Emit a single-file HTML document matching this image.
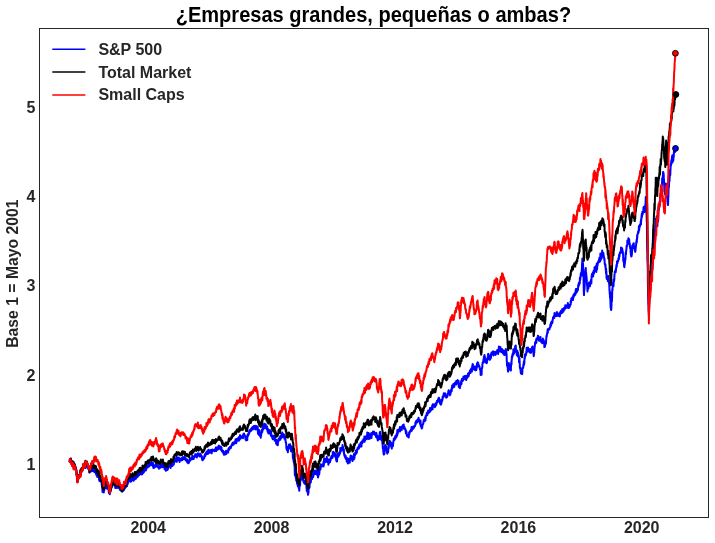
<!DOCTYPE html>
<html lang="es"><head><meta charset="utf-8"><title>¿Empresas grandes, pequeñas o ambas?</title>
<style>html,body{margin:0;padding:0;background:#fff}body{width:715px;height:543px;overflow:hidden}svg{display:block;will-change:transform;opacity:.999}text{font-family:"Liberation Sans",Arial,sans-serif;font-weight:bold}.t{fill:#262626}</style></head><body>
<svg width="715" height="543" viewBox="0 0 715 543">
<rect width="715" height="543" fill="#fff"/>
<g fill="none" stroke-linejoin="round" stroke-linecap="butt" stroke-width="2.0">
<path stroke="#0000ff" d="M69.13 462.0 L69.26 461.8 L69.38 461.6 L69.51 461.3 L69.63 461.7 L69.76 460.9 L69.88 459.4 L70.01 461.0 L70.13 460.5 L70.26 460.1 L70.38 460.0 L70.51 460.5 L70.63 460.1 L70.76 458.7 L70.88 462.2 L71.01 463.4 L71.13 462.2 L71.26 460.3 L71.38 462.9 L71.51 463.6 L71.63 462.5 L71.76 462.4 L71.88 461.5 L72.01 464.4 L72.13 463.1 L72.26 461.7 L72.38 462.0 L72.51 462.0 L72.63 462.5 L72.76 462.7 L72.88 461.5 L73.01 463.0 L73.13 462.7 L73.26 463.9 L73.38 464.2 L73.51 464.4 L73.63 463.4 L73.76 463.6 L73.88 462.2 L74.01 464.7 L74.13 465.9 L74.26 463.9 L74.38 464.3 L74.51 464.4 L74.63 464.6 L74.76 464.7 L74.88 467.0 L75.01 466.1 L75.13 466.2 L75.26 467.9 L75.38 466.9 L75.51 466.5 L75.63 468.3 L75.76 469.5 L75.88 468.9 L76.01 470.6 L76.13 469.6 L76.26 470.1 L76.38 470.8 L76.51 472.5 L76.63 474.6 L76.76 474.2 L76.88 473.2 L77.01 476.6 L77.13 477.4 L77.26 479.5 L77.38 481.6 L77.51 481.2 L77.63 481.8 L77.76 479.8 L77.88 478.3 L78.01 476.3 L78.13 477.3 L78.26 478.7 L78.38 476.6 L78.51 477.6 L78.63 476.5 L78.76 477.3 L78.88 475.2 L79.01 476.1 L79.13 476.0 L79.26 476.1 L79.38 477.3 L79.51 474.5 L79.63 474.9 L79.76 475.9 L79.88 476.0 L80.01 474.2 L80.13 473.7 L80.26 474.9 L80.38 470.9 L80.51 473.8 L80.63 475.5 L80.76 471.6 L80.88 472.3 L81.01 470.7 L81.13 469.7 L81.26 469.8 L81.38 471.7 L81.51 470.2 L81.63 471.6 L81.76 470.6 L81.88 469.7 L82.01 470.7 L82.13 470.1 L82.26 468.6 L82.38 469.9 L82.51 468.8 L82.63 468.9 L82.76 468.4 L82.88 469.0 L83.01 467.9 L83.13 465.1 L83.26 465.9 L83.38 467.6 L83.51 467.1 L83.63 467.9 L83.76 467.5 L83.88 465.9 L84.01 467.6 L84.13 465.9 L84.26 464.4 L84.38 466.1 L84.51 464.2 L84.63 466.0 L84.76 466.3 L84.88 466.2 L85.01 463.9 L85.13 465.2 L85.26 462.6 L85.38 462.3 L85.51 462.4 L85.63 468.0 L85.76 465.9 L85.88 464.3 L86.01 462.5 L86.13 463.4 L86.26 462.6 L86.38 462.5 L86.51 463.0 L86.63 463.4 L86.76 464.0 L86.88 464.1 L87.01 463.9 L87.13 465.6 L87.26 463.5 L87.38 466.4 L87.51 465.5 L87.63 467.4 L87.76 467.3 L87.88 464.8 L88.01 465.2 L88.13 466.6 L88.26 468.9 L88.38 466.6 L88.51 468.0 L88.63 468.9 L88.76 468.7 L88.88 468.7 L89.01 469.9 L89.13 468.7 L89.26 469.6 L89.38 469.7 L89.51 472.6 L89.63 471.6 L89.76 469.4 L89.88 471.9 L90.01 471.4 L90.13 470.2 L90.26 471.6 L90.38 471.6 L90.51 471.6 L90.63 468.5 L90.76 471.7 L90.88 469.1 L91.01 468.5 L91.13 465.8 L91.26 468.0 L91.38 468.3 L91.51 467.0 L91.63 467.2 L91.76 467.2 L91.88 468.0 L92.01 466.9 L92.13 467.8 L92.26 468.0 L92.38 469.2 L92.51 469.5 L92.63 471.1 L92.76 467.6 L92.88 467.2 L93.01 471.0 L93.13 469.5 L93.26 467.5 L93.38 469.2 L93.51 467.8 L93.63 470.6 L93.76 470.5 L93.88 470.5 L94.01 471.3 L94.13 470.5 L94.26 469.0 L94.38 472.1 L94.51 470.8 L94.63 470.9 L94.76 469.9 L94.88 471.4 L95.01 470.4 L95.13 470.1 L95.26 470.3 L95.38 471.4 L95.51 471.2 L95.63 471.5 L95.76 473.7 L95.88 472.0 L96.01 471.7 L96.13 473.5 L96.26 473.2 L96.38 473.7 L96.51 475.5 L96.63 472.3 L96.76 472.4 L96.88 475.2 L97.01 475.6 L97.13 473.5 L97.26 476.9 L97.38 475.1 L97.51 474.7 L97.63 475.4 L97.76 474.0 L97.88 475.0 L98.01 475.3 L98.13 475.3 L98.26 475.1 L98.38 476.0 L98.51 474.9 L98.63 475.3 L98.76 475.6 L98.88 475.3 L99.01 478.3 L99.13 479.8 L99.26 478.0 L99.38 475.8 L99.51 481.0 L99.63 478.4 L99.76 477.1 L99.88 478.0 L100.01 481.2 L100.13 480.8 L100.26 479.8 L100.38 479.0 L100.51 481.2 L100.63 481.0 L100.76 479.7 L100.88 481.5 L101.01 481.5 L101.13 481.3 L101.26 481.8 L101.38 482.4 L101.51 483.0 L101.63 482.2 L101.76 485.3 L101.88 482.9 L102.01 486.4 L102.13 486.5 L102.26 488.3 L102.38 488.1 L102.51 492.0 L102.63 489.7 L102.76 489.8 L102.88 490.9 L103.01 491.2 L103.13 491.4 L103.26 491.9 L103.38 492.3 L103.51 492.0 L103.63 490.8 L103.76 492.5 L103.88 491.8 L104.01 489.0 L104.13 486.7 L104.26 487.9 L104.38 489.9 L104.51 486.7 L104.63 488.7 L104.76 487.6 L104.88 485.8 L105.01 486.2 L105.13 487.4 L105.26 487.0 L105.38 487.1 L105.51 485.1 L105.63 485.2 L105.76 485.8 L105.88 485.7 L106.01 485.4 L106.13 483.4 L106.26 486.1 L106.38 484.7 L106.51 485.8 L106.63 488.4 L106.76 486.5 L106.88 485.4 L107.01 483.5 L107.13 487.6 L107.26 488.0 L107.38 487.1 L107.51 488.0 L107.63 487.9 L107.76 487.3 L107.88 487.2 L108.01 486.5 L108.13 487.2 L108.26 487.5 L108.38 488.8 L108.51 490.3 L108.63 488.8 L108.76 490.3 L108.88 492.9 L109.01 490.5 L109.13 490.8 L109.26 491.0 L109.38 492.4 L109.51 492.4 L109.63 493.6 L109.76 494.3 L109.88 493.4 L110.01 492.4 L110.13 492.8 L110.26 491.1 L110.38 491.6 L110.51 490.2 L110.63 488.6 L110.76 488.7 L110.88 488.0 L111.01 489.5 L111.13 488.5 L111.26 488.6 L111.38 487.3 L111.51 486.4 L111.63 485.3 L111.76 485.4 L111.88 486.9 L112.01 484.4 L112.13 486.2 L112.26 486.8 L112.38 483.1 L112.51 483.5 L112.63 483.4 L112.76 485.2 L112.88 484.0 L113.01 481.7 L113.13 483.5 L113.26 482.7 L113.38 484.1 L113.51 483.5 L113.63 483.4 L113.76 483.1 L113.88 483.3 L114.01 482.6 L114.13 483.8 L114.26 483.9 L114.38 483.6 L114.51 483.7 L114.63 484.2 L114.76 485.5 L114.88 484.4 L115.01 483.5 L115.13 486.0 L115.26 488.0 L115.38 484.4 L115.51 485.3 L115.63 485.4 L115.76 486.1 L115.88 486.1 L116.01 486.3 L116.13 484.5 L116.26 485.1 L116.38 485.2 L116.51 485.6 L116.63 484.1 L116.76 484.6 L116.88 486.4 L117.01 488.1 L117.13 483.2 L117.26 483.0 L117.38 486.2 L117.51 486.6 L117.63 486.4 L117.76 485.7 L117.88 485.2 L118.01 487.7 L118.13 486.7 L118.26 486.8 L118.38 485.5 L118.51 486.9 L118.63 486.0 L118.76 486.3 L118.88 486.1 L119.01 486.2 L119.13 486.3 L119.26 486.2 L119.38 488.2 L119.51 488.9 L119.63 486.6 L119.76 487.4 L119.88 488.2 L120.01 490.0 L120.13 488.8 L120.26 489.0 L120.38 489.0 L120.51 488.8 L120.63 489.0 L120.76 488.9 L120.88 488.9 L121.01 489.3 L121.13 490.1 L121.26 489.4 L121.38 490.9 L121.51 490.2 L121.63 489.5 L121.76 487.5 L121.88 490.6 L122.01 490.9 L122.13 490.0 L122.26 489.0 L122.38 490.5 L122.51 491.5 L122.63 490.4 L122.76 491.1 L122.88 490.1 L123.01 490.5 L123.13 490.4 L123.26 488.4 L123.38 489.9 L123.51 490.7 L123.63 489.6 L123.76 488.5 L123.88 485.9 L124.01 487.4 L124.13 485.5 L124.26 488.9 L124.38 489.1 L124.51 488.2 L124.63 487.0 L124.76 485.6 L124.88 486.7 L125.01 486.0 L125.13 487.9 L125.26 486.8 L125.38 486.8 L125.51 487.3 L125.63 487.5 L125.76 487.1 L125.88 486.2 L126.01 486.3 L126.13 486.5 L126.26 485.8 L126.38 485.3 L126.51 483.7 L126.63 482.3 L126.76 484.5 L126.88 482.6 L127.01 486.1 L127.13 485.2 L127.26 482.8 L127.38 483.1 L127.51 482.2 L127.63 482.8 L127.76 484.0 L127.88 482.2 L128.01 479.9 L128.13 482.8 L128.26 482.4 L128.38 482.3 L128.51 481.3 L128.63 480.6 L128.76 481.5 L128.88 480.5 L129.01 480.2 L129.13 480.6 L129.26 479.9 L129.38 480.4 L129.51 480.7 L129.63 478.5 L129.76 477.7 L129.88 479.3 L130.01 480.1 L130.13 479.1 L130.26 479.3 L130.38 476.6 L130.51 480.8 L130.63 480.9 L130.76 481.8 L130.88 480.4 L131.01 480.4 L131.13 480.1 L131.26 479.0 L131.38 481.2 L131.51 480.3 L131.63 479.6 L131.76 478.1 L131.88 478.5 L132.01 478.8 L132.13 479.0 L132.26 478.7 L132.38 477.7 L132.51 477.4 L132.63 476.9 L132.76 478.9 L132.88 479.4 L133.01 479.3 L133.13 480.1 L133.26 477.0 L133.38 478.9 L133.51 480.8 L133.63 480.8 L133.76 478.1 L133.88 479.4 L134.01 478.6 L134.13 477.7 L134.26 478.0 L134.38 477.5 L134.51 478.2 L134.63 478.8 L134.76 479.4 L134.88 478.1 L135.01 478.5 L135.13 477.7 L135.26 477.5 L135.38 476.5 L135.51 477.9 L135.63 476.8 L135.76 478.2 L135.88 478.8 L136.01 478.0 L136.13 478.2 L136.26 477.4 L136.38 477.8 L136.51 477.1 L136.63 477.6 L136.76 476.1 L136.88 477.1 L137.01 475.0 L137.13 475.6 L137.26 476.5 L137.38 476.2 L137.51 477.0 L137.63 476.7 L137.76 476.6 L137.88 475.0 L138.01 475.6 L138.13 475.9 L138.26 474.9 L138.38 474.9 L138.51 473.5 L138.63 474.7 L138.76 475.4 L138.88 473.9 L139.01 475.3 L139.13 475.0 L139.26 475.2 L139.38 473.7 L139.51 473.5 L139.63 473.3 L139.76 472.7 L139.88 474.2 L140.01 474.0 L140.13 473.4 L140.26 472.4 L140.38 472.5 L140.51 473.6 L140.63 473.4 L140.76 473.8 L140.88 473.0 L141.01 473.5 L141.13 473.0 L141.26 473.2 L141.38 474.4 L141.51 473.4 L141.63 473.8 L141.76 473.6 L141.88 473.3 L142.01 473.8 L142.13 472.1 L142.26 474.3 L142.38 470.0 L142.51 470.3 L142.63 469.9 L142.76 472.1 L142.88 472.8 L143.01 471.5 L143.13 471.0 L143.26 472.9 L143.38 472.7 L143.51 471.3 L143.63 470.8 L143.76 470.8 L143.88 471.5 L144.01 471.9 L144.13 471.9 L144.26 471.0 L144.38 469.3 L144.51 470.8 L144.63 468.6 L144.76 470.2 L144.88 469.1 L145.01 469.4 L145.13 468.8 L145.26 470.0 L145.38 469.1 L145.51 468.9 L145.63 466.5 L145.76 468.3 L145.88 470.5 L146.01 469.7 L146.13 467.8 L146.26 468.3 L146.38 469.1 L146.51 468.2 L146.63 467.0 L146.76 467.1 L146.88 466.9 L147.01 467.3 L147.13 466.0 L147.26 466.6 L147.38 465.9 L147.51 466.3 L147.63 466.6 L147.76 467.5 L147.88 464.9 L148.01 466.7 L148.13 465.5 L148.26 465.0 L148.38 466.5 L148.51 466.0 L148.63 466.0 L148.76 464.6 L148.88 464.9 L149.01 466.2 L149.13 466.4 L149.26 465.5 L149.38 465.2 L149.51 464.5 L149.63 463.7 L149.76 463.8 L149.88 464.6 L150.01 463.0 L150.13 463.7 L150.26 463.2 L150.38 464.3 L150.51 463.9 L150.63 462.7 L150.76 463.8 L150.88 465.2 L151.01 464.3 L151.13 462.8 L151.26 462.9 L151.38 461.7 L151.51 462.9 L151.63 463.1 L151.76 464.9 L151.88 464.4 L152.01 463.6 L152.13 464.0 L152.26 464.0 L152.38 463.8 L152.51 464.1 L152.63 463.4 L152.76 466.3 L152.88 465.2 L153.01 463.1 L153.13 465.2 L153.26 466.1 L153.38 468.0 L153.51 466.0 L153.63 464.6 L153.76 467.4 L153.88 466.4 L154.01 465.8 L154.13 466.1 L154.26 467.0 L154.38 467.7 L154.51 466.0 L154.63 466.1 L154.76 467.4 L154.88 467.4 L155.01 466.7 L155.13 466.7 L155.26 465.3 L155.38 465.9 L155.51 466.2 L155.63 466.5 L155.76 466.2 L155.88 465.5 L156.01 465.0 L156.13 463.0 L156.26 464.3 L156.38 464.3 L156.51 464.6 L156.63 464.4 L156.76 463.1 L156.88 465.0 L157.01 465.3 L157.13 465.3 L157.26 465.4 L157.38 466.8 L157.51 465.9 L157.63 466.8 L157.76 467.3 L157.88 467.3 L158.01 467.0 L158.13 465.9 L158.26 466.8 L158.38 467.1 L158.51 467.2 L158.63 467.5 L158.76 468.0 L158.88 468.7 L159.01 468.1 L159.13 468.5 L159.26 466.6 L159.38 467.6 L159.51 467.9 L159.63 467.1 L159.76 467.0 L159.88 467.3 L160.01 467.5 L160.13 466.4 L160.26 465.5 L160.38 467.1 L160.51 467.7 L160.63 466.3 L160.76 467.1 L160.88 464.6 L161.01 465.0 L161.13 465.7 L161.26 465.1 L161.38 465.1 L161.51 465.4 L161.63 465.2 L161.76 465.4 L161.88 465.6 L162.01 466.9 L162.13 466.6 L162.26 467.3 L162.38 466.7 L162.51 466.4 L162.63 464.9 L162.76 465.9 L162.88 463.5 L163.01 466.1 L163.13 466.3 L163.26 466.9 L163.38 466.5 L163.51 466.2 L163.63 466.1 L163.76 466.2 L163.88 466.3 L164.01 466.9 L164.13 466.7 L164.26 466.0 L164.38 467.4 L164.51 469.2 L164.63 467.4 L164.76 467.7 L164.88 469.2 L165.01 468.7 L165.13 467.6 L165.26 468.3 L165.38 467.3 L165.51 468.0 L165.63 469.8 L165.76 470.7 L165.88 468.6 L166.01 469.2 L166.13 470.6 L166.26 469.4 L166.38 469.6 L166.51 470.3 L166.63 468.9 L166.76 469.3 L166.88 468.1 L167.01 467.0 L167.13 468.8 L167.26 468.9 L167.38 468.5 L167.51 469.4 L167.63 470.0 L167.76 468.2 L167.88 469.0 L168.01 466.9 L168.13 468.7 L168.26 466.5 L168.38 465.4 L168.51 465.3 L168.63 466.9 L168.76 466.5 L168.88 465.7 L169.01 465.3 L169.13 466.0 L169.26 465.4 L169.38 465.3 L169.51 465.2 L169.63 466.3 L169.76 465.4 L169.88 464.9 L170.01 465.2 L170.13 465.7 L170.26 466.8 L170.38 465.7 L170.51 466.5 L170.63 467.9 L170.76 465.6 L170.88 465.9 L171.01 462.9 L171.13 463.9 L171.26 463.7 L171.38 464.1 L171.51 464.7 L171.63 465.0 L171.76 464.6 L171.88 464.5 L172.01 465.5 L172.13 465.5 L172.26 464.4 L172.38 466.1 L172.51 465.7 L172.63 464.8 L172.76 464.2 L172.88 464.1 L173.01 464.2 L173.13 464.1 L173.26 463.4 L173.38 463.4 L173.51 462.5 L173.63 462.5 L173.76 464.6 L173.88 463.7 L174.01 461.9 L174.13 462.8 L174.26 461.5 L174.38 462.5 L174.51 461.5 L174.63 461.7 L174.76 461.6 L174.88 460.3 L175.01 460.6 L175.13 461.0 L175.26 461.0 L175.38 460.0 L175.51 460.0 L175.63 458.7 L175.76 458.6 L175.88 459.2 L176.01 460.4 L176.13 460.5 L176.26 459.9 L176.38 459.9 L176.51 458.4 L176.63 457.0 L176.76 461.0 L176.88 461.8 L177.01 459.6 L177.13 458.0 L177.26 458.4 L177.38 457.6 L177.51 459.1 L177.63 459.1 L177.76 459.6 L177.88 459.1 L178.01 459.0 L178.13 458.5 L178.26 458.6 L178.38 458.2 L178.51 457.8 L178.63 458.5 L178.76 460.2 L178.88 457.5 L179.01 459.2 L179.13 459.8 L179.26 459.4 L179.38 460.6 L179.51 462.0 L179.63 460.8 L179.76 460.9 L179.88 458.6 L180.01 459.3 L180.13 460.3 L180.26 460.2 L180.38 460.5 L180.51 460.1 L180.63 459.9 L180.76 460.1 L180.88 459.5 L181.01 460.6 L181.13 460.3 L181.26 459.6 L181.38 459.5 L181.51 459.2 L181.63 458.6 L181.76 458.1 L181.88 458.8 L182.01 458.3 L182.13 458.1 L182.26 459.8 L182.38 459.6 L182.51 460.0 L182.63 459.2 L182.76 457.9 L182.88 457.1 L183.01 457.6 L183.13 459.1 L183.26 458.6 L183.38 457.9 L183.51 458.1 L183.63 457.4 L183.76 457.5 L183.88 457.5 L184.01 458.7 L184.13 458.9 L184.26 457.8 L184.38 458.3 L184.51 458.7 L184.63 457.2 L184.76 456.6 L184.88 457.1 L185.01 458.7 L185.13 457.5 L185.26 458.3 L185.38 458.8 L185.51 459.5 L185.63 460.5 L185.76 458.6 L185.88 459.2 L186.01 459.9 L186.13 459.8 L186.26 459.6 L186.38 460.2 L186.51 460.5 L186.63 459.6 L186.76 460.1 L186.88 460.6 L187.01 462.0 L187.13 459.5 L187.26 462.0 L187.38 462.6 L187.51 461.4 L187.63 459.9 L187.76 462.0 L187.88 460.9 L188.01 461.8 L188.13 463.1 L188.26 462.6 L188.38 462.3 L188.51 463.3 L188.63 462.4 L188.76 463.0 L188.88 462.6 L189.01 462.1 L189.13 460.7 L189.26 461.8 L189.38 460.7 L189.51 460.6 L189.63 460.0 L189.76 461.3 L189.88 460.3 L190.01 460.0 L190.13 458.6 L190.26 460.2 L190.38 459.5 L190.51 458.9 L190.63 458.6 L190.76 459.0 L190.88 458.7 L191.01 458.3 L191.13 458.7 L191.26 458.1 L191.38 459.3 L191.51 458.8 L191.63 459.5 L191.76 459.5 L191.88 458.0 L192.01 457.9 L192.13 457.9 L192.26 455.7 L192.38 456.4 L192.51 457.8 L192.63 457.3 L192.76 458.7 L192.88 457.3 L193.01 457.1 L193.13 457.2 L193.26 458.9 L193.38 456.8 L193.51 458.9 L193.63 456.5 L193.76 458.9 L193.88 456.8 L194.01 457.0 L194.13 456.8 L194.26 457.4 L194.38 457.2 L194.51 455.6 L194.63 456.7 L194.76 455.8 L194.88 455.9 L195.01 455.5 L195.13 454.8 L195.26 454.2 L195.38 454.7 L195.51 455.6 L195.63 455.2 L195.76 456.2 L195.88 455.0 L196.01 454.3 L196.13 456.2 L196.26 456.9 L196.38 455.9 L196.51 456.4 L196.63 457.1 L196.76 456.7 L196.88 457.4 L197.01 455.3 L197.13 454.3 L197.26 456.3 L197.38 456.2 L197.51 456.2 L197.63 454.0 L197.76 453.6 L197.88 453.3 L198.01 454.8 L198.13 454.7 L198.26 454.7 L198.38 454.7 L198.51 455.4 L198.63 454.1 L198.76 455.0 L198.88 455.3 L199.01 455.1 L199.13 455.4 L199.26 454.5 L199.38 455.0 L199.51 455.7 L199.63 456.4 L199.76 455.9 L199.88 455.6 L200.01 455.7 L200.13 453.5 L200.26 455.0 L200.38 455.6 L200.51 455.1 L200.63 454.9 L200.76 455.3 L200.88 455.6 L201.01 455.7 L201.13 455.4 L201.26 455.2 L201.38 456.9 L201.51 455.4 L201.63 456.6 L201.76 456.5 L201.88 458.2 L202.01 459.2 L202.13 459.7 L202.26 458.3 L202.38 457.8 L202.51 458.5 L202.63 459.3 L202.76 460.3 L202.88 457.5 L203.01 459.7 L203.13 459.7 L203.26 459.3 L203.38 459.1 L203.51 458.4 L203.63 458.4 L203.76 458.4 L203.88 458.6 L204.01 457.4 L204.13 457.7 L204.26 458.2 L204.38 455.8 L204.51 456.2 L204.63 455.8 L204.76 455.6 L204.88 454.3 L205.01 455.0 L205.13 456.4 L205.26 455.5 L205.38 455.5 L205.51 455.4 L205.63 455.0 L205.76 454.7 L205.88 453.0 L206.01 454.4 L206.13 453.3 L206.26 453.7 L206.38 452.1 L206.51 452.5 L206.63 452.1 L206.76 452.6 L206.88 451.5 L207.01 452.8 L207.13 452.2 L207.26 454.1 L207.38 453.3 L207.51 453.2 L207.63 453.0 L207.76 454.1 L207.88 453.8 L208.01 450.4 L208.13 452.6 L208.26 452.7 L208.38 449.8 L208.51 453.0 L208.63 451.3 L208.76 451.4 L208.88 452.3 L209.01 450.5 L209.13 450.9 L209.26 450.3 L209.38 451.5 L209.51 450.7 L209.63 450.5 L209.76 452.8 L209.88 451.7 L210.01 450.4 L210.13 450.7 L210.26 450.9 L210.38 450.9 L210.51 450.6 L210.63 451.7 L210.76 451.8 L210.88 450.1 L211.01 451.3 L211.13 452.1 L211.26 450.1 L211.38 450.4 L211.51 450.2 L211.63 452.0 L211.76 453.3 L211.88 450.7 L212.01 450.5 L212.13 450.2 L212.26 449.5 L212.38 449.7 L212.51 450.4 L212.63 451.0 L212.76 450.7 L212.88 449.9 L213.01 451.1 L213.13 450.9 L213.26 449.9 L213.38 450.5 L213.51 450.1 L213.63 450.5 L213.76 450.5 L213.88 449.8 L214.01 450.2 L214.13 449.7 L214.26 450.0 L214.38 451.0 L214.51 451.2 L214.63 449.5 L214.76 451.1 L214.88 451.1 L215.01 450.9 L215.13 450.7 L215.26 449.7 L215.38 449.5 L215.51 448.4 L215.63 450.5 L215.76 448.1 L215.88 447.6 L216.01 449.0 L216.13 451.1 L216.26 450.9 L216.38 449.0 L216.51 448.5 L216.63 449.6 L216.76 450.3 L216.88 447.6 L217.01 448.1 L217.13 448.3 L217.26 448.2 L217.38 447.9 L217.51 448.4 L217.63 449.1 L217.76 449.1 L217.88 449.5 L218.01 448.0 L218.13 448.8 L218.26 448.9 L218.38 446.3 L218.51 446.7 L218.63 448.9 L218.76 445.7 L218.88 446.5 L219.01 447.9 L219.13 445.8 L219.26 446.2 L219.38 447.1 L219.51 448.4 L219.63 447.0 L219.76 447.4 L219.88 447.5 L220.01 448.0 L220.13 448.7 L220.26 448.4 L220.38 447.9 L220.51 446.4 L220.63 446.9 L220.76 447.5 L220.88 448.0 L221.01 450.0 L221.13 447.1 L221.26 448.2 L221.38 447.9 L221.51 447.4 L221.63 450.7 L221.76 450.0 L221.88 451.3 L222.01 451.0 L222.13 450.7 L222.26 450.3 L222.38 451.6 L222.51 451.6 L222.63 450.5 L222.76 450.9 L222.88 452.4 L223.01 451.1 L223.13 450.8 L223.26 451.7 L223.38 453.1 L223.51 453.6 L223.63 451.9 L223.76 452.3 L223.88 454.7 L224.01 454.1 L224.13 454.7 L224.26 453.3 L224.38 453.3 L224.51 453.7 L224.63 454.1 L224.76 453.3 L224.88 453.8 L225.01 453.3 L225.13 453.4 L225.26 454.4 L225.38 451.7 L225.51 451.7 L225.63 451.2 L225.76 453.7 L225.88 452.1 L226.01 451.0 L226.13 450.7 L226.26 453.2 L226.38 454.0 L226.51 452.4 L226.63 451.4 L226.76 451.6 L226.88 451.9 L227.01 451.4 L227.13 451.7 L227.26 450.9 L227.38 450.9 L227.51 451.8 L227.63 451.7 L227.76 451.0 L227.88 451.3 L228.01 450.9 L228.13 452.6 L228.26 449.9 L228.38 448.9 L228.51 448.7 L228.63 449.8 L228.76 449.4 L228.88 448.2 L229.01 448.7 L229.13 447.7 L229.26 449.2 L229.38 449.7 L229.51 448.1 L229.63 447.6 L229.76 447.4 L229.88 446.9 L230.01 447.7 L230.13 448.0 L230.26 447.4 L230.38 446.9 L230.51 447.0 L230.63 447.8 L230.76 446.7 L230.88 447.9 L231.01 446.7 L231.13 446.5 L231.26 445.7 L231.38 446.1 L231.51 445.2 L231.63 445.1 L231.76 445.7 L231.88 444.7 L232.01 444.7 L232.13 444.5 L232.26 443.4 L232.38 444.8 L232.51 445.0 L232.63 442.8 L232.76 443.9 L232.88 445.0 L233.01 443.2 L233.13 442.4 L233.26 443.8 L233.38 444.4 L233.51 444.4 L233.63 444.4 L233.76 442.5 L233.88 443.2 L234.01 442.5 L234.13 443.6 L234.26 442.3 L234.38 443.0 L234.51 442.3 L234.63 442.4 L234.76 442.3 L234.88 442.5 L235.01 442.1 L235.13 442.5 L235.26 440.6 L235.38 441.2 L235.51 439.6 L235.63 442.7 L235.76 443.2 L235.88 441.2 L236.01 441.1 L236.13 439.1 L236.26 443.2 L236.38 441.8 L236.51 442.0 L236.63 439.9 L236.76 440.0 L236.88 438.9 L237.01 440.4 L237.13 439.2 L237.26 440.0 L237.38 440.8 L237.51 440.0 L237.63 438.7 L237.76 439.0 L237.88 439.5 L238.01 438.6 L238.13 439.1 L238.26 437.7 L238.38 438.1 L238.51 438.4 L238.63 438.6 L238.76 440.2 L238.88 440.8 L239.01 437.1 L239.13 436.9 L239.26 437.0 L239.38 438.7 L239.51 439.6 L239.63 439.6 L239.76 436.4 L239.88 437.0 L240.01 435.0 L240.13 436.1 L240.26 436.0 L240.38 438.3 L240.51 436.4 L240.63 437.2 L240.76 438.4 L240.88 436.9 L241.01 437.4 L241.13 437.8 L241.26 437.3 L241.38 437.1 L241.51 436.8 L241.63 436.3 L241.76 436.7 L241.88 436.6 L242.01 437.4 L242.13 437.3 L242.26 436.5 L242.38 437.6 L242.51 436.8 L242.63 437.0 L242.76 436.6 L242.88 437.8 L243.01 438.3 L243.13 435.5 L243.26 434.4 L243.38 434.0 L243.51 435.6 L243.63 435.1 L243.76 435.6 L243.88 435.1 L244.01 433.4 L244.13 435.1 L244.26 434.7 L244.38 434.7 L244.51 435.4 L244.63 435.6 L244.76 435.2 L244.88 435.9 L245.01 435.6 L245.13 436.0 L245.26 437.5 L245.38 436.0 L245.51 439.4 L245.63 439.1 L245.76 439.3 L245.88 439.9 L246.01 439.3 L246.13 440.4 L246.26 439.9 L246.38 438.8 L246.51 439.2 L246.63 438.4 L246.76 437.8 L246.88 436.4 L247.01 438.5 L247.13 437.7 L247.26 440.1 L247.38 436.9 L247.51 436.5 L247.63 434.9 L247.76 434.4 L247.88 435.1 L248.01 436.1 L248.13 434.8 L248.26 434.3 L248.38 433.3 L248.51 434.4 L248.63 433.8 L248.76 434.5 L248.88 433.7 L249.01 433.4 L249.13 432.3 L249.26 431.1 L249.38 432.4 L249.51 432.4 L249.63 429.9 L249.76 430.9 L249.88 430.8 L250.01 430.9 L250.13 430.7 L250.26 429.7 L250.38 430.4 L250.51 430.6 L250.63 429.4 L250.76 431.2 L250.88 430.8 L251.01 430.4 L251.13 428.8 L251.26 428.7 L251.38 430.6 L251.51 429.7 L251.63 429.1 L251.76 427.7 L251.88 429.0 L252.01 428.8 L252.13 428.9 L252.26 428.1 L252.38 427.9 L252.51 427.1 L252.63 427.1 L252.76 428.6 L252.88 428.8 L253.01 429.4 L253.13 428.1 L253.26 427.0 L253.38 426.6 L253.51 427.7 L253.63 428.2 L253.76 426.1 L253.88 427.5 L254.01 427.0 L254.13 428.4 L254.26 428.8 L254.38 427.3 L254.51 428.3 L254.63 428.3 L254.76 426.3 L254.88 428.4 L255.01 429.1 L255.13 428.9 L255.26 425.7 L255.38 429.2 L255.51 428.2 L255.63 426.7 L255.76 428.3 L255.88 429.6 L256.01 428.6 L256.13 428.6 L256.26 426.1 L256.38 427.8 L256.51 428.1 L256.63 427.5 L256.76 427.7 L256.88 426.5 L257.01 427.2 L257.13 429.1 L257.26 428.8 L257.38 429.4 L257.51 427.1 L257.63 428.0 L257.76 426.6 L257.88 431.5 L258.01 433.7 L258.13 433.0 L258.26 431.4 L258.38 432.1 L258.51 434.0 L258.63 433.6 L258.76 431.3 L258.88 432.5 L259.01 432.6 L259.13 435.1 L259.26 430.0 L259.38 430.4 L259.51 434.9 L259.63 431.8 L259.76 434.7 L259.88 435.4 L260.01 436.0 L260.13 435.7 L260.26 435.7 L260.38 435.1 L260.51 435.4 L260.63 434.5 L260.76 437.7 L260.88 436.1 L261.01 434.9 L261.13 435.7 L261.26 433.1 L261.38 433.7 L261.51 432.1 L261.63 433.0 L261.76 430.8 L261.88 429.5 L262.01 430.9 L262.13 431.5 L262.26 432.1 L262.38 430.6 L262.51 429.8 L262.63 429.9 L262.76 428.1 L262.88 428.1 L263.01 425.0 L263.13 424.2 L263.26 428.2 L263.38 429.4 L263.51 427.4 L263.63 426.5 L263.76 428.5 L263.88 426.9 L264.01 424.8 L264.13 425.8 L264.26 424.4 L264.38 425.3 L264.51 424.5 L264.63 423.8 L264.76 425.1 L264.88 427.0 L265.01 425.1 L265.13 426.6 L265.26 427.0 L265.38 424.2 L265.51 427.9 L265.63 425.9 L265.76 424.4 L265.88 427.3 L266.01 427.2 L266.13 428.4 L266.26 427.2 L266.38 428.1 L266.51 428.8 L266.63 428.7 L266.76 428.0 L266.88 429.4 L267.01 426.8 L267.13 426.5 L267.26 428.4 L267.38 430.2 L267.51 430.4 L267.63 431.6 L267.76 430.7 L267.88 428.7 L268.01 429.9 L268.13 430.7 L268.26 433.1 L268.38 432.6 L268.51 432.5 L268.63 433.2 L268.76 432.6 L268.88 433.5 L269.01 430.5 L269.13 430.1 L269.26 430.3 L269.38 431.2 L269.51 432.4 L269.63 431.6 L269.76 430.8 L269.88 430.6 L270.01 430.1 L270.13 431.9 L270.26 433.3 L270.38 433.0 L270.51 433.3 L270.63 434.0 L270.76 435.5 L270.88 433.2 L271.01 433.4 L271.13 431.4 L271.26 436.1 L271.38 435.5 L271.51 436.0 L271.63 435.5 L271.76 436.1 L271.88 436.6 L272.01 436.6 L272.13 437.6 L272.26 437.2 L272.38 438.1 L272.51 436.2 L272.63 437.5 L272.76 439.3 L272.88 435.4 L273.01 435.7 L273.13 436.5 L273.26 437.3 L273.38 438.8 L273.51 438.1 L273.63 437.9 L273.76 438.4 L273.88 439.3 L274.01 439.1 L274.13 438.6 L274.26 438.6 L274.38 437.1 L274.51 438.8 L274.63 435.4 L274.76 440.8 L274.88 439.8 L275.01 436.7 L275.13 438.2 L275.26 438.8 L275.38 440.1 L275.51 440.3 L275.63 439.9 L275.76 440.9 L275.88 442.0 L276.01 441.3 L276.13 443.6 L276.26 442.8 L276.38 442.2 L276.51 439.9 L276.63 442.9 L276.76 443.9 L276.88 444.7 L277.01 442.6 L277.13 443.1 L277.26 444.3 L277.38 443.6 L277.51 442.5 L277.63 443.6 L277.76 445.2 L277.88 443.4 L278.01 442.4 L278.13 440.7 L278.26 441.0 L278.38 441.8 L278.51 439.8 L278.63 438.8 L278.76 440.7 L278.88 440.0 L279.01 439.2 L279.13 439.4 L279.26 439.2 L279.38 439.1 L279.51 440.0 L279.63 437.6 L279.76 437.2 L279.88 438.7 L280.01 439.2 L280.13 438.6 L280.26 439.8 L280.38 435.9 L280.51 437.0 L280.63 436.8 L280.76 435.6 L280.88 438.5 L281.01 438.5 L281.13 436.9 L281.26 437.0 L281.38 436.9 L281.51 436.3 L281.63 436.9 L281.76 436.0 L281.88 434.0 L282.01 433.4 L282.13 434.2 L282.26 432.5 L282.38 436.8 L282.51 437.2 L282.63 434.4 L282.76 435.5 L282.88 435.2 L283.01 433.7 L283.13 435.5 L283.26 435.6 L283.38 434.7 L283.51 436.4 L283.63 436.1 L283.76 434.3 L283.88 434.7 L284.01 434.9 L284.13 436.6 L284.26 436.9 L284.38 438.6 L284.51 436.8 L284.63 436.1 L284.76 436.1 L284.88 437.2 L285.01 437.9 L285.13 439.6 L285.26 437.2 L285.38 438.6 L285.51 440.5 L285.63 441.0 L285.76 442.7 L285.88 442.5 L286.01 442.5 L286.13 443.2 L286.26 444.8 L286.38 447.7 L286.51 449.0 L286.63 447.5 L286.76 447.5 L286.88 448.1 L287.01 448.5 L287.13 450.5 L287.26 450.4 L287.38 451.0 L287.51 449.3 L287.63 449.2 L287.76 450.3 L287.88 452.3 L288.01 449.6 L288.13 450.5 L288.26 446.5 L288.38 446.4 L288.51 446.6 L288.63 447.8 L288.76 448.4 L288.88 448.6 L289.01 444.4 L289.13 446.1 L289.26 445.2 L289.38 448.0 L289.51 447.7 L289.63 446.3 L289.76 446.0 L289.88 445.5 L290.01 444.8 L290.13 444.3 L290.26 445.3 L290.38 445.8 L290.51 445.8 L290.63 446.9 L290.76 448.1 L290.88 447.1 L291.01 451.2 L291.13 448.5 L291.26 448.0 L291.38 447.7 L291.51 449.5 L291.63 449.8 L291.76 446.6 L291.88 447.7 L292.01 449.0 L292.13 449.5 L292.26 450.6 L292.38 452.4 L292.51 452.2 L292.63 451.1 L292.76 455.5 L292.88 457.6 L293.01 457.9 L293.13 458.8 L293.26 455.4 L293.38 457.8 L293.51 460.8 L293.63 459.1 L293.76 462.0 L293.88 462.6 L294.01 462.1 L294.13 461.1 L294.26 464.1 L294.38 463.9 L294.51 466.1 L294.63 465.7 L294.76 472.5 L294.88 475.2 L295.01 473.9 L295.13 470.7 L295.26 472.3 L295.38 474.1 L295.51 476.7 L295.63 476.6 L295.76 477.6 L295.88 472.6 L296.01 476.7 L296.13 479.7 L296.26 480.6 L296.38 479.3 L296.51 480.9 L296.63 480.9 L296.76 481.0 L296.88 482.0 L297.01 481.0 L297.13 484.0 L297.26 482.6 L297.38 483.0 L297.51 482.7 L297.63 484.9 L297.76 485.8 L297.88 485.9 L298.01 486.6 L298.13 481.5 L298.26 483.2 L298.38 484.8 L298.51 484.9 L298.63 487.6 L298.76 487.0 L298.88 488.9 L299.01 489.1 L299.13 487.8 L299.26 490.7 L299.38 488.9 L299.51 486.5 L299.63 486.2 L299.76 484.5 L299.88 483.8 L300.01 485.5 L300.13 485.6 L300.26 477.2 L300.38 480.3 L300.51 479.6 L300.63 478.1 L300.76 479.4 L300.88 477.4 L301.01 477.8 L301.13 477.1 L301.26 475.8 L301.38 479.8 L301.51 477.1 L301.63 476.8 L301.76 475.8 L301.88 474.4 L302.01 478.4 L302.13 474.5 L302.26 474.0 L302.38 473.3 L302.51 476.2 L302.63 475.6 L302.76 475.6 L302.88 476.5 L303.01 477.3 L303.13 479.4 L303.26 479.6 L303.38 481.7 L303.51 480.4 L303.63 481.4 L303.76 480.0 L303.88 481.8 L304.01 481.1 L304.13 482.5 L304.26 483.4 L304.38 483.5 L304.51 481.1 L304.63 482.0 L304.76 482.0 L304.88 481.3 L305.01 482.4 L305.13 484.0 L305.26 482.6 L305.38 481.8 L305.51 482.0 L305.63 480.5 L305.76 481.0 L305.88 480.4 L306.01 481.2 L306.13 483.8 L306.26 484.8 L306.38 482.3 L306.51 488.6 L306.63 486.7 L306.76 491.0 L306.88 487.9 L307.01 488.1 L307.13 488.4 L307.26 488.7 L307.38 488.7 L307.51 490.1 L307.63 492.0 L307.76 492.9 L307.88 493.7 L308.01 494.8 L308.13 493.6 L308.26 492.9 L308.38 492.8 L308.51 492.9 L308.63 486.4 L308.76 489.5 L308.88 488.2 L309.01 486.9 L309.13 488.2 L309.26 485.1 L309.38 487.6 L309.51 487.7 L309.63 484.6 L309.76 483.8 L309.88 482.6 L310.01 482.2 L310.13 483.5 L310.26 481.0 L310.38 483.0 L310.51 481.0 L310.63 481.2 L310.76 482.2 L310.88 482.1 L311.01 479.2 L311.13 477.0 L311.26 476.5 L311.38 478.6 L311.51 475.7 L311.63 475.9 L311.76 477.0 L311.88 477.0 L312.01 477.9 L312.13 479.0 L312.26 476.1 L312.38 476.5 L312.51 472.5 L312.63 473.4 L312.76 474.3 L312.88 472.2 L313.01 469.8 L313.13 477.1 L313.26 472.3 L313.38 474.9 L313.51 475.9 L313.63 475.3 L313.76 473.9 L313.88 472.8 L314.01 473.3 L314.13 473.0 L314.26 471.6 L314.38 470.7 L314.51 473.6 L314.63 472.6 L314.76 471.6 L314.88 472.1 L315.01 470.4 L315.13 471.4 L315.26 471.7 L315.38 474.1 L315.51 471.1 L315.63 472.3 L315.76 472.2 L315.88 472.1 L316.01 471.4 L316.13 470.8 L316.26 472.9 L316.38 472.8 L316.51 473.1 L316.63 470.5 L316.76 471.9 L316.88 473.2 L317.01 473.3 L317.13 475.0 L317.26 472.3 L317.38 469.6 L317.51 471.8 L317.63 473.0 L317.76 474.7 L317.88 476.1 L318.01 477.5 L318.13 476.1 L318.26 476.7 L318.38 475.8 L318.51 475.4 L318.63 474.7 L318.76 474.3 L318.88 473.9 L319.01 473.8 L319.13 474.3 L319.26 473.9 L319.38 473.2 L319.51 469.1 L319.63 469.0 L319.76 469.2 L319.88 469.9 L320.01 467.7 L320.13 466.7 L320.26 466.5 L320.38 466.8 L320.51 469.5 L320.63 466.9 L320.76 464.2 L320.88 464.9 L321.01 465.8 L321.13 464.6 L321.26 465.7 L321.38 465.4 L321.51 465.1 L321.63 466.2 L321.76 466.5 L321.88 466.3 L322.01 465.3 L322.13 466.1 L322.26 465.4 L322.38 464.7 L322.51 465.5 L322.63 464.7 L322.76 464.3 L322.88 464.8 L323.01 464.7 L323.13 464.5 L323.26 464.3 L323.38 464.1 L323.51 461.7 L323.63 466.4 L323.76 463.2 L323.88 465.1 L324.01 460.7 L324.13 458.5 L324.26 458.4 L324.38 462.2 L324.51 461.5 L324.63 462.5 L324.76 462.5 L324.88 462.1 L325.01 462.3 L325.13 461.7 L325.26 461.6 L325.38 461.4 L325.51 460.2 L325.63 461.5 L325.76 460.2 L325.88 460.7 L326.01 461.7 L326.13 458.7 L326.26 461.4 L326.38 461.5 L326.51 459.4 L326.63 459.0 L326.76 456.8 L326.88 457.7 L327.01 459.6 L327.13 462.0 L327.26 461.3 L327.38 458.6 L327.51 461.1 L327.63 461.0 L327.76 460.9 L327.88 461.7 L328.01 460.5 L328.13 461.0 L328.26 460.5 L328.38 464.7 L328.51 460.2 L328.63 459.7 L328.76 461.8 L328.88 463.2 L329.01 461.8 L329.13 461.1 L329.26 462.9 L329.38 462.1 L329.51 461.5 L329.63 462.4 L329.76 461.7 L329.88 461.3 L330.01 462.1 L330.13 459.7 L330.26 458.8 L330.38 460.7 L330.51 460.7 L330.63 460.0 L330.76 457.3 L330.88 459.1 L331.01 457.8 L331.13 458.4 L331.26 458.0 L331.38 457.3 L331.51 456.8 L331.63 455.7 L331.76 457.2 L331.88 456.8 L332.01 455.7 L332.13 455.6 L332.26 458.1 L332.38 455.4 L332.51 457.8 L332.63 457.0 L332.76 452.6 L332.88 451.9 L333.01 455.2 L333.13 455.7 L333.26 455.8 L333.38 453.3 L333.51 451.8 L333.63 453.2 L333.76 452.9 L333.88 454.0 L334.01 455.5 L334.13 453.8 L334.26 452.9 L334.38 453.7 L334.51 455.7 L334.63 455.6 L334.76 455.9 L334.88 452.9 L335.01 453.5 L335.13 455.3 L335.26 456.8 L335.38 454.8 L335.51 453.5 L335.63 456.0 L335.76 454.8 L335.88 456.4 L336.01 458.3 L336.13 459.9 L336.26 459.6 L336.38 460.8 L336.51 461.3 L336.63 461.1 L336.76 460.1 L336.88 461.3 L337.01 461.5 L337.13 460.7 L337.26 455.7 L337.38 457.7 L337.51 455.9 L337.63 457.2 L337.76 453.4 L337.88 455.8 L338.01 456.9 L338.13 456.5 L338.26 456.8 L338.38 455.7 L338.51 454.5 L338.63 454.2 L338.76 454.3 L338.88 453.9 L339.01 454.4 L339.13 455.4 L339.26 453.7 L339.38 452.2 L339.51 452.6 L339.63 454.4 L339.76 453.7 L339.88 451.6 L340.01 453.0 L340.13 453.3 L340.26 448.0 L340.38 451.2 L340.51 451.9 L340.63 450.6 L340.76 449.2 L340.88 449.5 L341.01 449.2 L341.13 448.3 L341.26 449.5 L341.38 447.9 L341.51 450.0 L341.63 450.5 L341.76 449.1 L341.88 449.3 L342.01 449.8 L342.13 450.0 L342.26 449.0 L342.38 447.3 L342.51 445.1 L342.63 447.0 L342.76 447.1 L342.88 447.2 L343.01 448.2 L343.13 448.0 L343.26 447.0 L343.38 449.6 L343.51 448.5 L343.63 452.1 L343.76 450.7 L343.88 449.6 L344.01 452.3 L344.13 454.9 L344.26 454.7 L344.38 454.2 L344.51 454.6 L344.63 456.3 L344.76 455.7 L344.88 454.9 L345.01 455.7 L345.13 457.8 L345.26 455.5 L345.38 457.9 L345.51 456.1 L345.63 455.9 L345.76 456.7 L345.88 458.9 L346.01 459.3 L346.13 457.6 L346.26 458.2 L346.38 458.5 L346.51 457.7 L346.63 460.0 L346.76 461.7 L346.88 460.5 L347.01 458.4 L347.13 458.8 L347.26 460.0 L347.38 459.9 L347.51 459.2 L347.63 458.4 L347.76 459.8 L347.88 463.5 L348.01 460.3 L348.13 459.9 L348.26 462.5 L348.38 461.6 L348.51 460.4 L348.63 461.1 L348.76 461.7 L348.88 461.5 L349.01 461.8 L349.13 461.7 L349.26 461.1 L349.38 460.7 L349.51 458.5 L349.63 462.8 L349.76 462.0 L349.88 459.5 L350.01 458.6 L350.13 460.9 L350.26 460.3 L350.38 456.8 L350.51 455.8 L350.63 455.5 L350.76 456.7 L350.88 456.3 L351.01 456.4 L351.13 457.2 L351.26 457.2 L351.38 458.0 L351.51 456.6 L351.63 455.9 L351.76 457.6 L351.88 458.2 L352.01 457.1 L352.13 459.7 L352.26 459.1 L352.38 460.3 L352.51 461.1 L352.63 460.4 L352.76 460.2 L352.88 459.2 L353.01 458.7 L353.13 459.2 L353.26 458.8 L353.38 457.9 L353.51 459.6 L353.63 458.2 L353.76 458.1 L353.88 454.0 L354.01 455.9 L354.13 457.5 L354.26 458.4 L354.38 458.6 L354.51 456.3 L354.63 456.1 L354.76 453.2 L354.88 455.5 L355.01 455.2 L355.13 454.4 L355.26 453.2 L355.38 453.0 L355.51 453.0 L355.63 454.1 L355.76 453.0 L355.88 453.9 L356.01 450.4 L356.13 451.5 L356.26 450.8 L356.38 451.3 L356.51 451.3 L356.63 450.6 L356.76 450.6 L356.88 452.7 L357.01 450.2 L357.13 449.4 L357.26 450.1 L357.38 449.1 L357.51 448.4 L357.63 448.2 L357.76 447.6 L357.88 448.5 L358.01 448.9 L358.13 448.3 L358.26 447.7 L358.38 447.8 L358.51 447.1 L358.63 447.9 L358.76 448.8 L358.88 447.8 L359.01 448.2 L359.13 445.1 L359.26 446.3 L359.38 444.4 L359.51 447.2 L359.63 444.7 L359.76 445.3 L359.88 445.2 L360.01 445.0 L360.13 445.1 L360.26 444.4 L360.38 445.2 L360.51 445.0 L360.63 443.4 L360.76 442.4 L360.88 444.8 L361.01 445.0 L361.13 446.2 L361.26 444.4 L361.38 446.6 L361.51 445.2 L361.63 443.0 L361.76 442.1 L361.88 442.1 L362.01 443.5 L362.13 441.8 L362.26 443.2 L362.38 440.9 L362.51 440.4 L362.63 441.2 L362.76 442.1 L362.88 441.6 L363.01 441.5 L363.13 441.2 L363.26 440.6 L363.38 439.8 L363.51 439.0 L363.63 441.5 L363.76 439.1 L363.88 438.9 L364.01 439.9 L364.13 439.5 L364.26 441.7 L364.38 436.5 L364.51 439.3 L364.63 441.7 L364.76 439.8 L364.88 439.5 L365.01 440.7 L365.13 439.6 L365.26 438.3 L365.38 438.4 L365.51 437.3 L365.63 437.1 L365.76 436.5 L365.88 437.1 L366.01 436.2 L366.13 437.5 L366.26 436.7 L366.38 436.0 L366.51 436.3 L366.63 436.7 L366.76 437.1 L366.88 439.3 L367.01 435.9 L367.13 435.7 L367.26 432.4 L367.38 435.0 L367.51 433.7 L367.63 433.8 L367.76 435.5 L367.88 435.6 L368.01 434.4 L368.13 434.2 L368.26 436.2 L368.38 435.1 L368.51 434.7 L368.63 432.9 L368.76 436.7 L368.88 438.9 L369.01 435.2 L369.13 435.3 L369.26 435.5 L369.38 437.4 L369.51 434.0 L369.63 437.4 L369.76 438.7 L369.88 437.3 L370.01 437.4 L370.13 436.5 L370.26 436.5 L370.38 436.4 L370.51 437.7 L370.63 436.8 L370.76 436.1 L370.88 435.0 L371.01 433.9 L371.13 435.3 L371.26 435.1 L371.38 433.1 L371.51 438.0 L371.63 434.5 L371.76 434.3 L371.88 434.8 L372.01 434.3 L372.13 434.1 L372.26 433.7 L372.38 434.7 L372.51 434.0 L372.63 433.5 L372.76 433.8 L372.88 432.7 L373.01 431.4 L373.13 433.0 L373.26 432.7 L373.38 433.5 L373.51 434.1 L373.63 432.4 L373.76 432.7 L373.88 433.8 L374.01 433.9 L374.13 431.7 L374.26 433.6 L374.38 433.8 L374.51 432.9 L374.63 433.4 L374.76 433.4 L374.88 433.6 L375.01 435.0 L375.13 433.2 L375.26 434.9 L375.38 433.8 L375.51 435.2 L375.63 433.4 L375.76 433.3 L375.88 433.3 L376.01 436.9 L376.13 433.1 L376.26 432.8 L376.38 433.3 L376.51 434.4 L376.63 435.5 L376.76 435.0 L376.88 435.2 L377.01 436.2 L377.13 437.0 L377.26 438.6 L377.38 436.7 L377.51 435.8 L377.63 437.3 L377.76 440.4 L377.88 438.5 L378.01 436.8 L378.13 439.8 L378.26 438.5 L378.38 439.8 L378.51 439.3 L378.63 438.7 L378.76 439.1 L378.88 438.6 L379.01 439.2 L379.13 439.1 L379.26 436.4 L379.38 438.2 L379.51 438.9 L379.63 433.1 L379.76 434.7 L379.88 436.9 L380.01 434.3 L380.13 431.8 L380.26 433.6 L380.38 433.4 L380.51 433.1 L380.63 436.2 L380.76 437.8 L380.88 437.4 L381.01 436.8 L381.13 438.3 L381.26 439.8 L381.38 438.6 L381.51 436.0 L381.63 438.7 L381.76 438.8 L381.88 440.3 L382.01 438.4 L382.13 440.5 L382.26 441.1 L382.38 443.1 L382.51 444.4 L382.63 443.2 L382.76 448.0 L382.88 448.6 L383.01 446.4 L383.13 449.0 L383.26 450.4 L383.38 451.9 L383.51 453.6 L383.63 453.2 L383.76 454.6 L383.88 451.7 L384.01 448.6 L384.13 450.0 L384.26 448.2 L384.38 454.0 L384.51 450.9 L384.63 447.7 L384.76 448.0 L384.88 447.1 L385.01 445.8 L385.13 445.1 L385.26 446.3 L385.38 445.7 L385.51 445.8 L385.63 447.4 L385.76 445.7 L385.88 448.1 L386.01 448.2 L386.13 446.8 L386.26 449.1 L386.38 449.2 L386.51 450.9 L386.63 449.4 L386.76 450.4 L386.88 450.9 L387.01 452.6 L387.13 452.0 L387.26 453.7 L387.38 452.8 L387.51 452.8 L387.63 452.8 L387.76 450.9 L387.88 450.5 L388.01 449.4 L388.13 452.4 L388.26 449.9 L388.38 446.2 L388.51 448.0 L388.63 448.5 L388.76 448.3 L388.88 445.4 L389.01 442.9 L389.13 444.7 L389.26 443.5 L389.38 443.2 L389.51 440.9 L389.63 440.8 L389.76 441.2 L389.88 444.0 L390.01 441.4 L390.13 442.6 L390.26 441.3 L390.38 444.8 L390.51 442.9 L390.63 445.7 L390.76 443.3 L390.88 442.4 L391.01 445.4 L391.13 444.1 L391.26 444.9 L391.38 447.3 L391.51 447.1 L391.63 446.9 L391.76 448.6 L391.88 447.6 L392.01 446.5 L392.13 444.1 L392.26 443.5 L392.38 443.9 L392.51 443.6 L392.63 444.3 L392.76 446.0 L392.88 446.4 L393.01 445.8 L393.13 444.2 L393.26 442.8 L393.38 441.0 L393.51 441.6 L393.63 441.0 L393.76 439.7 L393.88 438.6 L394.01 438.4 L394.13 440.3 L394.26 439.5 L394.38 438.7 L394.51 438.9 L394.63 439.8 L394.76 439.1 L394.88 438.3 L395.01 437.0 L395.13 437.5 L395.26 436.0 L395.38 437.8 L395.51 438.7 L395.63 437.8 L395.76 436.8 L395.88 435.6 L396.01 435.5 L396.13 435.8 L396.26 436.0 L396.38 437.1 L396.51 435.7 L396.63 434.2 L396.76 433.4 L396.88 434.8 L397.01 434.2 L397.13 435.6 L397.26 431.7 L397.38 430.0 L397.51 431.3 L397.63 432.5 L397.76 433.6 L397.88 431.2 L398.01 431.4 L398.13 430.7 L398.26 431.6 L398.38 429.7 L398.51 429.9 L398.63 430.5 L398.76 430.1 L398.88 431.0 L399.01 429.9 L399.13 429.9 L399.26 430.6 L399.38 429.1 L399.51 431.3 L399.63 429.3 L399.76 429.7 L399.88 427.0 L400.01 431.4 L400.13 430.9 L400.26 429.3 L400.38 429.2 L400.51 428.8 L400.63 429.1 L400.76 429.6 L400.88 429.7 L401.01 429.7 L401.13 427.5 L401.26 428.1 L401.38 429.1 L401.51 426.8 L401.63 428.1 L401.76 429.9 L401.88 426.5 L402.01 427.7 L402.13 427.7 L402.26 427.7 L402.38 427.0 L402.51 426.1 L402.63 425.6 L402.76 425.4 L402.88 425.6 L403.01 424.9 L403.13 426.9 L403.26 425.7 L403.38 425.2 L403.51 425.2 L403.63 427.2 L403.76 424.6 L403.88 428.6 L404.01 428.2 L404.13 428.7 L404.26 427.3 L404.38 426.7 L404.51 427.7 L404.63 428.2 L404.76 428.8 L404.88 428.3 L405.01 428.7 L405.13 428.7 L405.26 428.7 L405.38 429.7 L405.51 430.9 L405.63 429.8 L405.76 430.9 L405.88 433.5 L406.01 432.1 L406.13 432.1 L406.26 430.9 L406.38 432.2 L406.51 432.1 L406.63 433.2 L406.76 433.7 L406.88 436.0 L407.01 434.5 L407.13 434.3 L407.26 435.2 L407.38 434.8 L407.51 436.2 L407.63 436.1 L407.76 436.0 L407.88 435.1 L408.01 435.8 L408.13 435.3 L408.26 434.7 L408.38 437.1 L408.51 435.5 L408.63 434.8 L408.76 437.4 L408.88 434.8 L409.01 434.7 L409.13 432.4 L409.26 433.5 L409.38 434.5 L409.51 432.4 L409.63 432.4 L409.76 431.2 L409.88 431.6 L410.01 431.4 L410.13 431.5 L410.26 431.4 L410.38 431.8 L410.51 431.6 L410.63 430.7 L410.76 429.9 L410.88 431.0 L411.01 429.6 L411.13 430.1 L411.26 431.2 L411.38 430.1 L411.51 427.1 L411.63 429.7 L411.76 430.7 L411.88 429.0 L412.01 429.7 L412.13 429.2 L412.26 428.7 L412.38 428.6 L412.51 429.4 L412.63 427.8 L412.76 427.8 L412.88 427.7 L413.01 428.4 L413.13 426.4 L413.26 427.3 L413.38 428.6 L413.51 428.1 L413.63 427.2 L413.76 426.7 L413.88 427.9 L414.01 426.3 L414.13 426.4 L414.26 427.2 L414.38 426.5 L414.51 426.7 L414.63 426.3 L414.76 425.7 L414.88 425.8 L415.01 426.1 L415.13 425.0 L415.26 424.4 L415.38 423.1 L415.51 422.6 L415.63 424.5 L415.76 423.5 L415.88 421.2 L416.01 422.8 L416.13 422.0 L416.26 421.3 L416.38 421.6 L416.51 421.2 L416.63 420.6 L416.76 421.1 L416.88 420.3 L417.01 421.0 L417.13 421.1 L417.26 421.1 L417.38 422.4 L417.51 421.4 L417.63 421.5 L417.76 420.2 L417.88 419.9 L418.01 419.4 L418.13 419.9 L418.26 420.4 L418.38 418.6 L418.51 417.8 L418.63 421.3 L418.76 418.3 L418.88 421.3 L419.01 420.5 L419.13 420.9 L419.26 420.0 L419.38 420.8 L419.51 420.7 L419.63 421.2 L419.76 421.4 L419.88 422.3 L420.01 424.0 L420.13 423.7 L420.26 422.7 L420.38 422.9 L420.51 420.6 L420.63 423.2 L420.76 426.4 L420.88 424.9 L421.01 425.8 L421.13 425.5 L421.26 426.0 L421.38 425.6 L421.51 425.8 L421.63 426.8 L421.76 428.6 L421.88 428.0 L422.01 426.9 L422.13 426.9 L422.26 427.6 L422.38 425.4 L422.51 424.4 L422.63 424.6 L422.76 424.2 L422.88 424.8 L423.01 424.1 L423.13 424.3 L423.26 423.9 L423.38 421.9 L423.51 422.2 L423.63 421.6 L423.76 420.1 L423.88 420.7 L424.01 421.1 L424.13 421.3 L424.26 419.7 L424.38 420.0 L424.51 419.7 L424.63 419.7 L424.76 418.7 L424.88 418.5 L425.01 417.8 L425.13 417.6 L425.26 418.3 L425.38 420.7 L425.51 418.9 L425.63 416.1 L425.76 418.9 L425.88 416.5 L426.01 416.3 L426.13 416.2 L426.26 415.3 L426.38 415.2 L426.51 415.5 L426.63 414.5 L426.76 413.2 L426.88 413.4 L427.01 413.4 L427.13 412.6 L427.26 415.2 L427.38 413.9 L427.51 414.6 L427.63 414.1 L427.76 412.7 L427.88 413.6 L428.01 412.4 L428.13 410.5 L428.26 410.8 L428.38 411.1 L428.51 411.0 L428.63 410.7 L428.76 412.5 L428.88 412.3 L429.01 412.3 L429.13 411.8 L429.26 412.6 L429.38 411.0 L429.51 411.7 L429.63 411.2 L429.76 409.7 L429.88 411.0 L430.01 407.9 L430.13 409.3 L430.26 411.5 L430.38 409.9 L430.51 409.4 L430.63 410.6 L430.76 409.3 L430.88 408.6 L431.01 409.5 L431.13 410.2 L431.26 409.3 L431.38 407.8 L431.51 407.5 L431.63 407.5 L431.76 407.8 L431.88 408.0 L432.01 409.4 L432.13 405.7 L432.26 406.5 L432.38 405.1 L432.51 408.0 L432.63 409.3 L432.76 407.0 L432.88 404.2 L433.01 407.0 L433.13 406.0 L433.26 406.0 L433.38 405.9 L433.51 405.4 L433.63 405.1 L433.76 405.6 L433.88 404.7 L434.01 404.7 L434.13 404.3 L434.26 405.4 L434.38 406.5 L434.51 406.5 L434.63 405.8 L434.76 405.5 L434.88 405.5 L435.01 407.2 L435.13 406.4 L435.26 406.0 L435.38 405.1 L435.51 406.1 L435.63 406.0 L435.76 403.8 L435.88 403.1 L436.01 403.7 L436.13 403.6 L436.26 404.8 L436.38 403.4 L436.51 404.0 L436.63 403.2 L436.76 401.8 L436.88 401.2 L437.01 400.8 L437.13 400.8 L437.26 400.8 L437.38 401.3 L437.51 401.7 L437.63 402.3 L437.76 401.3 L437.88 399.9 L438.01 400.5 L438.13 399.2 L438.26 400.8 L438.38 399.2 L438.51 398.3 L438.63 399.5 L438.76 398.0 L438.88 397.7 L439.01 398.0 L439.13 398.3 L439.26 399.3 L439.38 400.2 L439.51 401.1 L439.63 400.0 L439.76 399.5 L439.88 401.1 L440.01 403.6 L440.13 403.7 L440.26 401.4 L440.38 403.4 L440.51 403.4 L440.63 403.0 L440.76 403.5 L440.88 404.7 L441.01 403.5 L441.13 403.2 L441.26 403.4 L441.38 403.8 L441.51 402.7 L441.63 401.7 L441.76 400.9 L441.88 399.4 L442.01 400.7 L442.13 401.2 L442.26 400.3 L442.38 400.0 L442.51 399.6 L442.63 396.6 L442.76 398.0 L442.88 396.7 L443.01 397.2 L443.13 396.0 L443.26 397.6 L443.38 397.0 L443.51 396.2 L443.63 393.6 L443.76 393.3 L443.88 394.3 L444.01 395.2 L444.13 393.4 L444.26 395.1 L444.38 395.5 L444.51 394.4 L444.63 394.6 L444.76 393.4 L444.88 393.2 L445.01 393.5 L445.13 394.2 L445.26 395.6 L445.38 394.0 L445.51 396.4 L445.63 396.6 L445.76 395.8 L445.88 396.1 L446.01 396.9 L446.13 397.7 L446.26 396.9 L446.38 396.4 L446.51 396.5 L446.63 397.5 L446.76 396.2 L446.88 396.8 L447.01 395.9 L447.13 396.9 L447.26 396.9 L447.38 395.3 L447.51 395.5 L447.63 394.0 L447.76 393.4 L447.88 394.1 L448.01 393.0 L448.13 393.3 L448.26 392.1 L448.38 390.9 L448.51 391.2 L448.63 390.3 L448.76 392.4 L448.88 392.1 L449.01 391.9 L449.13 393.4 L449.26 391.7 L449.38 393.0 L449.51 391.4 L449.63 394.7 L449.76 395.4 L449.88 393.7 L450.01 391.2 L450.13 391.9 L450.26 393.9 L450.38 393.2 L450.51 394.2 L450.63 391.7 L450.76 391.5 L450.88 391.3 L451.01 391.9 L451.13 390.6 L451.26 389.2 L451.38 389.3 L451.51 390.0 L451.63 391.4 L451.76 390.3 L451.88 387.2 L452.01 387.5 L452.13 385.6 L452.26 388.0 L452.38 388.6 L452.51 387.5 L452.63 386.9 L452.76 386.0 L452.88 386.9 L453.01 386.1 L453.13 385.8 L453.26 386.0 L453.38 384.1 L453.51 385.1 L453.63 386.4 L453.76 384.2 L453.88 386.9 L454.01 385.7 L454.13 386.2 L454.26 387.0 L454.38 385.3 L454.51 384.9 L454.63 383.4 L454.76 383.3 L454.88 384.6 L455.01 383.2 L455.13 382.5 L455.26 384.2 L455.38 384.1 L455.51 383.6 L455.63 382.3 L455.76 382.5 L455.88 384.0 L456.01 383.1 L456.13 381.7 L456.26 380.9 L456.38 384.5 L456.51 383.8 L456.63 380.7 L456.76 383.0 L456.88 382.2 L457.01 381.7 L457.13 381.4 L457.26 380.6 L457.38 380.8 L457.51 380.5 L457.63 380.1 L457.76 380.7 L457.88 381.6 L458.01 382.0 L458.13 381.8 L458.26 382.7 L458.38 382.4 L458.51 380.7 L458.63 382.3 L458.76 387.0 L458.88 383.3 L459.01 384.5 L459.13 386.7 L459.26 386.1 L459.38 386.0 L459.51 385.9 L459.63 386.2 L459.76 387.9 L459.88 388.1 L460.01 386.3 L460.13 385.4 L460.26 385.6 L460.38 386.3 L460.51 384.0 L460.63 384.5 L460.76 383.1 L460.88 383.2 L461.01 382.8 L461.13 381.4 L461.26 381.2 L461.38 380.4 L461.51 383.9 L461.63 380.6 L461.76 380.5 L461.88 379.9 L462.01 378.7 L462.13 379.0 L462.26 379.3 L462.38 379.5 L462.51 379.8 L462.63 378.4 L462.76 380.9 L462.88 380.6 L463.01 379.6 L463.13 379.6 L463.26 379.6 L463.38 376.7 L463.51 376.6 L463.63 376.6 L463.76 378.3 L463.88 377.8 L464.01 377.6 L464.13 377.3 L464.26 376.8 L464.38 376.9 L464.51 377.6 L464.63 378.6 L464.76 376.7 L464.88 375.9 L465.01 377.5 L465.13 376.5 L465.26 379.2 L465.38 376.8 L465.51 378.3 L465.63 379.6 L465.76 376.4 L465.88 376.3 L466.01 375.7 L466.13 377.7 L466.26 380.0 L466.38 378.4 L466.51 378.5 L466.63 377.8 L466.76 378.2 L466.88 377.4 L467.01 376.8 L467.13 377.2 L467.26 377.9 L467.38 377.1 L467.51 376.4 L467.63 375.5 L467.76 375.9 L467.88 375.8 L468.01 373.6 L468.13 375.5 L468.26 375.9 L468.38 375.4 L468.51 376.4 L468.63 375.0 L468.76 376.0 L468.88 374.3 L469.01 374.4 L469.13 372.7 L469.26 373.0 L469.38 372.4 L469.51 372.7 L469.63 372.4 L469.76 372.8 L469.88 370.6 L470.01 372.3 L470.13 372.9 L470.26 372.5 L470.38 372.0 L470.51 372.9 L470.63 370.2 L470.76 370.8 L470.88 370.5 L471.01 369.1 L471.13 369.3 L471.26 368.6 L471.38 368.3 L471.51 370.8 L471.63 369.4 L471.76 369.7 L471.88 371.6 L472.01 370.3 L472.13 367.6 L472.26 365.7 L472.38 369.7 L472.51 366.6 L472.63 364.1 L472.76 364.3 L472.88 366.6 L473.01 364.8 L473.13 365.3 L473.26 366.6 L473.38 368.1 L473.51 366.1 L473.63 366.1 L473.76 367.5 L473.88 369.1 L474.01 366.4 L474.13 368.2 L474.26 368.1 L474.38 369.7 L474.51 369.6 L474.63 369.6 L474.76 369.7 L474.88 368.4 L475.01 369.2 L475.13 369.3 L475.26 368.3 L475.38 370.1 L475.51 370.4 L475.63 369.3 L475.76 368.3 L475.88 366.6 L476.01 366.9 L476.13 366.7 L476.26 368.3 L476.38 370.0 L476.51 368.1 L476.63 365.6 L476.76 367.9 L476.88 365.2 L477.01 363.4 L477.13 365.9 L477.26 366.8 L477.38 365.9 L477.51 363.9 L477.63 362.2 L477.76 362.8 L477.88 363.7 L478.01 363.7 L478.13 365.1 L478.26 363.1 L478.38 366.3 L478.51 366.1 L478.63 366.0 L478.76 364.9 L478.88 365.7 L479.01 365.7 L479.13 365.7 L479.26 366.5 L479.38 367.0 L479.51 366.5 L479.63 367.6 L479.76 368.3 L479.88 369.1 L480.01 369.7 L480.13 368.9 L480.26 369.9 L480.38 368.9 L480.51 371.2 L480.63 375.0 L480.76 372.3 L480.88 374.6 L481.01 373.8 L481.13 374.6 L481.26 374.8 L481.38 374.2 L481.51 372.6 L481.63 374.8 L481.76 368.5 L481.88 368.0 L482.01 368.7 L482.13 368.0 L482.26 367.5 L482.38 364.9 L482.51 363.6 L482.63 363.1 L482.76 362.4 L482.88 362.7 L483.01 361.9 L483.13 362.9 L483.26 362.3 L483.38 359.8 L483.51 361.9 L483.63 362.5 L483.76 358.7 L483.88 356.5 L484.01 358.8 L484.13 357.8 L484.26 359.4 L484.38 356.6 L484.51 354.9 L484.63 356.8 L484.76 357.2 L484.88 356.8 L485.01 357.5 L485.13 358.8 L485.26 360.1 L485.38 358.6 L485.51 361.9 L485.63 360.0 L485.76 362.0 L485.88 360.3 L486.01 361.7 L486.13 360.5 L486.26 360.2 L486.38 363.1 L486.51 362.6 L486.63 362.9 L486.76 363.3 L486.88 361.6 L487.01 362.4 L487.13 361.6 L487.26 359.1 L487.38 358.6 L487.51 359.5 L487.63 358.4 L487.76 356.4 L487.88 355.7 L488.01 354.5 L488.13 354.0 L488.26 353.8 L488.38 354.3 L488.51 355.7 L488.63 357.8 L488.76 355.9 L488.88 359.1 L489.01 358.5 L489.13 357.9 L489.26 355.4 L489.38 356.6 L489.51 358.6 L489.63 359.8 L489.76 357.9 L489.88 357.9 L490.01 359.6 L490.13 359.2 L490.26 358.7 L490.38 356.3 L490.51 355.1 L490.63 357.7 L490.76 357.7 L490.88 358.2 L491.01 356.8 L491.13 353.7 L491.26 354.5 L491.38 354.9 L491.51 352.5 L491.63 353.0 L491.76 353.4 L491.88 352.6 L492.01 352.6 L492.13 352.8 L492.26 353.1 L492.38 353.2 L492.51 352.5 L492.63 352.6 L492.76 351.8 L492.88 353.8 L493.01 352.4 L493.13 351.2 L493.26 352.1 L493.38 355.5 L493.51 351.5 L493.63 353.2 L493.76 352.9 L493.88 353.7 L494.01 353.4 L494.13 354.5 L494.26 354.4 L494.38 353.7 L494.51 353.8 L494.63 353.8 L494.76 353.1 L494.88 352.1 L495.01 352.6 L495.13 352.3 L495.26 353.1 L495.38 353.2 L495.51 354.9 L495.63 354.3 L495.76 354.6 L495.88 353.8 L496.01 353.2 L496.13 353.3 L496.26 351.6 L496.38 353.4 L496.51 352.4 L496.63 353.0 L496.76 353.0 L496.88 352.2 L497.01 351.4 L497.13 351.3 L497.26 350.3 L497.38 349.9 L497.51 350.2 L497.63 352.0 L497.76 353.5 L497.88 352.5 L498.01 352.8 L498.13 353.9 L498.26 351.4 L498.38 351.1 L498.51 350.7 L498.63 352.1 L498.76 348.9 L498.88 346.5 L499.01 347.8 L499.13 350.3 L499.26 350.6 L499.38 348.6 L499.51 349.5 L499.63 349.7 L499.76 350.4 L499.88 349.0 L500.01 348.7 L500.13 350.1 L500.26 348.5 L500.38 346.9 L500.51 349.5 L500.63 351.4 L500.76 348.5 L500.88 349.8 L501.01 349.5 L501.13 349.4 L501.26 350.0 L501.38 352.3 L501.51 349.2 L501.63 351.0 L501.76 350.7 L501.88 351.1 L502.01 348.9 L502.13 350.5 L502.26 350.0 L502.38 350.0 L502.51 350.6 L502.63 351.7 L502.76 351.6 L502.88 352.0 L503.01 353.4 L503.13 350.3 L503.26 351.7 L503.38 353.8 L503.51 352.1 L503.63 352.4 L503.76 353.5 L503.88 353.6 L504.01 353.6 L504.13 354.6 L504.26 353.1 L504.38 355.1 L504.51 355.1 L504.63 354.1 L504.76 351.4 L504.88 351.5 L505.01 350.8 L505.13 352.2 L505.26 354.2 L505.38 354.1 L505.51 352.4 L505.63 350.0 L505.76 349.0 L505.88 349.7 L506.01 349.7 L506.13 350.0 L506.26 351.0 L506.38 353.4 L506.51 353.4 L506.63 354.9 L506.76 361.3 L506.88 361.2 L507.01 365.7 L507.13 363.7 L507.26 363.5 L507.38 363.7 L507.51 366.0 L507.63 367.4 L507.76 366.5 L507.88 370.4 L508.01 370.9 L508.13 371.6 L508.26 368.7 L508.38 368.2 L508.51 364.8 L508.63 367.5 L508.76 366.3 L508.88 363.0 L509.01 366.8 L509.13 364.7 L509.26 364.6 L509.38 365.8 L509.51 365.7 L509.63 367.2 L509.76 368.3 L509.88 369.6 L510.01 369.7 L510.13 369.1 L510.26 368.3 L510.38 368.2 L510.51 368.8 L510.63 368.7 L510.76 369.7 L510.88 370.5 L511.01 366.1 L511.13 365.2 L511.26 362.2 L511.38 364.1 L511.51 364.5 L511.63 359.5 L511.76 359.9 L511.88 356.4 L512.01 356.4 L512.13 358.0 L512.26 356.5 L512.38 354.7 L512.51 355.0 L512.63 353.8 L512.76 355.7 L512.88 353.2 L513.01 354.5 L513.13 355.1 L513.26 354.3 L513.38 349.2 L513.51 354.3 L513.63 354.1 L513.76 351.4 L513.88 351.4 L514.01 353.5 L514.13 352.1 L514.26 351.1 L514.38 350.4 L514.51 350.0 L514.63 351.1 L514.76 349.1 L514.88 349.8 L515.01 349.3 L515.13 346.8 L515.26 346.0 L515.38 347.4 L515.51 351.4 L515.63 350.6 L515.76 345.6 L515.88 347.9 L516.01 350.1 L516.13 352.1 L516.26 351.8 L516.38 350.5 L516.51 350.1 L516.63 350.9 L516.76 355.0 L516.88 353.1 L517.01 351.9 L517.13 353.8 L517.26 353.2 L517.38 350.8 L517.51 351.9 L517.63 355.0 L517.76 356.3 L517.88 352.4 L518.01 353.8 L518.13 355.0 L518.26 355.4 L518.38 354.7 L518.51 354.7 L518.63 357.1 L518.76 356.8 L518.88 356.2 L519.01 362.3 L519.13 360.3 L519.26 359.7 L519.38 359.3 L519.51 358.2 L519.63 361.6 L519.76 364.4 L519.88 368.0 L520.01 368.2 L520.13 367.4 L520.26 368.8 L520.38 368.4 L520.51 368.7 L520.63 371.3 L520.76 372.0 L520.88 373.4 L521.01 372.6 L521.13 370.4 L521.26 370.4 L521.38 371.3 L521.51 372.0 L521.63 373.6 L521.76 374.1 L521.88 373.6 L522.01 374.0 L522.13 374.1 L522.26 373.8 L522.38 370.4 L522.51 368.2 L522.63 367.5 L522.76 367.3 L522.88 367.6 L523.01 368.0 L523.13 368.0 L523.26 367.3 L523.38 364.4 L523.51 364.7 L523.63 364.4 L523.76 362.8 L523.88 361.3 L524.01 365.0 L524.13 362.9 L524.26 363.8 L524.38 362.2 L524.51 357.4 L524.63 358.3 L524.76 359.0 L524.88 357.8 L525.01 354.5 L525.13 356.5 L525.26 355.9 L525.38 354.1 L525.51 354.0 L525.63 354.4 L525.76 355.5 L525.88 353.5 L526.01 354.7 L526.13 352.8 L526.26 352.5 L526.38 351.2 L526.51 352.9 L526.63 347.8 L526.76 349.0 L526.88 351.2 L527.01 351.2 L527.13 350.0 L527.26 349.9 L527.38 350.2 L527.51 349.2 L527.63 350.2 L527.76 351.5 L527.88 350.3 L528.01 347.5 L528.13 349.6 L528.26 351.3 L528.38 350.4 L528.51 350.3 L528.63 349.5 L528.76 350.7 L528.88 350.2 L529.01 351.1 L529.13 351.6 L529.26 350.1 L529.38 349.2 L529.51 350.5 L529.63 349.8 L529.76 352.1 L529.88 349.1 L530.01 349.5 L530.13 352.7 L530.26 352.7 L530.38 351.4 L530.51 351.8 L530.63 350.7 L530.76 352.4 L530.88 351.5 L531.01 351.5 L531.13 352.7 L531.26 351.2 L531.38 350.6 L531.51 348.7 L531.63 349.6 L531.76 348.1 L531.88 348.5 L532.01 347.8 L532.13 347.4 L532.26 346.7 L532.38 347.3 L532.51 346.5 L532.63 348.0 L532.76 347.2 L532.88 349.7 L533.01 349.7 L533.13 350.1 L533.26 350.8 L533.38 352.4 L533.51 353.8 L533.63 355.5 L533.76 356.2 L533.88 355.5 L534.01 354.1 L534.13 352.0 L534.26 352.7 L534.38 350.2 L534.51 348.2 L534.63 347.3 L534.76 345.2 L534.88 345.9 L535.01 343.4 L535.13 342.5 L535.26 341.9 L535.38 342.0 L535.51 341.9 L535.63 342.6 L535.76 343.4 L535.88 342.7 L536.01 340.6 L536.13 339.8 L536.26 342.1 L536.38 342.8 L536.51 338.5 L536.63 340.4 L536.76 339.5 L536.88 338.9 L537.01 338.8 L537.13 339.7 L537.26 338.3 L537.38 338.4 L537.51 337.7 L537.63 338.3 L537.76 338.2 L537.88 335.7 L538.01 336.6 L538.13 336.0 L538.26 336.1 L538.38 337.8 L538.51 338.1 L538.63 337.6 L538.76 338.9 L538.88 339.4 L539.01 340.7 L539.13 337.9 L539.26 337.8 L539.38 337.5 L539.51 338.5 L539.63 339.1 L539.76 339.8 L539.88 338.5 L540.01 337.8 L540.13 337.6 L540.26 338.8 L540.38 340.7 L540.51 336.9 L540.63 340.9 L540.76 340.8 L540.88 340.7 L541.01 340.1 L541.13 340.4 L541.26 342.2 L541.38 341.8 L541.51 342.5 L541.63 342.3 L541.76 342.5 L541.88 341.1 L542.01 341.2 L542.13 340.0 L542.26 341.2 L542.38 343.2 L542.51 341.4 L542.63 340.7 L542.76 339.7 L542.88 338.5 L543.01 340.0 L543.13 341.2 L543.26 339.7 L543.38 340.0 L543.51 340.5 L543.63 340.4 L543.76 340.1 L543.88 342.0 L544.01 342.1 L544.13 343.2 L544.26 344.1 L544.38 347.1 L544.51 344.9 L544.63 345.7 L544.76 345.9 L544.88 345.9 L545.01 346.6 L545.13 345.7 L545.26 344.8 L545.38 343.9 L545.51 342.9 L545.63 344.1 L545.76 341.8 L545.88 343.6 L546.01 342.8 L546.13 340.2 L546.26 339.0 L546.38 336.0 L546.51 336.9 L546.63 336.6 L546.76 336.4 L546.88 335.1 L547.01 333.7 L547.13 333.9 L547.26 333.4 L547.38 332.1 L547.51 331.1 L547.63 329.4 L547.76 330.9 L547.88 332.7 L548.01 329.0 L548.13 329.6 L548.26 330.3 L548.38 329.6 L548.51 329.5 L548.63 329.1 L548.76 328.8 L548.88 328.5 L549.01 328.6 L549.13 329.2 L549.26 328.9 L549.38 328.4 L549.51 329.4 L549.63 328.1 L549.76 328.1 L549.88 327.4 L550.01 327.4 L550.13 327.2 L550.26 326.6 L550.38 324.9 L550.51 324.2 L550.63 326.5 L550.76 325.5 L550.88 326.0 L551.01 322.8 L551.13 325.1 L551.26 324.1 L551.38 322.1 L551.51 323.6 L551.63 321.6 L551.76 322.8 L551.88 322.1 L552.01 323.2 L552.13 323.3 L552.26 321.5 L552.38 322.6 L552.51 322.1 L552.63 319.7 L552.76 319.8 L552.88 319.2 L553.01 317.9 L553.13 317.1 L553.26 317.1 L553.38 317.7 L553.51 317.6 L553.63 317.2 L553.76 318.1 L553.88 318.1 L554.01 317.5 L554.13 315.5 L554.26 318.0 L554.38 317.6 L554.51 313.0 L554.63 313.1 L554.76 313.5 L554.88 315.4 L555.01 314.7 L555.13 314.7 L555.26 314.5 L555.38 314.2 L555.51 314.7 L555.63 315.9 L555.76 315.6 L555.88 315.1 L556.01 313.6 L556.13 316.1 L556.26 314.9 L556.38 313.9 L556.51 313.4 L556.63 314.9 L556.76 312.9 L556.88 312.1 L557.01 313.7 L557.13 315.9 L557.26 315.2 L557.38 315.8 L557.51 315.4 L557.63 312.9 L557.76 314.9 L557.88 314.2 L558.01 314.6 L558.13 315.3 L558.26 315.5 L558.38 315.0 L558.51 315.3 L558.63 314.7 L558.76 314.2 L558.88 316.0 L559.01 315.4 L559.13 315.2 L559.26 314.0 L559.38 314.5 L559.51 314.9 L559.63 313.5 L559.76 315.9 L559.88 316.5 L560.01 314.0 L560.13 312.3 L560.26 312.0 L560.38 314.5 L560.51 313.7 L560.63 312.0 L560.76 312.9 L560.88 311.1 L561.01 310.7 L561.13 312.3 L561.26 311.4 L561.38 311.8 L561.51 311.6 L561.63 311.4 L561.76 311.4 L561.88 312.9 L562.01 311.4 L562.13 311.4 L562.26 308.9 L562.38 311.1 L562.51 309.9 L562.63 311.3 L562.76 312.3 L562.88 311.1 L563.01 311.9 L563.13 310.2 L563.26 309.2 L563.38 310.2 L563.51 311.1 L563.63 309.4 L563.76 309.1 L563.88 308.1 L564.01 308.3 L564.13 309.7 L564.26 308.6 L564.38 309.1 L564.51 309.3 L564.63 309.6 L564.76 308.8 L564.88 307.9 L565.01 307.9 L565.13 307.1 L565.26 305.3 L565.38 306.6 L565.51 306.5 L565.63 308.1 L565.76 306.9 L565.88 305.4 L566.01 307.2 L566.13 307.5 L566.26 307.7 L566.38 306.8 L566.51 307.3 L566.63 306.7 L566.76 305.9 L566.88 305.8 L567.01 305.8 L567.13 305.5 L567.26 305.3 L567.38 304.8 L567.51 304.6 L567.63 304.7 L567.76 305.1 L567.88 303.1 L568.01 304.4 L568.13 306.8 L568.26 308.1 L568.38 306.1 L568.51 306.2 L568.63 305.4 L568.76 307.2 L568.88 304.8 L569.01 306.6 L569.13 307.5 L569.26 307.2 L569.38 307.5 L569.51 306.5 L569.63 306.5 L569.76 306.6 L569.88 305.6 L570.01 306.0 L570.13 304.8 L570.26 304.4 L570.38 303.9 L570.51 302.7 L570.63 301.2 L570.76 304.4 L570.88 302.4 L571.01 300.6 L571.13 302.3 L571.26 298.5 L571.38 300.3 L571.51 299.0 L571.63 299.4 L571.76 299.3 L571.88 299.0 L572.01 297.9 L572.13 298.5 L572.26 298.4 L572.38 297.2 L572.51 298.2 L572.63 298.8 L572.76 298.0 L572.88 298.7 L573.01 300.0 L573.13 297.2 L573.26 295.8 L573.38 295.1 L573.51 297.5 L573.63 294.6 L573.76 297.0 L573.88 295.4 L574.01 294.7 L574.13 295.3 L574.26 295.1 L574.38 293.8 L574.51 293.7 L574.63 293.2 L574.76 293.1 L574.88 293.3 L575.01 295.2 L575.13 294.4 L575.26 294.8 L575.38 294.3 L575.51 293.1 L575.63 291.0 L575.76 289.6 L575.88 293.1 L576.01 288.9 L576.13 291.9 L576.26 290.1 L576.38 289.1 L576.51 292.3 L576.63 291.1 L576.76 291.3 L576.88 290.9 L577.01 291.8 L577.13 290.5 L577.26 291.0 L577.38 290.3 L577.51 289.2 L577.63 289.1 L577.76 290.4 L577.88 290.1 L578.01 289.3 L578.13 285.6 L578.26 287.2 L578.38 284.5 L578.51 284.5 L578.63 284.1 L578.76 285.6 L578.88 282.5 L579.01 282.8 L579.13 285.0 L579.26 284.8 L579.38 282.7 L579.51 283.6 L579.63 282.0 L579.76 283.5 L579.88 277.7 L580.01 279.4 L580.13 279.3 L580.26 280.0 L580.38 278.3 L580.51 276.5 L580.63 275.8 L580.76 274.7 L580.88 273.0 L581.01 273.2 L581.13 274.2 L581.26 273.0 L581.38 275.8 L581.51 274.4 L581.63 272.2 L581.76 269.8 L581.88 269.2 L582.01 264.4 L582.13 263.1 L582.26 262.0 L582.38 258.6 L582.51 263.3 L582.63 258.9 L582.76 262.4 L582.88 264.0 L583.01 263.2 L583.13 266.5 L583.26 273.7 L583.38 276.1 L583.51 275.0 L583.63 283.7 L583.76 289.4 L583.88 293.2 L584.01 295.1 L584.13 292.2 L584.26 289.4 L584.38 290.0 L584.51 288.5 L584.63 286.5 L584.76 281.2 L584.88 279.0 L585.01 276.2 L585.13 274.9 L585.26 270.9 L585.38 270.2 L585.51 269.2 L585.63 271.8 L585.76 268.1 L585.88 272.3 L586.01 273.1 L586.13 272.6 L586.26 274.3 L586.38 277.5 L586.51 276.0 L586.63 279.0 L586.76 279.7 L586.88 283.5 L587.01 285.3 L587.13 285.3 L587.26 286.3 L587.38 289.7 L587.51 291.5 L587.63 288.0 L587.76 285.5 L587.88 288.9 L588.01 288.3 L588.13 288.3 L588.26 288.5 L588.38 288.6 L588.51 285.2 L588.63 286.3 L588.76 283.9 L588.88 285.1 L589.01 282.5 L589.13 285.9 L589.26 283.7 L589.38 283.4 L589.51 282.6 L589.63 282.5 L589.76 282.5 L589.88 284.5 L590.01 286.2 L590.13 283.0 L590.26 283.3 L590.38 283.0 L590.51 282.3 L590.63 281.3 L590.76 281.1 L590.88 280.0 L591.01 280.6 L591.13 281.9 L591.26 279.4 L591.38 283.4 L591.51 278.7 L591.63 276.1 L591.76 276.2 L591.88 274.1 L592.01 274.5 L592.13 274.7 L592.26 274.7 L592.38 275.6 L592.51 274.4 L592.63 275.4 L592.76 275.4 L592.88 272.4 L593.01 275.6 L593.13 276.4 L593.26 273.5 L593.38 274.0 L593.51 272.4 L593.63 270.7 L593.76 271.1 L593.88 273.1 L594.01 273.6 L594.13 271.9 L594.26 270.8 L594.38 271.3 L594.51 267.4 L594.63 268.9 L594.76 268.0 L594.88 270.1 L595.01 270.6 L595.13 270.5 L595.26 268.8 L595.38 269.0 L595.51 267.3 L595.63 266.2 L595.76 270.2 L595.88 269.6 L596.01 271.2 L596.13 267.6 L596.26 272.0 L596.38 266.0 L596.51 265.0 L596.63 269.2 L596.76 263.6 L596.88 267.3 L597.01 266.0 L597.13 269.4 L597.26 264.1 L597.38 264.6 L597.51 264.2 L597.63 265.4 L597.76 262.7 L597.88 262.4 L598.01 263.1 L598.13 262.9 L598.26 262.0 L598.38 261.9 L598.51 260.8 L598.63 262.4 L598.76 262.0 L598.88 262.2 L599.01 262.2 L599.13 258.8 L599.26 260.6 L599.38 260.2 L599.51 257.5 L599.63 261.2 L599.76 260.0 L599.88 260.7 L600.01 258.4 L600.13 261.5 L600.26 258.4 L600.38 253.6 L600.51 255.0 L600.63 260.2 L600.76 256.9 L600.88 256.3 L601.01 255.8 L601.13 255.0 L601.26 254.8 L601.38 254.4 L601.51 256.7 L601.63 258.4 L601.76 254.9 L601.88 254.3 L602.01 256.9 L602.13 250.6 L602.26 253.1 L602.38 251.2 L602.51 255.6 L602.63 256.0 L602.76 256.1 L602.88 256.4 L603.01 254.6 L603.13 253.4 L603.26 252.9 L603.38 255.0 L603.51 253.5 L603.63 255.5 L603.76 255.7 L603.88 257.0 L604.01 257.2 L604.13 257.5 L604.26 259.7 L604.38 259.8 L604.51 258.7 L604.63 262.0 L604.76 264.1 L604.88 263.5 L605.01 265.0 L605.13 264.4 L605.26 264.1 L605.38 267.1 L605.51 264.8 L605.63 267.8 L605.76 270.2 L605.88 269.9 L606.01 273.5 L606.13 268.8 L606.26 270.9 L606.38 271.7 L606.51 277.8 L606.63 274.6 L606.76 279.0 L606.88 276.9 L607.01 277.2 L607.13 278.6 L607.26 278.1 L607.38 276.9 L607.51 278.6 L607.63 278.7 L607.76 278.2 L607.88 281.3 L608.01 279.1 L608.13 281.4 L608.26 277.1 L608.38 279.3 L608.51 275.9 L608.63 278.5 L608.76 279.9 L608.88 281.9 L609.01 282.3 L609.13 283.6 L609.26 284.7 L609.38 287.0 L609.51 290.9 L609.63 291.0 L609.76 294.2 L609.88 294.0 L610.01 297.9 L610.13 291.9 L610.26 295.5 L610.38 300.5 L610.51 303.9 L610.63 307.3 L610.76 308.1 L610.88 308.3 L611.01 309.8 L611.13 309.3 L611.26 309.9 L611.38 307.9 L611.51 305.5 L611.63 298.2 L611.76 295.0 L611.88 298.7 L612.01 301.2 L612.13 294.7 L612.26 289.2 L612.38 291.0 L612.51 289.8 L612.63 286.8 L612.76 286.4 L612.88 283.0 L613.01 285.3 L613.13 284.8 L613.26 283.2 L613.38 279.7 L613.51 286.2 L613.63 282.2 L613.76 281.6 L613.88 280.1 L614.01 281.8 L614.13 278.6 L614.26 280.2 L614.38 276.9 L614.51 274.7 L614.63 273.9 L614.76 272.2 L614.88 271.5 L615.01 272.2 L615.13 272.3 L615.26 270.5 L615.38 270.6 L615.51 270.7 L615.63 271.8 L615.76 269.0 L615.88 271.9 L616.01 267.9 L616.13 269.0 L616.26 267.7 L616.38 265.1 L616.51 265.6 L616.63 264.7 L616.76 266.7 L616.88 265.4 L617.01 261.3 L617.13 261.2 L617.26 262.8 L617.38 261.7 L617.51 263.2 L617.63 261.8 L617.76 261.5 L617.88 261.4 L618.01 261.5 L618.13 261.3 L618.26 260.1 L618.38 258.2 L618.51 259.5 L618.63 259.9 L618.76 259.1 L618.88 259.4 L619.01 255.3 L619.13 254.7 L619.26 255.5 L619.38 256.9 L619.51 255.6 L619.63 255.1 L619.76 252.9 L619.88 253.4 L620.01 252.9 L620.13 252.4 L620.26 252.6 L620.38 251.8 L620.51 251.6 L620.63 251.7 L620.76 253.0 L620.88 252.6 L621.01 247.6 L621.13 251.0 L621.26 250.1 L621.38 250.7 L621.51 251.5 L621.63 250.3 L621.76 249.5 L621.88 248.5 L622.01 248.1 L622.13 249.8 L622.26 249.5 L622.38 249.2 L622.51 251.3 L622.63 252.2 L622.76 251.4 L622.88 252.9 L623.01 254.8 L623.13 254.7 L623.26 260.5 L623.38 261.3 L623.51 261.7 L623.63 259.6 L623.76 259.0 L623.88 261.1 L624.01 265.2 L624.13 266.4 L624.26 266.0 L624.38 267.2 L624.51 264.7 L624.63 265.1 L624.76 262.2 L624.88 262.6 L625.01 263.0 L625.13 258.2 L625.26 260.3 L625.38 259.5 L625.51 258.8 L625.63 253.1 L625.76 252.4 L625.88 253.3 L626.01 254.1 L626.13 250.6 L626.26 250.1 L626.38 250.0 L626.51 248.1 L626.63 245.9 L626.76 245.8 L626.88 246.6 L627.01 246.2 L627.13 245.4 L627.26 244.7 L627.38 240.4 L627.51 242.9 L627.63 242.7 L627.76 243.6 L627.88 241.7 L628.01 243.8 L628.13 241.6 L628.26 239.8 L628.38 238.3 L628.51 241.0 L628.63 240.2 L628.76 240.0 L628.88 239.7 L629.01 238.9 L629.13 239.6 L629.26 240.1 L629.38 243.0 L629.51 243.3 L629.63 244.5 L629.76 243.4 L629.88 246.6 L630.01 246.2 L630.13 248.3 L630.26 247.1 L630.38 248.0 L630.51 248.1 L630.63 252.4 L630.76 252.8 L630.88 254.4 L631.01 255.4 L631.13 256.1 L631.26 256.6 L631.38 256.3 L631.51 256.4 L631.63 254.9 L631.76 250.7 L631.88 254.6 L632.01 251.8 L632.13 250.2 L632.26 245.4 L632.38 245.9 L632.51 247.6 L632.63 247.2 L632.76 247.4 L632.88 245.7 L633.01 244.8 L633.13 244.1 L633.26 243.8 L633.38 244.1 L633.51 244.2 L633.63 243.2 L633.76 243.2 L633.88 246.3 L634.01 248.1 L634.13 246.0 L634.26 247.4 L634.38 248.0 L634.51 248.4 L634.63 248.5 L634.76 250.7 L634.88 248.3 L635.01 248.2 L635.13 249.0 L635.26 251.9 L635.38 251.1 L635.51 250.4 L635.63 248.7 L635.76 247.7 L635.88 246.3 L636.01 245.9 L636.13 245.2 L636.26 241.7 L636.38 243.4 L636.51 242.9 L636.63 239.5 L636.76 242.4 L636.88 240.3 L637.01 239.8 L637.13 235.2 L637.26 238.2 L637.38 235.2 L637.51 234.9 L637.63 234.0 L637.76 233.9 L637.88 233.3 L638.01 231.9 L638.13 233.0 L638.26 233.3 L638.38 230.9 L638.51 231.7 L638.63 230.2 L638.76 231.9 L638.88 226.0 L639.01 227.9 L639.13 230.3 L639.26 228.3 L639.38 228.4 L639.51 227.8 L639.63 227.2 L639.76 225.6 L639.88 224.8 L640.01 226.2 L640.13 224.8 L640.26 225.1 L640.38 224.1 L640.51 224.5 L640.63 222.9 L640.76 221.3 L640.88 224.0 L641.01 224.4 L641.13 218.9 L641.26 220.6 L641.38 218.6 L641.51 216.8 L641.63 215.7 L641.76 214.0 L641.88 217.2 L642.01 215.7 L642.13 213.3 L642.26 213.6 L642.38 211.7 L642.51 212.6 L642.63 214.4 L642.76 212.5 L642.88 211.7 L643.01 212.1 L643.13 211.2 L643.26 212.8 L643.38 209.9 L643.51 207.6 L643.63 207.0 L643.76 210.8 L643.88 210.5 L644.01 207.5 L644.13 208.3 L644.26 209.5 L644.38 211.5 L644.51 212.0 L644.63 206.2 L644.76 210.0 L644.88 209.4 L645.01 207.0 L645.13 206.8 L645.26 206.5 L645.38 204.6 L645.51 203.5 L645.63 202.1 L645.76 197.0 L645.88 201.4 L646.01 201.5 L646.13 203.2 L646.26 210.7 L646.38 208.9 L646.51 214.1 L646.63 215.0 L646.76 221.3 L646.88 221.6 L647.01 231.9 L647.13 238.6 L647.26 251.2 L647.38 251.1 L647.51 260.3 L647.63 265.1 L647.76 268.6 L647.88 282.1 L648.01 288.9 L648.13 294.8 L648.26 298.0 L648.38 302.2 L648.51 306.4 L648.63 311.3 L648.76 311.9 L648.88 316.0 L649.01 309.4 L649.13 300.8 L649.26 303.6 L649.38 300.8 L649.51 294.9 L649.63 298.1 L649.76 294.2 L649.88 296.3 L650.01 292.2 L650.13 291.3 L650.26 288.1 L650.38 285.8 L650.51 284.6 L650.63 282.2 L650.76 281.4 L650.88 280.8 L651.01 273.4 L651.13 273.4 L651.26 274.0 L651.38 274.1 L651.51 279.5 L651.63 277.1 L651.76 278.4 L651.88 274.7 L652.01 273.3 L652.13 268.7 L652.26 267.0 L652.38 269.9 L652.51 267.2 L652.63 260.7 L652.76 264.0 L652.88 260.2 L653.01 260.7 L653.13 247.8 L653.26 253.2 L653.38 249.9 L653.51 251.9 L653.63 245.5 L653.76 243.7 L653.88 246.1 L654.01 243.7 L654.13 242.7 L654.26 237.9 L654.38 238.9 L654.51 241.6 L654.63 238.0 L654.76 239.9 L654.88 235.2 L655.01 229.9 L655.13 229.4 L655.26 230.9 L655.38 227.1 L655.51 227.5 L655.63 227.9 L655.76 218.8 L655.88 222.8 L656.01 227.9 L656.13 227.3 L656.26 222.7 L656.38 224.4 L656.51 218.6 L656.63 216.2 L656.76 220.3 L656.88 220.8 L657.01 217.8 L657.13 217.7 L657.26 221.3 L657.38 226.2 L657.51 222.1 L657.63 221.9 L657.76 221.6 L657.88 221.2 L658.01 212.4 L658.13 221.2 L658.26 215.8 L658.38 213.5 L658.51 206.5 L658.63 209.5 L658.76 207.9 L658.88 209.9 L659.01 207.4 L659.13 206.9 L659.26 206.9 L659.38 203.8 L659.51 205.7 L659.63 201.4 L659.76 202.6 L659.88 203.8 L660.01 205.0 L660.13 201.6 L660.26 195.5 L660.38 198.4 L660.51 193.8 L660.63 193.7 L660.76 192.8 L660.88 196.5 L661.01 194.0 L661.13 191.6 L661.26 191.7 L661.38 189.6 L661.51 184.8 L661.63 185.5 L661.76 186.2 L661.88 184.0 L662.01 184.6 L662.13 178.4 L662.26 179.2 L662.38 178.2 L662.51 178.5 L662.63 177.6 L662.76 176.2 L662.88 177.3 L663.01 172.1 L663.13 172.0 L663.26 172.7 L663.38 173.6 L663.51 172.8 L663.63 174.3 L663.76 175.7 L663.88 180.1 L664.01 179.3 L664.13 185.1 L664.26 186.3 L664.38 191.4 L664.51 190.6 L664.63 191.8 L664.76 191.1 L664.88 191.5 L665.01 194.3 L665.13 194.5 L665.26 194.2 L665.38 190.4 L665.51 187.8 L665.63 189.8 L665.76 186.5 L665.88 183.6 L666.01 186.3 L666.13 189.9 L666.26 189.8 L666.38 188.7 L666.51 188.9 L666.63 187.7 L666.76 193.7 L666.88 191.4 L667.01 191.4 L667.13 196.9 L667.26 198.5 L667.38 197.4 L667.51 199.5 L667.63 202.8 L667.76 203.0 L667.88 204.2 L668.01 205.0 L668.13 201.1 L668.26 197.5 L668.38 197.3 L668.51 192.0 L668.63 186.8 L668.76 182.2 L668.88 186.4 L669.01 187.0 L669.13 181.6 L669.26 178.3 L669.38 180.0 L669.51 181.1 L669.63 178.0 L669.76 176.7 L669.88 174.5 L670.01 170.0 L670.13 170.9 L670.26 175.3 L670.38 172.2 L670.51 169.1 L670.63 165.7 L670.76 164.0 L670.88 165.9 L671.01 164.9 L671.13 163.7 L671.26 160.8 L671.38 163.6 L671.51 161.8 L671.63 159.2 L671.76 163.5 L671.88 157.4 L672.01 158.0 L672.13 155.9 L672.26 159.8 L672.38 155.3 L672.51 160.4 L672.63 157.5 L672.76 159.8 L672.88 161.7 L673.01 157.8 L673.13 154.9 L673.26 157.4 L673.38 160.2 L673.51 156.6 L673.63 154.6 L673.76 156.9 L673.88 151.8 L674.01 153.3 L674.13 151.1 L674.26 150.1 L674.38 152.1 L674.51 151.2 L674.63 150.4 L674.76 151.0 L674.88 152.2 L675.01 151.8 L675.13 151.7 L675.26 150.5 L675.38 149.1 L675.50 148.4"/>
<path stroke="#000000" d="M69.13 462.0 L69.26 461.9 L69.38 461.8 L69.51 461.5 L69.63 461.5 L69.76 460.7 L69.88 459.3 L70.01 460.0 L70.13 460.0 L70.26 460.2 L70.38 459.9 L70.51 460.9 L70.63 459.6 L70.76 458.6 L70.88 461.7 L71.01 462.6 L71.13 462.7 L71.26 462.0 L71.38 461.2 L71.51 460.8 L71.63 462.1 L71.76 461.3 L71.88 461.0 L72.01 464.8 L72.13 462.7 L72.26 461.9 L72.38 462.3 L72.51 461.9 L72.63 462.3 L72.76 463.1 L72.88 461.8 L73.01 463.1 L73.13 462.2 L73.26 463.9 L73.38 463.2 L73.51 467.6 L73.63 463.9 L73.76 465.0 L73.88 464.2 L74.01 466.7 L74.13 466.5 L74.26 464.1 L74.38 464.2 L74.51 464.0 L74.63 464.8 L74.76 464.3 L74.88 465.7 L75.01 466.7 L75.13 466.8 L75.26 467.7 L75.38 467.4 L75.51 467.0 L75.63 469.2 L75.76 468.9 L75.88 468.3 L76.01 469.6 L76.13 470.1 L76.26 469.8 L76.38 470.7 L76.51 472.3 L76.63 475.9 L76.76 474.8 L76.88 474.4 L77.01 479.3 L77.13 477.7 L77.26 478.7 L77.38 481.9 L77.51 481.5 L77.63 481.7 L77.76 478.5 L77.88 479.0 L78.01 478.5 L78.13 478.4 L78.26 479.0 L78.38 478.8 L78.51 477.9 L78.63 475.2 L78.76 475.5 L78.88 475.1 L79.01 475.7 L79.13 476.0 L79.26 475.8 L79.38 476.6 L79.51 474.8 L79.63 475.7 L79.76 475.2 L79.88 476.1 L80.01 473.8 L80.13 472.0 L80.26 475.8 L80.38 470.0 L80.51 471.6 L80.63 474.7 L80.76 472.6 L80.88 472.3 L81.01 469.7 L81.13 470.4 L81.26 468.6 L81.38 470.8 L81.51 470.4 L81.63 471.5 L81.76 469.6 L81.88 469.2 L82.01 469.9 L82.13 469.5 L82.26 467.7 L82.38 468.2 L82.51 467.2 L82.63 468.3 L82.76 469.0 L82.88 469.5 L83.01 467.0 L83.13 464.3 L83.26 465.0 L83.38 468.2 L83.51 465.7 L83.63 467.6 L83.76 466.3 L83.88 463.7 L84.01 465.2 L84.13 464.4 L84.26 463.8 L84.38 465.4 L84.51 463.3 L84.63 464.9 L84.76 464.7 L84.88 463.3 L85.01 462.3 L85.13 464.2 L85.26 462.8 L85.38 460.8 L85.51 463.6 L85.63 463.3 L85.76 462.5 L85.88 464.4 L86.01 464.1 L86.13 462.4 L86.26 462.6 L86.38 463.0 L86.51 463.0 L86.63 462.6 L86.76 462.1 L86.88 461.5 L87.01 461.8 L87.13 463.7 L87.26 463.6 L87.38 464.3 L87.51 464.9 L87.63 465.6 L87.76 465.3 L87.88 464.2 L88.01 465.2 L88.13 465.9 L88.26 466.3 L88.38 465.5 L88.51 465.7 L88.63 467.2 L88.76 466.9 L88.88 466.9 L89.01 469.2 L89.13 468.8 L89.26 469.3 L89.38 472.2 L89.51 471.9 L89.63 470.3 L89.76 468.7 L89.88 468.8 L90.01 469.6 L90.13 468.5 L90.26 469.0 L90.38 469.3 L90.51 469.8 L90.63 466.4 L90.76 470.1 L90.88 467.1 L91.01 466.2 L91.13 463.6 L91.26 465.9 L91.38 464.8 L91.51 464.3 L91.63 464.3 L91.76 464.0 L91.88 464.2 L92.01 463.7 L92.13 463.0 L92.26 464.8 L92.38 464.6 L92.51 466.9 L92.63 466.1 L92.76 462.6 L92.88 465.0 L93.01 467.4 L93.13 466.3 L93.26 465.8 L93.38 466.5 L93.51 464.1 L93.63 465.9 L93.76 467.5 L93.88 468.0 L94.01 465.7 L94.13 466.0 L94.26 468.0 L94.38 468.2 L94.51 467.0 L94.63 467.0 L94.76 466.3 L94.88 467.7 L95.01 467.0 L95.13 466.8 L95.26 465.7 L95.38 468.0 L95.51 467.8 L95.63 467.5 L95.76 467.9 L95.88 467.5 L96.01 466.2 L96.13 468.9 L96.26 468.9 L96.38 469.4 L96.51 471.9 L96.63 468.6 L96.76 469.6 L96.88 470.9 L97.01 471.6 L97.13 470.8 L97.26 472.3 L97.38 469.6 L97.51 470.9 L97.63 471.5 L97.76 470.3 L97.88 471.8 L98.01 473.3 L98.13 472.7 L98.26 472.5 L98.38 475.4 L98.51 472.9 L98.63 471.3 L98.76 472.6 L98.88 471.0 L99.01 474.6 L99.13 474.6 L99.26 473.5 L99.38 473.4 L99.51 476.8 L99.63 475.2 L99.76 475.2 L99.88 475.2 L100.01 476.0 L100.13 476.1 L100.26 475.7 L100.38 476.9 L100.51 480.2 L100.63 478.7 L100.76 476.7 L100.88 479.5 L101.01 479.6 L101.13 480.0 L101.26 479.2 L101.38 479.4 L101.51 480.1 L101.63 479.6 L101.76 481.3 L101.88 481.0 L102.01 482.5 L102.13 482.4 L102.26 484.3 L102.38 484.7 L102.51 487.7 L102.63 486.2 L102.76 486.2 L102.88 487.9 L103.01 488.9 L103.13 489.2 L103.26 488.8 L103.38 489.2 L103.51 489.8 L103.63 488.2 L103.76 489.6 L103.88 488.5 L104.01 487.5 L104.13 484.0 L104.26 485.0 L104.38 484.4 L104.51 483.3 L104.63 484.2 L104.76 483.5 L104.88 482.9 L105.01 483.2 L105.13 484.6 L105.26 482.9 L105.38 482.3 L105.51 481.3 L105.63 482.3 L105.76 483.1 L105.88 482.5 L106.01 480.9 L106.13 479.7 L106.26 482.0 L106.38 481.1 L106.51 481.7 L106.63 483.7 L106.76 482.7 L106.88 480.8 L107.01 479.9 L107.13 483.4 L107.26 483.3 L107.38 485.0 L107.51 485.7 L107.63 484.7 L107.76 485.5 L107.88 484.9 L108.01 484.4 L108.13 484.3 L108.26 485.9 L108.38 487.5 L108.51 488.9 L108.63 487.6 L108.76 488.7 L108.88 489.0 L109.01 488.3 L109.13 489.7 L109.26 488.3 L109.38 492.1 L109.51 491.8 L109.63 492.3 L109.76 492.6 L109.88 492.4 L110.01 491.6 L110.13 492.0 L110.26 489.7 L110.38 489.7 L110.51 488.6 L110.63 485.5 L110.76 490.8 L110.88 488.4 L111.01 489.1 L111.13 486.5 L111.26 487.9 L111.38 486.9 L111.51 484.9 L111.63 483.8 L111.76 483.5 L111.88 485.1 L112.01 484.1 L112.13 483.4 L112.26 483.1 L112.38 480.3 L112.51 480.4 L112.63 481.7 L112.76 484.8 L112.88 482.0 L113.01 481.1 L113.13 480.7 L113.26 480.0 L113.38 482.0 L113.51 481.3 L113.63 481.7 L113.76 481.9 L113.88 482.4 L114.01 481.6 L114.13 483.5 L114.26 483.6 L114.38 482.1 L114.51 483.4 L114.63 483.2 L114.76 484.0 L114.88 481.5 L115.01 482.2 L115.13 482.9 L115.26 485.6 L115.38 483.6 L115.51 484.0 L115.63 484.5 L115.76 484.5 L115.88 484.1 L116.01 484.6 L116.13 482.7 L116.26 483.3 L116.38 482.9 L116.51 483.4 L116.63 483.7 L116.76 481.7 L116.88 484.7 L117.01 485.8 L117.13 480.7 L117.26 481.8 L117.38 484.6 L117.51 482.2 L117.63 482.0 L117.76 481.7 L117.88 482.7 L118.01 483.1 L118.13 483.9 L118.26 484.0 L118.38 482.9 L118.51 482.3 L118.63 483.9 L118.76 484.7 L118.88 484.7 L119.01 484.9 L119.13 485.9 L119.26 483.4 L119.38 486.0 L119.51 486.3 L119.63 485.0 L119.76 486.2 L119.88 485.7 L120.01 486.7 L120.13 487.4 L120.26 487.0 L120.38 487.5 L120.51 487.1 L120.63 485.9 L120.76 486.8 L120.88 486.4 L121.01 487.8 L121.13 487.9 L121.26 487.2 L121.38 488.2 L121.51 490.9 L121.63 487.7 L121.76 487.8 L121.88 490.4 L122.01 491.5 L122.13 490.3 L122.26 488.2 L122.38 488.6 L122.51 489.5 L122.63 488.0 L122.76 489.4 L122.88 488.9 L123.01 487.2 L123.13 489.0 L123.26 487.1 L123.38 488.8 L123.51 489.8 L123.63 487.3 L123.76 486.4 L123.88 485.6 L124.01 485.2 L124.13 484.5 L124.26 486.6 L124.38 485.7 L124.51 485.2 L124.63 485.3 L124.76 484.9 L124.88 484.9 L125.01 485.1 L125.13 485.5 L125.26 484.0 L125.38 482.9 L125.51 483.9 L125.63 485.8 L125.76 486.1 L125.88 483.6 L126.01 484.4 L126.13 483.2 L126.26 483.7 L126.38 481.8 L126.51 481.5 L126.63 479.4 L126.76 481.9 L126.88 479.0 L127.01 481.7 L127.13 480.8 L127.26 479.5 L127.38 479.3 L127.51 479.8 L127.63 479.3 L127.76 479.0 L127.88 477.9 L128.01 477.8 L128.13 478.0 L128.26 479.1 L128.38 478.3 L128.51 477.1 L128.63 478.1 L128.76 477.9 L128.88 474.1 L129.01 476.4 L129.13 474.8 L129.26 475.3 L129.38 477.7 L129.51 478.2 L129.63 474.6 L129.76 473.5 L129.88 476.8 L130.01 477.2 L130.13 475.7 L130.26 474.8 L130.38 474.2 L130.51 476.5 L130.63 475.6 L130.76 475.7 L130.88 475.3 L131.01 475.0 L131.13 475.6 L131.26 474.9 L131.38 476.3 L131.51 476.3 L131.63 476.5 L131.76 474.3 L131.88 475.2 L132.01 476.4 L132.13 475.9 L132.26 476.7 L132.38 474.7 L132.51 474.5 L132.63 473.3 L132.76 475.9 L132.88 476.1 L133.01 476.1 L133.13 475.9 L133.26 475.0 L133.38 474.9 L133.51 475.2 L133.63 474.7 L133.76 474.3 L133.88 474.7 L134.01 473.7 L134.13 474.2 L134.26 473.6 L134.38 473.4 L134.51 475.4 L134.63 474.2 L134.76 475.6 L134.88 472.0 L135.01 473.4 L135.13 473.0 L135.26 471.9 L135.38 472.2 L135.51 473.4 L135.63 472.9 L135.76 473.6 L135.88 473.9 L136.01 472.9 L136.13 474.5 L136.26 474.1 L136.38 474.1 L136.51 472.9 L136.63 474.5 L136.76 472.5 L136.88 472.5 L137.01 471.8 L137.13 472.1 L137.26 472.6 L137.38 472.2 L137.51 470.7 L137.63 471.3 L137.76 470.8 L137.88 470.5 L138.01 470.9 L138.13 470.7 L138.26 471.0 L138.38 471.4 L138.51 469.8 L138.63 471.7 L138.76 470.3 L138.88 470.8 L139.01 471.9 L139.13 470.3 L139.26 471.2 L139.38 470.7 L139.51 470.4 L139.63 468.0 L139.76 469.6 L139.88 471.3 L140.01 470.5 L140.13 471.4 L140.26 469.0 L140.38 467.8 L140.51 469.6 L140.63 469.4 L140.76 469.6 L140.88 469.0 L141.01 469.6 L141.13 469.0 L141.26 469.2 L141.38 469.8 L141.51 469.5 L141.63 470.2 L141.76 470.8 L141.88 470.0 L142.01 469.8 L142.13 468.5 L142.26 469.7 L142.38 467.0 L142.51 465.5 L142.63 467.1 L142.76 469.4 L142.88 468.6 L143.01 468.5 L143.13 465.9 L143.26 467.0 L143.38 467.8 L143.51 467.0 L143.63 466.8 L143.76 466.6 L143.88 466.9 L144.01 467.2 L144.13 467.0 L144.26 466.8 L144.38 465.7 L144.51 467.1 L144.63 465.1 L144.76 465.3 L144.88 466.9 L145.01 464.7 L145.13 464.3 L145.26 466.6 L145.38 466.0 L145.51 464.8 L145.63 461.9 L145.76 462.5 L145.88 464.8 L146.01 465.6 L146.13 464.0 L146.26 463.0 L146.38 463.2 L146.51 464.0 L146.63 462.6 L146.76 462.6 L146.88 462.2 L147.01 462.7 L147.13 461.4 L147.26 462.0 L147.38 462.5 L147.51 461.0 L147.63 461.6 L147.76 463.3 L147.88 460.5 L148.01 463.0 L148.13 461.5 L148.26 460.5 L148.38 463.1 L148.51 461.1 L148.63 462.2 L148.76 460.4 L148.88 460.8 L149.01 460.9 L149.13 462.2 L149.26 461.6 L149.38 461.6 L149.51 460.2 L149.63 459.7 L149.76 459.6 L149.88 460.6 L150.01 459.3 L150.13 459.6 L150.26 459.2 L150.38 459.7 L150.51 460.3 L150.63 459.0 L150.76 459.8 L150.88 459.7 L151.01 458.1 L151.13 458.2 L151.26 457.6 L151.38 457.0 L151.51 460.2 L151.63 458.6 L151.76 459.3 L151.88 459.6 L152.01 458.4 L152.13 458.5 L152.26 459.0 L152.38 459.1 L152.51 459.4 L152.63 457.3 L152.76 459.2 L152.88 458.1 L153.01 456.6 L153.13 458.4 L153.26 459.3 L153.38 460.8 L153.51 458.7 L153.63 458.3 L153.76 460.6 L153.88 460.6 L154.01 460.6 L154.13 459.9 L154.26 460.0 L154.38 461.0 L154.51 461.0 L154.63 459.8 L154.76 460.5 L154.88 461.5 L155.01 460.4 L155.13 461.5 L155.26 461.4 L155.38 460.8 L155.51 459.7 L155.63 460.7 L155.76 462.8 L155.88 460.2 L156.01 459.2 L156.13 458.3 L156.26 458.9 L156.38 459.1 L156.51 459.3 L156.63 459.2 L156.76 460.0 L156.88 459.8 L157.01 460.8 L157.13 460.2 L157.26 460.5 L157.38 462.0 L157.51 462.1 L157.63 461.9 L157.76 461.9 L157.88 463.0 L158.01 461.0 L158.13 460.9 L158.26 463.1 L158.38 462.1 L158.51 462.4 L158.63 463.7 L158.76 463.5 L158.88 463.7 L159.01 464.1 L159.13 464.2 L159.26 463.6 L159.38 462.8 L159.51 463.3 L159.63 463.2 L159.76 463.0 L159.88 463.4 L160.01 461.6 L160.13 462.1 L160.26 461.2 L160.38 462.9 L160.51 463.5 L160.63 461.3 L160.76 459.4 L160.88 461.0 L161.01 461.6 L161.13 461.6 L161.26 460.8 L161.38 461.5 L161.51 461.0 L161.63 462.0 L161.76 461.9 L161.88 461.7 L162.01 460.8 L162.13 462.4 L162.26 462.2 L162.38 461.0 L162.51 461.3 L162.63 462.8 L162.76 462.6 L162.88 459.4 L163.01 462.0 L163.13 461.5 L163.26 462.9 L163.38 463.5 L163.51 462.8 L163.63 462.4 L163.76 462.8 L163.88 463.0 L164.01 462.7 L164.13 463.0 L164.26 462.7 L164.38 463.2 L164.51 464.3 L164.63 463.3 L164.76 464.5 L164.88 465.3 L165.01 464.8 L165.13 464.3 L165.26 465.9 L165.38 464.0 L165.51 463.3 L165.63 466.4 L165.76 466.0 L165.88 464.0 L166.01 465.2 L166.13 466.6 L166.26 465.0 L166.38 465.9 L166.51 466.0 L166.63 465.7 L166.76 465.4 L166.88 466.4 L167.01 463.9 L167.13 464.5 L167.26 463.8 L167.38 463.3 L167.51 466.7 L167.63 464.2 L167.76 463.6 L167.88 464.4 L168.01 464.2 L168.13 464.1 L168.26 461.7 L168.38 462.0 L168.51 461.2 L168.63 461.8 L168.76 461.7 L168.88 461.8 L169.01 461.9 L169.13 460.8 L169.26 461.2 L169.38 461.4 L169.51 461.8 L169.63 462.8 L169.76 462.2 L169.88 461.8 L170.01 461.9 L170.13 463.6 L170.26 462.6 L170.38 462.5 L170.51 463.8 L170.63 463.6 L170.76 460.4 L170.88 460.9 L171.01 459.1 L171.13 462.0 L171.26 460.7 L171.38 460.5 L171.51 461.2 L171.63 461.3 L171.76 461.0 L171.88 461.1 L172.01 462.0 L172.13 460.3 L172.26 460.7 L172.38 461.9 L172.51 461.1 L172.63 460.8 L172.76 460.4 L172.88 460.2 L173.01 460.9 L173.13 460.6 L173.26 459.3 L173.38 458.0 L173.51 456.5 L173.63 457.5 L173.76 459.1 L173.88 457.5 L174.01 457.4 L174.13 458.4 L174.26 457.4 L174.38 456.7 L174.51 454.7 L174.63 456.6 L174.76 455.6 L174.88 455.1 L175.01 455.5 L175.13 455.2 L175.26 454.8 L175.38 454.5 L175.51 454.5 L175.63 453.8 L175.76 453.7 L175.88 454.3 L176.01 454.6 L176.13 453.8 L176.26 454.8 L176.38 454.1 L176.51 453.0 L176.63 452.0 L176.76 455.6 L176.88 455.1 L177.01 452.5 L177.13 453.0 L177.26 453.2 L177.38 453.2 L177.51 453.4 L177.63 453.6 L177.76 453.7 L177.88 453.1 L178.01 453.6 L178.13 453.4 L178.26 452.9 L178.38 452.3 L178.51 452.3 L178.63 452.8 L178.76 454.6 L178.88 452.8 L179.01 453.2 L179.13 454.6 L179.26 453.2 L179.38 452.8 L179.51 454.1 L179.63 454.8 L179.76 454.8 L179.88 454.3 L180.01 454.9 L180.13 455.1 L180.26 454.1 L180.38 454.6 L180.51 454.6 L180.63 454.2 L180.76 454.5 L180.88 454.3 L181.01 454.9 L181.13 455.4 L181.26 454.5 L181.38 453.8 L181.51 453.6 L181.63 452.4 L181.76 453.3 L181.88 453.1 L182.01 451.4 L182.13 452.9 L182.26 455.0 L182.38 453.7 L182.51 453.1 L182.63 453.3 L182.76 452.4 L182.88 451.2 L183.01 452.4 L183.13 452.6 L183.26 453.0 L183.38 452.7 L183.51 452.1 L183.63 451.4 L183.76 451.6 L183.88 452.4 L184.01 452.8 L184.13 454.0 L184.26 451.9 L184.38 452.8 L184.51 453.8 L184.63 453.3 L184.76 453.2 L184.88 451.7 L185.01 455.1 L185.13 454.2 L185.26 454.7 L185.38 454.2 L185.51 455.1 L185.63 454.5 L185.76 453.6 L185.88 453.8 L186.01 454.6 L186.13 454.2 L186.26 454.0 L186.38 454.7 L186.51 455.2 L186.63 454.5 L186.76 454.3 L186.88 454.8 L187.01 456.3 L187.13 454.1 L187.26 455.6 L187.38 456.2 L187.51 455.3 L187.63 454.8 L187.76 455.6 L187.88 454.9 L188.01 456.0 L188.13 456.2 L188.26 455.7 L188.38 456.2 L188.51 456.3 L188.63 455.9 L188.76 456.7 L188.88 457.0 L189.01 456.1 L189.13 455.8 L189.26 457.6 L189.38 454.4 L189.51 455.1 L189.63 453.3 L189.76 454.6 L189.88 453.4 L190.01 453.2 L190.13 452.2 L190.26 453.4 L190.38 454.0 L190.51 453.1 L190.63 453.0 L190.76 453.1 L190.88 452.5 L191.01 451.9 L191.13 452.3 L191.26 451.6 L191.38 452.4 L191.51 451.0 L191.63 452.1 L191.76 454.3 L191.88 451.5 L192.01 452.3 L192.13 452.3 L192.26 451.2 L192.38 450.8 L192.51 451.0 L192.63 452.3 L192.76 452.3 L192.88 449.5 L193.01 449.6 L193.13 452.3 L193.26 452.8 L193.38 449.7 L193.51 452.2 L193.63 451.1 L193.76 451.3 L193.88 451.5 L194.01 450.0 L194.13 450.4 L194.26 450.9 L194.38 450.7 L194.51 449.3 L194.63 449.7 L194.76 448.7 L194.88 448.6 L195.01 449.1 L195.13 448.9 L195.26 448.3 L195.38 448.1 L195.51 449.0 L195.63 449.3 L195.76 448.5 L195.88 446.8 L196.01 448.4 L196.13 450.5 L196.26 451.0 L196.38 450.0 L196.51 449.2 L196.63 450.2 L196.76 448.8 L196.88 449.7 L197.01 448.8 L197.13 448.0 L197.26 448.3 L197.38 449.0 L197.51 449.0 L197.63 447.3 L197.76 448.5 L197.88 446.7 L198.01 447.8 L198.13 448.4 L198.26 448.4 L198.38 449.0 L198.51 450.7 L198.63 447.8 L198.76 448.8 L198.88 450.3 L199.01 449.5 L199.13 449.3 L199.26 448.5 L199.38 448.0 L199.51 448.8 L199.63 449.5 L199.76 448.9 L199.88 449.1 L200.01 448.8 L200.13 447.0 L200.26 448.0 L200.38 448.1 L200.51 448.4 L200.63 449.0 L200.76 448.7 L200.88 448.5 L201.01 448.9 L201.13 449.1 L201.26 449.0 L201.38 450.2 L201.51 450.5 L201.63 450.3 L201.76 449.7 L201.88 450.6 L202.01 450.8 L202.13 452.7 L202.26 450.9 L202.38 450.5 L202.51 451.2 L202.63 451.0 L202.76 452.3 L202.88 451.5 L203.01 452.3 L203.13 452.2 L203.26 452.0 L203.38 451.4 L203.51 450.9 L203.63 451.0 L203.76 450.0 L203.88 451.0 L204.01 450.8 L204.13 450.2 L204.26 450.7 L204.38 448.4 L204.51 447.6 L204.63 446.8 L204.76 447.2 L204.88 446.2 L205.01 447.5 L205.13 448.6 L205.26 446.4 L205.38 446.7 L205.51 447.2 L205.63 446.2 L205.76 447.2 L205.88 445.2 L206.01 446.1 L206.13 444.9 L206.26 446.1 L206.38 444.5 L206.51 445.2 L206.63 444.8 L206.76 445.4 L206.88 444.5 L207.01 446.0 L207.13 444.0 L207.26 446.4 L207.38 445.7 L207.51 445.3 L207.63 445.2 L207.76 446.7 L207.88 446.0 L208.01 442.4 L208.13 445.2 L208.26 445.5 L208.38 442.7 L208.51 444.6 L208.63 443.6 L208.76 444.1 L208.88 444.1 L209.01 443.6 L209.13 444.6 L209.26 444.2 L209.38 444.2 L209.51 444.0 L209.63 443.7 L209.76 445.3 L209.88 444.6 L210.01 443.8 L210.13 443.2 L210.26 443.2 L210.38 443.1 L210.51 443.4 L210.63 443.3 L210.76 442.9 L210.88 442.1 L211.01 442.7 L211.13 443.7 L211.26 442.8 L211.38 443.6 L211.51 444.3 L211.63 443.6 L211.76 444.1 L211.88 442.1 L212.01 442.4 L212.13 439.9 L212.26 441.2 L212.38 442.3 L212.51 442.4 L212.63 443.2 L212.76 441.5 L212.88 439.8 L213.01 441.2 L213.13 441.4 L213.26 441.5 L213.38 441.9 L213.51 443.0 L213.63 442.4 L213.76 442.1 L213.88 441.3 L214.01 441.8 L214.13 441.4 L214.26 441.8 L214.38 442.3 L214.51 441.4 L214.63 440.1 L214.76 442.8 L214.88 443.1 L215.01 442.2 L215.13 443.5 L215.26 441.3 L215.38 440.2 L215.51 440.5 L215.63 441.9 L215.76 439.9 L215.88 439.0 L216.01 439.6 L216.13 441.9 L216.26 441.4 L216.38 439.5 L216.51 440.7 L216.63 440.2 L216.76 441.2 L216.88 440.1 L217.01 440.0 L217.13 439.6 L217.26 439.5 L217.38 439.7 L217.51 440.1 L217.63 440.1 L217.76 440.0 L217.88 439.9 L218.01 439.6 L218.13 439.5 L218.26 439.3 L218.38 437.3 L218.51 437.7 L218.63 439.7 L218.76 438.0 L218.88 437.4 L219.01 439.3 L219.13 436.5 L219.26 439.7 L219.38 439.1 L219.51 439.3 L219.63 437.9 L219.76 439.1 L219.88 439.2 L220.01 439.5 L220.13 440.0 L220.26 439.8 L220.38 440.3 L220.51 437.7 L220.63 438.3 L220.76 438.5 L220.88 440.8 L221.01 440.7 L221.13 439.2 L221.26 440.6 L221.38 440.8 L221.51 440.8 L221.63 441.9 L221.76 442.0 L221.88 443.2 L222.01 442.6 L222.13 442.3 L222.26 440.8 L222.38 444.7 L222.51 444.4 L222.63 442.0 L222.76 443.5 L222.88 443.8 L223.01 443.0 L223.13 444.3 L223.26 445.1 L223.38 444.0 L223.51 444.3 L223.63 444.4 L223.76 444.4 L223.88 445.5 L224.01 445.8 L224.13 445.8 L224.26 444.9 L224.38 444.7 L224.51 444.4 L224.63 445.9 L224.76 444.0 L224.88 444.4 L225.01 444.4 L225.13 444.8 L225.26 445.6 L225.38 444.1 L225.51 443.1 L225.63 442.5 L225.76 444.8 L225.88 443.5 L226.01 442.8 L226.13 442.7 L226.26 444.1 L226.38 445.7 L226.51 445.3 L226.63 444.0 L226.76 443.3 L226.88 443.8 L227.01 442.8 L227.13 442.7 L227.26 442.4 L227.38 442.2 L227.51 442.6 L227.63 443.5 L227.76 443.0 L227.88 443.4 L228.01 443.2 L228.13 444.0 L228.26 441.2 L228.38 441.5 L228.51 439.8 L228.63 441.4 L228.76 440.6 L228.88 439.1 L229.01 438.2 L229.13 440.9 L229.26 440.8 L229.38 441.1 L229.51 439.6 L229.63 438.9 L229.76 439.2 L229.88 438.8 L230.01 439.1 L230.13 439.0 L230.26 438.9 L230.38 438.7 L230.51 438.5 L230.63 439.0 L230.76 438.6 L230.88 438.6 L231.01 439.4 L231.13 438.4 L231.26 437.2 L231.38 437.2 L231.51 436.3 L231.63 436.4 L231.76 437.9 L231.88 438.0 L232.01 437.6 L232.13 436.5 L232.26 435.6 L232.38 434.6 L232.51 434.5 L232.63 433.7 L232.76 436.4 L232.88 436.0 L233.01 435.9 L233.13 434.3 L233.26 435.3 L233.38 435.8 L233.51 435.3 L233.63 434.6 L233.76 434.1 L233.88 434.7 L234.01 434.3 L234.13 435.2 L234.26 434.0 L234.38 433.9 L234.51 433.0 L234.63 432.7 L234.76 433.5 L234.88 433.9 L235.01 433.4 L235.13 433.6 L235.26 431.7 L235.38 432.9 L235.51 432.6 L235.63 432.7 L235.76 434.1 L235.88 434.0 L236.01 433.3 L236.13 431.0 L236.26 432.5 L236.38 431.9 L236.51 432.6 L236.63 430.1 L236.76 430.8 L236.88 429.6 L237.01 430.2 L237.13 430.7 L237.26 430.5 L237.38 431.4 L237.51 430.5 L237.63 430.7 L237.76 430.1 L237.88 430.1 L238.01 429.3 L238.13 430.3 L238.26 429.3 L238.38 428.7 L238.51 429.6 L238.63 429.0 L238.76 431.8 L238.88 431.9 L239.01 428.7 L239.13 429.1 L239.26 427.3 L239.38 430.8 L239.51 429.8 L239.63 429.9 L239.76 427.5 L239.88 427.1 L240.01 426.3 L240.13 426.5 L240.26 430.4 L240.38 429.9 L240.51 429.4 L240.63 429.7 L240.76 430.2 L240.88 428.5 L241.01 428.9 L241.13 429.4 L241.26 428.7 L241.38 429.5 L241.51 428.8 L241.63 428.5 L241.76 428.9 L241.88 428.6 L242.01 429.4 L242.13 429.1 L242.26 429.3 L242.38 428.6 L242.51 428.9 L242.63 428.8 L242.76 430.0 L242.88 428.0 L243.01 429.3 L243.13 426.8 L243.26 425.6 L243.38 425.8 L243.51 426.0 L243.63 426.6 L243.76 427.0 L243.88 425.7 L244.01 424.4 L244.13 425.0 L244.26 425.1 L244.38 425.2 L244.51 425.4 L244.63 426.2 L244.76 427.5 L244.88 427.2 L245.01 425.9 L245.13 426.5 L245.26 428.4 L245.38 427.8 L245.51 428.8 L245.63 428.5 L245.76 429.8 L245.88 429.6 L246.01 430.2 L246.13 431.0 L246.26 430.7 L246.38 429.6 L246.51 430.0 L246.63 429.6 L246.76 428.6 L246.88 428.3 L247.01 429.1 L247.13 429.8 L247.26 431.0 L247.38 427.0 L247.51 428.4 L247.63 425.9 L247.76 424.8 L247.88 425.5 L248.01 427.0 L248.13 425.4 L248.26 425.0 L248.38 425.6 L248.51 425.7 L248.63 424.4 L248.76 424.4 L248.88 424.4 L249.01 423.7 L249.13 423.1 L249.26 420.7 L249.38 422.2 L249.51 423.1 L249.63 419.6 L249.76 421.0 L249.88 421.6 L250.01 420.7 L250.13 421.1 L250.26 419.5 L250.38 421.2 L250.51 421.8 L250.63 419.2 L250.76 419.3 L250.88 423.0 L251.01 421.6 L251.13 419.5 L251.26 420.8 L251.38 419.8 L251.51 419.2 L251.63 420.1 L251.76 418.6 L251.88 420.8 L252.01 418.5 L252.13 419.6 L252.26 418.6 L252.38 418.0 L252.51 418.3 L252.63 417.3 L252.76 417.4 L252.88 418.6 L253.01 419.1 L253.13 418.6 L253.26 418.1 L253.38 417.2 L253.51 417.9 L253.63 419.7 L253.76 419.9 L253.88 418.6 L254.01 417.8 L254.13 417.7 L254.26 417.8 L254.38 416.8 L254.51 417.9 L254.63 417.3 L254.76 416.2 L254.88 417.1 L255.01 416.4 L255.13 416.9 L255.26 414.6 L255.38 419.0 L255.51 417.2 L255.63 418.1 L255.76 420.2 L255.88 418.3 L256.01 418.4 L256.13 418.2 L256.26 416.0 L256.38 419.3 L256.51 417.1 L256.63 416.5 L256.76 416.6 L256.88 416.2 L257.01 417.1 L257.13 418.0 L257.26 417.6 L257.38 418.7 L257.51 416.7 L257.63 416.6 L257.76 416.1 L257.88 419.0 L258.01 422.5 L258.13 420.9 L258.26 420.6 L258.38 421.3 L258.51 422.3 L258.63 422.0 L258.76 420.2 L258.88 424.6 L259.01 422.5 L259.13 424.8 L259.26 421.4 L259.38 421.6 L259.51 425.1 L259.63 423.0 L259.76 425.4 L259.88 425.7 L260.01 426.0 L260.13 425.7 L260.26 425.0 L260.38 425.5 L260.51 424.6 L260.63 424.3 L260.76 426.8 L260.88 427.0 L261.01 424.1 L261.13 424.2 L261.26 422.2 L261.38 424.1 L261.51 423.5 L261.63 424.9 L261.76 421.0 L261.88 420.2 L262.01 420.8 L262.13 422.2 L262.26 423.3 L262.38 422.4 L262.51 420.8 L262.63 418.4 L262.76 418.1 L262.88 419.7 L263.01 417.5 L263.13 415.8 L263.26 418.0 L263.38 418.9 L263.51 417.2 L263.63 417.1 L263.76 418.5 L263.88 417.1 L264.01 416.2 L264.13 416.0 L264.26 414.5 L264.38 415.1 L264.51 415.1 L264.63 415.9 L264.76 416.3 L264.88 418.4 L265.01 415.5 L265.13 416.7 L265.26 416.0 L265.38 414.7 L265.51 417.2 L265.63 417.0 L265.76 416.0 L265.88 417.6 L266.01 417.8 L266.13 418.4 L266.26 417.8 L266.38 418.4 L266.51 420.6 L266.63 418.8 L266.76 416.9 L266.88 420.0 L267.01 416.7 L267.13 417.3 L267.26 418.9 L267.38 421.0 L267.51 422.4 L267.63 422.2 L267.76 421.7 L267.88 420.3 L268.01 420.3 L268.13 418.6 L268.26 422.6 L268.38 423.6 L268.51 419.5 L268.63 419.4 L268.76 419.9 L268.88 421.1 L269.01 420.2 L269.13 419.9 L269.26 418.6 L269.38 419.8 L269.51 420.6 L269.63 420.3 L269.76 419.7 L269.88 421.9 L270.01 420.9 L270.13 422.7 L270.26 421.4 L270.38 420.9 L270.51 424.7 L270.63 424.5 L270.76 425.8 L270.88 424.2 L271.01 424.0 L271.13 424.2 L271.26 425.7 L271.38 424.1 L271.51 425.4 L271.63 423.9 L271.76 427.0 L271.88 428.8 L272.01 424.6 L272.13 429.5 L272.26 426.7 L272.38 430.5 L272.51 427.4 L272.63 428.9 L272.76 428.4 L272.88 426.4 L273.01 427.2 L273.13 429.6 L273.26 429.3 L273.38 430.8 L273.51 431.5 L273.63 429.2 L273.76 430.0 L273.88 429.8 L274.01 427.5 L274.13 429.1 L274.26 431.2 L274.38 428.9 L274.51 427.7 L274.63 427.6 L274.76 433.6 L274.88 431.4 L275.01 430.3 L275.13 430.3 L275.26 430.9 L275.38 431.0 L275.51 431.9 L275.63 431.9 L275.76 432.8 L275.88 432.5 L276.01 435.5 L276.13 436.8 L276.26 435.3 L276.38 434.6 L276.51 433.8 L276.63 436.8 L276.76 436.0 L276.88 436.6 L277.01 434.7 L277.13 435.8 L277.26 434.9 L277.38 435.2 L277.51 434.2 L277.63 435.5 L277.76 435.8 L277.88 434.3 L278.01 434.7 L278.13 434.1 L278.26 432.9 L278.38 432.3 L278.51 430.7 L278.63 430.1 L278.76 433.3 L278.88 430.2 L279.01 431.2 L279.13 429.7 L279.26 430.8 L279.38 430.3 L279.51 431.0 L279.63 429.0 L279.76 428.5 L279.88 429.2 L280.01 432.3 L280.13 433.1 L280.26 430.3 L280.38 428.2 L280.51 430.0 L280.63 428.5 L280.76 427.7 L280.88 428.9 L281.01 428.3 L281.13 427.5 L281.26 426.5 L281.38 426.5 L281.51 427.4 L281.63 427.6 L281.76 428.0 L281.88 426.5 L282.01 426.5 L282.13 426.8 L282.26 424.0 L282.38 427.7 L282.51 426.6 L282.63 426.3 L282.76 425.1 L282.88 428.4 L283.01 425.2 L283.13 426.5 L283.26 426.3 L283.38 424.7 L283.51 426.1 L283.63 424.7 L283.76 423.3 L283.88 424.5 L284.01 425.2 L284.13 425.0 L284.26 427.2 L284.38 425.6 L284.51 426.1 L284.63 426.4 L284.76 425.8 L284.88 426.7 L285.01 428.8 L285.13 428.4 L285.26 426.5 L285.38 427.2 L285.51 427.9 L285.63 429.9 L285.76 431.5 L285.88 430.1 L286.01 431.8 L286.13 429.3 L286.26 431.6 L286.38 435.2 L286.51 437.0 L286.63 435.2 L286.76 434.2 L286.88 434.5 L287.01 435.3 L287.13 436.3 L287.26 436.4 L287.38 436.2 L287.51 435.4 L287.63 434.4 L287.76 435.3 L287.88 437.7 L288.01 434.1 L288.13 435.7 L288.26 433.1 L288.38 432.6 L288.51 432.5 L288.63 433.2 L288.76 432.8 L288.88 434.3 L289.01 434.3 L289.13 434.1 L289.26 432.8 L289.38 434.8 L289.51 436.5 L289.63 434.5 L289.76 434.1 L289.88 434.4 L290.01 434.0 L290.13 434.6 L290.26 435.0 L290.38 434.7 L290.51 434.0 L290.63 434.8 L290.76 435.0 L290.88 435.0 L291.01 439.5 L291.13 434.5 L291.26 435.6 L291.38 437.4 L291.51 438.0 L291.63 435.1 L291.76 433.7 L291.88 433.7 L292.01 435.7 L292.13 435.2 L292.26 436.9 L292.38 437.8 L292.51 440.1 L292.63 439.5 L292.76 442.3 L292.88 442.1 L293.01 442.4 L293.13 444.1 L293.26 442.9 L293.38 444.6 L293.51 448.9 L293.63 448.3 L293.76 450.0 L293.88 451.2 L294.01 450.3 L294.13 449.1 L294.26 451.6 L294.38 453.3 L294.51 456.1 L294.63 453.1 L294.76 462.8 L294.88 464.6 L295.01 463.3 L295.13 460.3 L295.26 462.7 L295.38 464.7 L295.51 466.4 L295.63 466.6 L295.76 466.0 L295.88 464.0 L296.01 468.8 L296.13 470.9 L296.26 471.8 L296.38 473.9 L296.51 474.6 L296.63 474.7 L296.76 474.5 L296.88 476.0 L297.01 474.3 L297.13 479.3 L297.26 478.6 L297.38 481.3 L297.51 477.4 L297.63 482.5 L297.76 481.1 L297.88 482.7 L298.01 482.7 L298.13 480.8 L298.26 482.1 L298.38 483.5 L298.51 483.2 L298.63 483.4 L298.76 482.4 L298.88 481.4 L299.01 479.4 L299.13 481.2 L299.26 484.9 L299.38 481.1 L299.51 480.7 L299.63 478.7 L299.76 478.4 L299.88 475.0 L300.01 475.9 L300.13 477.3 L300.26 471.9 L300.38 473.0 L300.51 472.2 L300.63 472.5 L300.76 474.3 L300.88 471.0 L301.01 472.8 L301.13 470.9 L301.26 469.8 L301.38 469.4 L301.51 469.9 L301.63 470.2 L301.76 465.7 L301.88 465.9 L302.01 470.7 L302.13 470.1 L302.26 466.6 L302.38 466.7 L302.51 470.1 L302.63 468.7 L302.76 468.1 L302.88 470.3 L303.01 469.7 L303.13 472.4 L303.26 473.2 L303.38 477.3 L303.51 475.8 L303.63 477.4 L303.76 477.7 L303.88 477.9 L304.01 477.6 L304.13 477.2 L304.26 477.4 L304.38 477.6 L304.51 476.6 L304.63 477.4 L304.76 474.0 L304.88 473.6 L305.01 474.8 L305.13 475.5 L305.26 474.5 L305.38 476.3 L305.51 477.0 L305.63 476.8 L305.76 475.2 L305.88 476.3 L306.01 479.6 L306.13 480.5 L306.26 482.5 L306.38 479.7 L306.51 482.3 L306.63 483.1 L306.76 484.9 L306.88 484.6 L307.01 484.3 L307.13 483.8 L307.26 482.6 L307.38 482.9 L307.51 486.1 L307.63 488.2 L307.76 487.8 L307.88 488.7 L308.01 488.2 L308.13 488.7 L308.26 487.4 L308.38 487.8 L308.51 487.6 L308.63 479.7 L308.76 480.1 L308.88 478.1 L309.01 477.8 L309.13 479.9 L309.26 478.4 L309.38 477.9 L309.51 478.6 L309.63 475.6 L309.76 476.3 L309.88 475.0 L310.01 475.5 L310.13 476.4 L310.26 471.6 L310.38 475.2 L310.51 473.2 L310.63 474.9 L310.76 474.5 L310.88 475.9 L311.01 473.9 L311.13 472.0 L311.26 470.7 L311.38 471.5 L311.51 471.3 L311.63 469.9 L311.76 470.3 L311.88 470.8 L312.01 469.7 L312.13 471.1 L312.26 468.3 L312.38 468.8 L312.51 465.3 L312.63 467.9 L312.76 468.7 L312.88 467.4 L313.01 463.4 L313.13 469.1 L313.26 465.1 L313.38 464.1 L313.51 465.9 L313.63 466.3 L313.76 464.9 L313.88 465.6 L314.01 463.6 L314.13 465.0 L314.26 465.3 L314.38 461.8 L314.51 466.1 L314.63 464.4 L314.76 466.7 L314.88 462.0 L315.01 461.4 L315.13 461.7 L315.26 463.0 L315.38 466.0 L315.51 461.6 L315.63 464.1 L315.76 464.3 L315.88 464.8 L316.01 465.0 L316.13 464.7 L316.26 467.6 L316.38 465.4 L316.51 467.0 L316.63 463.8 L316.76 463.8 L316.88 464.9 L317.01 468.2 L317.13 466.0 L317.26 466.0 L317.38 466.7 L317.51 467.2 L317.63 466.4 L317.76 466.8 L317.88 466.5 L318.01 469.9 L318.13 466.8 L318.26 465.8 L318.38 466.8 L318.51 466.8 L318.63 466.4 L318.76 461.5 L318.88 461.4 L319.01 462.3 L319.13 463.4 L319.26 460.9 L319.38 462.3 L319.51 459.8 L319.63 459.8 L319.76 459.3 L319.88 459.1 L320.01 458.1 L320.13 456.0 L320.26 455.2 L320.38 456.9 L320.51 460.7 L320.63 459.7 L320.76 456.2 L320.88 458.6 L321.01 458.9 L321.13 458.0 L321.26 455.6 L321.38 454.8 L321.51 456.2 L321.63 457.3 L321.76 456.2 L321.88 456.5 L322.01 455.3 L322.13 455.6 L322.26 455.6 L322.38 455.4 L322.51 457.3 L322.63 454.7 L322.76 455.6 L322.88 455.5 L323.01 455.9 L323.13 455.2 L323.26 455.4 L323.38 455.8 L323.51 454.7 L323.63 456.4 L323.76 454.7 L323.88 453.6 L324.01 452.3 L324.13 451.8 L324.26 452.3 L324.38 452.6 L324.51 452.9 L324.63 452.0 L324.76 452.2 L324.88 452.5 L325.01 452.1 L325.13 451.5 L325.26 452.7 L325.38 451.3 L325.51 450.2 L325.63 453.8 L325.76 451.8 L325.88 451.0 L326.01 452.3 L326.13 447.5 L326.26 449.9 L326.38 450.0 L326.51 451.9 L326.63 450.1 L326.76 449.4 L326.88 450.5 L327.01 449.9 L327.13 450.8 L327.26 452.1 L327.38 450.6 L327.51 452.9 L327.63 451.5 L327.76 453.7 L327.88 454.5 L328.01 451.5 L328.13 454.1 L328.26 453.5 L328.38 455.4 L328.51 455.0 L328.63 454.4 L328.76 453.1 L328.88 455.4 L329.01 452.7 L329.13 449.2 L329.26 452.6 L329.38 451.7 L329.51 450.1 L329.63 451.6 L329.76 449.4 L329.88 449.4 L330.01 449.7 L330.13 448.8 L330.26 449.6 L330.38 450.4 L330.51 450.8 L330.63 450.7 L330.76 445.2 L330.88 447.9 L331.01 446.8 L331.13 449.1 L331.26 448.6 L331.38 448.4 L331.51 447.3 L331.63 445.7 L331.76 447.5 L331.88 446.8 L332.01 447.8 L332.13 447.1 L332.26 448.1 L332.38 446.7 L332.51 447.7 L332.63 447.9 L332.76 446.3 L332.88 445.2 L333.01 444.1 L333.13 446.9 L333.26 444.8 L333.38 443.7 L333.51 445.0 L333.63 443.2 L333.76 445.8 L333.88 443.7 L334.01 446.9 L334.13 446.3 L334.26 444.4 L334.38 444.9 L334.51 445.5 L334.63 446.5 L334.76 446.2 L334.88 444.4 L335.01 444.7 L335.13 445.1 L335.26 445.5 L335.38 446.8 L335.51 447.3 L335.63 447.6 L335.76 445.8 L335.88 446.7 L336.01 449.0 L336.13 451.2 L336.26 451.0 L336.38 451.6 L336.51 451.4 L336.63 449.9 L336.76 450.6 L336.88 451.9 L337.01 450.2 L337.13 449.6 L337.26 448.0 L337.38 446.8 L337.51 443.1 L337.63 444.2 L337.76 443.7 L337.88 445.7 L338.01 444.9 L338.13 444.2 L338.26 444.9 L338.38 444.0 L338.51 444.7 L338.63 443.6 L338.76 443.5 L338.88 443.7 L339.01 444.4 L339.13 443.4 L339.26 442.3 L339.38 442.3 L339.51 442.4 L339.63 442.5 L339.76 442.0 L339.88 440.4 L340.01 440.6 L340.13 440.3 L340.26 438.2 L340.38 439.9 L340.51 439.7 L340.63 439.4 L340.76 438.5 L340.88 438.5 L341.01 439.2 L341.13 437.3 L341.26 438.5 L341.38 436.8 L341.51 439.8 L341.63 437.1 L341.76 437.6 L341.88 437.4 L342.01 436.7 L342.13 436.2 L342.26 436.6 L342.38 434.2 L342.51 435.2 L342.63 435.9 L342.76 434.9 L342.88 435.3 L343.01 436.2 L343.13 435.6 L343.26 436.6 L343.38 439.2 L343.51 437.0 L343.63 437.9 L343.76 437.9 L343.88 437.1 L344.01 438.1 L344.13 441.3 L344.26 441.6 L344.38 440.2 L344.51 440.5 L344.63 442.0 L344.76 443.0 L344.88 441.8 L345.01 442.9 L345.13 445.9 L345.26 443.8 L345.38 444.9 L345.51 443.0 L345.63 444.4 L345.76 445.6 L345.88 447.2 L346.01 448.4 L346.13 446.6 L346.26 446.8 L346.38 446.8 L346.51 446.5 L346.63 449.0 L346.76 450.6 L346.88 450.5 L347.01 447.6 L347.13 449.7 L347.26 450.0 L347.38 450.2 L347.51 451.5 L347.63 447.5 L347.76 449.3 L347.88 452.5 L348.01 451.7 L348.13 450.3 L348.26 452.0 L348.38 452.5 L348.51 450.7 L348.63 451.2 L348.76 451.0 L348.88 450.9 L349.01 450.1 L349.13 451.2 L349.26 449.9 L349.38 449.9 L349.51 448.9 L349.63 451.2 L349.76 451.6 L349.88 448.5 L350.01 447.9 L350.13 449.8 L350.26 448.3 L350.38 446.3 L350.51 444.4 L350.63 446.2 L350.76 446.8 L350.88 445.6 L351.01 446.3 L351.13 447.0 L351.26 446.9 L351.38 448.3 L351.51 446.9 L351.63 446.5 L351.76 448.0 L351.88 447.1 L352.01 447.1 L352.13 450.5 L352.26 450.6 L352.38 450.1 L352.51 451.6 L352.63 451.6 L352.76 451.4 L352.88 450.6 L353.01 450.4 L353.13 450.5 L353.26 448.8 L353.38 448.3 L353.51 450.4 L353.63 449.3 L353.76 446.2 L353.88 444.3 L354.01 445.3 L354.13 448.3 L354.26 448.3 L354.38 445.8 L354.51 444.3 L354.63 445.4 L354.76 443.4 L354.88 443.6 L355.01 445.0 L355.13 443.7 L355.26 443.6 L355.38 443.1 L355.51 443.3 L355.63 443.0 L355.76 440.5 L355.88 442.2 L356.01 442.2 L356.13 442.5 L356.26 440.1 L356.38 439.4 L356.51 440.7 L356.63 439.3 L356.76 440.8 L356.88 442.4 L357.01 440.5 L357.13 438.9 L357.26 439.4 L357.38 439.9 L357.51 438.7 L357.63 437.3 L357.76 437.4 L357.88 438.0 L358.01 439.7 L358.13 438.9 L358.26 437.3 L358.38 437.6 L358.51 437.6 L358.63 436.3 L358.76 438.0 L358.88 437.4 L359.01 437.4 L359.13 436.6 L359.26 436.5 L359.38 432.9 L359.51 436.0 L359.63 433.4 L359.76 433.1 L359.88 434.2 L360.01 433.9 L360.13 433.2 L360.26 432.4 L360.38 432.9 L360.51 432.8 L360.63 432.4 L360.76 431.7 L360.88 433.3 L361.01 434.5 L361.13 433.2 L361.26 430.1 L361.38 431.5 L361.51 432.6 L361.63 430.6 L361.76 429.0 L361.88 429.3 L362.01 431.3 L362.13 429.6 L362.26 429.9 L362.38 427.3 L362.51 427.4 L362.63 428.9 L362.76 429.4 L362.88 428.4 L363.01 428.9 L363.13 427.7 L363.26 427.6 L363.38 427.4 L363.51 425.9 L363.63 427.8 L363.76 423.3 L363.88 425.8 L364.01 425.6 L364.13 425.6 L364.26 425.8 L364.38 423.8 L364.51 426.5 L364.63 427.1 L364.76 425.2 L364.88 427.2 L365.01 427.4 L365.13 426.6 L365.26 426.0 L365.38 424.3 L365.51 424.0 L365.63 423.8 L365.76 423.1 L365.88 423.0 L366.01 422.7 L366.13 423.9 L366.26 424.3 L366.38 423.2 L366.51 422.4 L366.63 422.1 L366.76 422.0 L366.88 424.6 L367.01 423.2 L367.13 422.1 L367.26 420.5 L367.38 420.8 L367.51 419.8 L367.63 420.2 L367.76 422.0 L367.88 421.3 L368.01 421.9 L368.13 419.8 L368.26 422.1 L368.38 421.2 L368.51 421.7 L368.63 420.8 L368.76 423.0 L368.88 425.4 L369.01 422.8 L369.13 422.8 L369.26 421.3 L369.38 424.0 L369.51 421.8 L369.63 423.4 L369.76 424.2 L369.88 423.5 L370.01 424.8 L370.13 423.9 L370.26 424.2 L370.38 423.4 L370.51 423.8 L370.63 424.2 L370.76 421.4 L370.88 421.7 L371.01 420.1 L371.13 421.8 L371.26 421.8 L371.38 420.8 L371.51 424.6 L371.63 419.8 L371.76 420.9 L371.88 420.2 L372.01 419.8 L372.13 420.6 L372.26 420.5 L372.38 419.9 L372.51 417.9 L372.63 417.5 L372.76 418.5 L372.88 418.0 L373.01 417.3 L373.13 419.4 L373.26 417.7 L373.38 416.5 L373.51 419.2 L373.63 416.5 L373.76 417.3 L373.88 417.2 L374.01 418.3 L374.13 417.3 L374.26 418.7 L374.38 418.3 L374.51 418.1 L374.63 419.0 L374.76 419.3 L374.88 417.8 L375.01 419.2 L375.13 419.3 L375.26 421.9 L375.38 420.5 L375.51 420.2 L375.63 420.4 L375.76 417.5 L375.88 417.3 L376.01 421.3 L376.13 418.2 L376.26 418.5 L376.38 419.0 L376.51 420.1 L376.63 421.0 L376.76 420.7 L376.88 421.6 L377.01 420.6 L377.13 423.2 L377.26 423.6 L377.38 420.7 L377.51 421.9 L377.63 421.9 L377.76 424.9 L377.88 424.3 L378.01 424.4 L378.13 425.9 L378.26 426.3 L378.38 424.5 L378.51 425.3 L378.63 425.8 L378.76 425.9 L378.88 425.3 L379.01 426.8 L379.13 425.3 L379.26 422.9 L379.38 422.6 L379.51 423.0 L379.63 420.5 L379.76 419.7 L379.88 420.9 L380.01 420.2 L380.13 417.1 L380.26 418.3 L380.38 418.9 L380.51 418.6 L380.63 421.6 L380.76 422.8 L380.88 422.6 L381.01 423.3 L381.13 423.1 L381.26 424.3 L381.38 423.2 L381.51 423.0 L381.63 424.6 L381.76 426.9 L381.88 427.8 L382.01 427.6 L382.13 429.1 L382.26 429.1 L382.38 430.1 L382.51 431.5 L382.63 432.1 L382.76 433.2 L382.88 437.5 L383.01 432.5 L383.13 436.9 L383.26 436.6 L383.38 440.0 L383.51 442.3 L383.63 442.8 L383.76 443.6 L383.88 441.5 L384.01 440.1 L384.13 437.6 L384.26 434.0 L384.38 438.2 L384.51 440.4 L384.63 437.7 L384.76 435.6 L384.88 432.7 L385.01 434.3 L385.13 434.4 L385.26 434.6 L385.38 433.2 L385.51 432.5 L385.63 436.7 L385.76 434.2 L385.88 437.7 L386.01 436.8 L386.13 435.1 L386.26 437.5 L386.38 438.4 L386.51 440.1 L386.63 440.9 L386.76 437.1 L386.88 441.9 L387.01 441.9 L387.13 443.4 L387.26 444.5 L387.38 443.3 L387.51 442.5 L387.63 440.8 L387.76 440.4 L387.88 437.6 L388.01 438.6 L388.13 438.9 L388.26 437.3 L388.38 434.2 L388.51 434.0 L388.63 434.6 L388.76 432.9 L388.88 430.9 L389.01 429.7 L389.13 431.6 L389.26 430.9 L389.38 429.3 L389.51 426.9 L389.63 427.8 L389.76 428.2 L389.88 430.7 L390.01 429.5 L390.13 430.5 L390.26 428.5 L390.38 430.4 L390.51 427.9 L390.63 432.0 L390.76 430.8 L390.88 430.7 L391.01 433.5 L391.13 432.4 L391.26 430.2 L391.38 431.3 L391.51 432.7 L391.63 434.4 L391.76 435.4 L391.88 434.6 L392.01 434.3 L392.13 430.5 L392.26 430.4 L392.38 430.1 L392.51 430.9 L392.63 430.0 L392.76 431.3 L392.88 431.7 L393.01 432.8 L393.13 430.2 L393.26 429.2 L393.38 427.9 L393.51 427.2 L393.63 427.1 L393.76 426.8 L393.88 424.7 L394.01 424.3 L394.13 428.7 L394.26 426.0 L394.38 424.0 L394.51 424.5 L394.63 426.2 L394.76 425.7 L394.88 425.4 L395.01 422.1 L395.13 423.5 L395.26 421.2 L395.38 423.2 L395.51 424.6 L395.63 423.6 L395.76 422.1 L395.88 421.7 L396.01 421.7 L396.13 421.6 L396.26 421.0 L396.38 420.8 L396.51 420.5 L396.63 419.5 L396.76 416.9 L396.88 421.8 L397.01 418.5 L397.13 421.5 L397.26 415.0 L397.38 416.9 L397.51 416.1 L397.63 416.7 L397.76 417.5 L397.88 417.2 L398.01 417.0 L398.13 416.0 L398.26 415.7 L398.38 415.0 L398.51 414.7 L398.63 414.9 L398.76 414.9 L398.88 415.4 L399.01 414.2 L399.13 414.7 L399.26 415.6 L399.38 414.7 L399.51 417.0 L399.63 412.8 L399.76 415.1 L399.88 414.6 L400.01 416.0 L400.13 415.2 L400.26 415.1 L400.38 414.6 L400.51 414.5 L400.63 414.9 L400.76 414.8 L400.88 414.9 L401.01 415.3 L401.13 412.4 L401.26 414.0 L401.38 414.5 L401.51 411.8 L401.63 414.3 L401.76 415.4 L401.88 413.7 L402.01 412.9 L402.13 411.5 L402.26 412.3 L402.38 410.8 L402.51 409.7 L402.63 410.4 L402.76 410.7 L402.88 409.4 L403.01 409.4 L403.13 411.0 L403.26 410.2 L403.38 408.5 L403.51 409.7 L403.63 410.6 L403.76 408.3 L403.88 411.0 L404.01 413.2 L404.13 412.3 L404.26 410.9 L404.38 410.4 L404.51 412.0 L404.63 412.9 L404.76 413.4 L404.88 413.0 L405.01 412.9 L405.13 412.7 L405.26 413.6 L405.38 414.5 L405.51 416.6 L405.63 414.7 L405.76 416.1 L405.88 416.1 L406.01 416.0 L406.13 415.2 L406.26 415.4 L406.38 417.2 L406.51 416.2 L406.63 418.3 L406.76 418.6 L406.88 421.0 L407.01 420.1 L407.13 419.9 L407.26 419.8 L407.38 419.2 L407.51 420.0 L407.63 420.4 L407.76 420.7 L407.88 418.9 L408.01 420.6 L408.13 421.7 L408.26 420.3 L408.38 419.8 L408.51 419.2 L408.63 419.5 L408.76 420.7 L408.88 419.0 L409.01 420.0 L409.13 417.0 L409.26 418.5 L409.38 418.6 L409.51 416.3 L409.63 417.5 L409.76 415.9 L409.88 417.8 L410.01 416.4 L410.13 415.3 L410.26 415.2 L410.38 415.9 L410.51 415.6 L410.63 416.3 L410.76 414.8 L410.88 415.1 L411.01 414.2 L411.13 416.3 L411.26 417.1 L411.38 414.6 L411.51 413.1 L411.63 413.8 L411.76 414.4 L411.88 413.2 L412.01 413.8 L412.13 413.1 L412.26 413.2 L412.38 413.5 L412.51 414.4 L412.63 412.9 L412.76 413.1 L412.88 414.1 L413.01 414.1 L413.13 414.0 L413.26 412.2 L413.38 413.6 L413.51 412.2 L413.63 413.5 L413.76 412.6 L413.88 413.2 L414.01 411.3 L414.13 410.7 L414.26 411.7 L414.38 411.2 L414.51 411.9 L414.63 411.3 L414.76 411.8 L414.88 410.4 L415.01 411.3 L415.13 410.1 L415.26 409.3 L415.38 409.4 L415.51 407.8 L415.63 408.8 L415.76 408.6 L415.88 406.1 L416.01 408.4 L416.13 406.6 L416.26 406.2 L416.38 406.8 L416.51 406.2 L416.63 406.6 L416.76 406.4 L416.88 405.4 L417.01 406.7 L417.13 406.4 L417.26 404.8 L417.38 406.3 L417.51 407.0 L417.63 403.5 L417.76 405.5 L417.88 405.3 L418.01 404.8 L418.13 405.5 L418.26 405.7 L418.38 405.8 L418.51 405.3 L418.63 406.7 L418.76 403.2 L418.88 408.0 L419.01 405.9 L419.13 407.0 L419.26 404.4 L419.38 406.5 L419.51 406.9 L419.63 407.4 L419.76 407.9 L419.88 407.8 L420.01 410.1 L420.13 409.6 L420.26 408.1 L420.38 409.5 L420.51 407.5 L420.63 410.2 L420.76 411.6 L420.88 411.8 L421.01 413.1 L421.13 409.3 L421.26 412.0 L421.38 413.5 L421.51 412.8 L421.63 414.8 L421.76 415.3 L421.88 414.6 L422.01 414.2 L422.13 414.6 L422.26 414.1 L422.38 412.8 L422.51 412.3 L422.63 411.8 L422.76 412.3 L422.88 410.0 L423.01 408.5 L423.13 411.6 L423.26 410.7 L423.38 408.9 L423.51 410.4 L423.63 409.2 L423.76 407.4 L423.88 408.4 L424.01 408.5 L424.13 408.2 L424.26 406.6 L424.38 406.5 L424.51 405.9 L424.63 405.9 L424.76 405.0 L424.88 405.6 L425.01 406.6 L425.13 402.3 L425.26 403.9 L425.38 405.1 L425.51 406.2 L425.63 402.0 L425.76 404.8 L425.88 403.0 L426.01 402.9 L426.13 402.0 L426.26 401.4 L426.38 401.6 L426.51 401.6 L426.63 401.0 L426.76 400.9 L426.88 400.9 L427.01 401.4 L427.13 398.4 L427.26 400.0 L427.38 399.6 L427.51 399.6 L427.63 401.2 L427.76 399.7 L427.88 399.3 L428.01 398.3 L428.13 397.3 L428.26 396.4 L428.38 396.9 L428.51 396.8 L428.63 396.0 L428.76 397.3 L428.88 397.3 L429.01 397.1 L429.13 397.7 L429.26 396.4 L429.38 395.6 L429.51 396.3 L429.63 394.9 L429.76 395.1 L429.88 396.5 L430.01 396.9 L430.13 395.8 L430.26 396.1 L430.38 395.0 L430.51 394.5 L430.63 396.9 L430.76 394.3 L430.88 392.2 L431.01 394.9 L431.13 394.9 L431.26 393.5 L431.38 392.4 L431.51 391.5 L431.63 391.7 L431.76 392.0 L431.88 391.7 L432.01 392.7 L432.13 390.9 L432.26 390.9 L432.38 389.2 L432.51 391.9 L432.63 393.0 L432.76 392.9 L432.88 390.1 L433.01 391.1 L433.13 390.1 L433.26 391.0 L433.38 390.5 L433.51 389.8 L433.63 389.5 L433.76 389.2 L433.88 389.8 L434.01 390.3 L434.13 390.0 L434.26 390.6 L434.38 391.9 L434.51 389.7 L434.63 389.4 L434.76 388.7 L434.88 391.3 L435.01 392.4 L435.13 392.2 L435.26 391.3 L435.38 390.4 L435.51 392.0 L435.63 390.9 L435.76 389.6 L435.88 389.7 L436.01 389.6 L436.13 387.7 L436.26 388.2 L436.38 387.3 L436.51 386.8 L436.63 386.0 L436.76 385.8 L436.88 384.2 L437.01 384.0 L437.13 384.2 L437.26 383.8 L437.38 384.1 L437.51 383.6 L437.63 384.9 L437.76 385.2 L437.88 382.7 L438.01 382.6 L438.13 380.0 L438.26 382.8 L438.38 381.4 L438.51 382.1 L438.63 382.9 L438.76 380.8 L438.88 381.7 L439.01 381.6 L439.13 381.9 L439.26 381.7 L439.38 382.8 L439.51 385.1 L439.63 384.4 L439.76 383.9 L439.88 383.1 L440.01 385.7 L440.13 385.4 L440.26 383.8 L440.38 385.8 L440.51 386.9 L440.63 386.7 L440.76 387.6 L440.88 387.6 L441.01 386.6 L441.13 386.5 L441.26 386.2 L441.38 386.8 L441.51 385.3 L441.63 384.9 L441.76 383.0 L441.88 382.7 L442.01 384.2 L442.13 382.6 L442.26 382.7 L442.38 382.2 L442.51 381.0 L442.63 379.1 L442.76 379.6 L442.88 379.0 L443.01 378.9 L443.13 377.6 L443.26 378.8 L443.38 379.5 L443.51 377.7 L443.63 377.1 L443.76 376.2 L443.88 375.9 L444.01 375.2 L444.13 375.1 L444.26 375.6 L444.38 375.9 L444.51 375.3 L444.63 375.8 L444.76 375.4 L444.88 374.8 L445.01 376.0 L445.13 376.1 L445.26 378.0 L445.38 375.4 L445.51 377.3 L445.63 379.0 L445.76 377.9 L445.88 377.9 L446.01 379.2 L446.13 380.1 L446.26 379.5 L446.38 379.7 L446.51 379.5 L446.63 380.3 L446.76 379.0 L446.88 379.4 L447.01 379.1 L447.13 376.0 L447.26 377.0 L447.38 375.3 L447.51 379.0 L447.63 375.9 L447.76 373.6 L447.88 375.8 L448.01 373.9 L448.13 375.7 L448.26 373.5 L448.38 372.5 L448.51 372.6 L448.63 372.3 L448.76 372.9 L448.88 372.7 L449.01 373.1 L449.13 374.6 L449.26 371.7 L449.38 374.5 L449.51 373.6 L449.63 375.8 L449.76 376.8 L449.88 374.6 L450.01 373.3 L450.13 373.9 L450.26 375.8 L450.38 375.5 L450.51 375.6 L450.63 374.8 L450.76 374.2 L450.88 373.9 L451.01 373.7 L451.13 374.2 L451.26 371.8 L451.38 373.5 L451.51 371.2 L451.63 371.4 L451.76 371.9 L451.88 368.4 L452.01 369.2 L452.13 367.2 L452.26 369.4 L452.38 369.2 L452.51 369.0 L452.63 367.1 L452.76 366.7 L452.88 367.5 L453.01 365.6 L453.13 366.6 L453.26 366.9 L453.38 365.9 L453.51 367.7 L453.63 367.6 L453.76 365.1 L453.88 366.9 L454.01 365.2 L454.13 364.4 L454.26 366.9 L454.38 365.8 L454.51 365.5 L454.63 364.1 L454.76 363.6 L454.88 364.6 L455.01 364.1 L455.13 363.5 L455.26 363.8 L455.38 362.6 L455.51 362.6 L455.63 362.7 L455.76 363.9 L455.88 364.9 L456.01 361.7 L456.13 358.7 L456.26 359.2 L456.38 360.2 L456.51 361.2 L456.63 358.5 L456.76 362.3 L456.88 360.8 L457.01 360.2 L457.13 360.9 L457.26 359.6 L457.38 359.0 L457.51 358.6 L457.63 358.4 L457.76 358.4 L457.88 359.1 L458.01 358.4 L458.13 359.9 L458.26 360.9 L458.38 360.3 L458.51 361.4 L458.63 360.0 L458.76 364.2 L458.88 360.5 L459.01 361.3 L459.13 364.0 L459.26 364.7 L459.38 363.4 L459.51 363.8 L459.63 364.0 L459.76 366.5 L459.88 365.5 L460.01 364.6 L460.13 363.4 L460.26 363.3 L460.38 362.8 L460.51 361.7 L460.63 363.4 L460.76 360.7 L460.88 360.6 L461.01 359.7 L461.13 358.2 L461.26 358.8 L461.38 358.6 L461.51 361.1 L461.63 358.7 L461.76 358.6 L461.88 357.3 L462.01 357.1 L462.13 357.4 L462.26 356.7 L462.38 356.5 L462.51 356.5 L462.63 355.6 L462.76 357.4 L462.88 358.0 L463.01 356.7 L463.13 357.3 L463.26 356.1 L463.38 355.7 L463.51 354.0 L463.63 353.0 L463.76 355.2 L463.88 353.8 L464.01 352.5 L464.13 354.4 L464.26 353.1 L464.38 352.6 L464.51 353.4 L464.63 353.4 L464.76 351.9 L464.88 352.5 L465.01 354.4 L465.13 352.4 L465.26 353.3 L465.38 354.0 L465.51 353.6 L465.63 353.9 L465.76 351.6 L465.88 354.0 L466.01 353.5 L466.13 355.4 L466.26 356.8 L466.38 355.9 L466.51 356.1 L466.63 355.0 L466.76 354.6 L466.88 353.7 L467.01 354.2 L467.13 353.7 L467.26 355.9 L467.38 354.2 L467.51 352.6 L467.63 352.7 L467.76 353.9 L467.88 355.8 L468.01 352.0 L468.13 352.5 L468.26 352.0 L468.38 353.4 L468.51 353.0 L468.63 352.4 L468.76 352.9 L468.88 351.2 L469.01 350.4 L469.13 350.5 L469.26 351.1 L469.38 348.7 L469.51 349.9 L469.63 350.5 L469.76 348.2 L469.88 347.9 L470.01 349.4 L470.13 349.4 L470.26 349.5 L470.38 348.8 L470.51 349.3 L470.63 347.4 L470.76 347.2 L470.88 347.3 L471.01 345.9 L471.13 345.7 L471.26 345.8 L471.38 345.6 L471.51 346.1 L471.63 346.9 L471.76 346.5 L471.88 347.9 L472.01 348.1 L472.13 345.4 L472.26 341.7 L472.38 347.3 L472.51 344.9 L472.63 342.1 L472.76 342.3 L472.88 344.0 L473.01 342.5 L473.13 342.7 L473.26 342.9 L473.38 344.1 L473.51 342.8 L473.63 343.0 L473.76 344.8 L473.88 345.0 L474.01 346.3 L474.13 346.4 L474.26 345.0 L474.38 347.7 L474.51 349.2 L474.63 347.0 L474.76 347.7 L474.88 346.2 L475.01 347.9 L475.13 347.4 L475.26 345.9 L475.38 346.8 L475.51 348.4 L475.63 347.4 L475.76 344.5 L475.88 344.4 L476.01 344.0 L476.13 344.0 L476.26 345.6 L476.38 344.7 L476.51 344.5 L476.63 343.1 L476.76 343.6 L476.88 342.6 L477.01 340.3 L477.13 343.3 L477.26 343.7 L477.38 342.3 L477.51 341.5 L477.63 339.5 L477.76 339.3 L477.88 340.2 L478.01 340.8 L478.13 342.3 L478.26 340.9 L478.38 342.7 L478.51 343.1 L478.63 344.6 L478.76 342.4 L478.88 343.5 L479.01 344.3 L479.13 344.4 L479.26 343.7 L479.38 344.0 L479.51 344.3 L479.63 345.7 L479.76 346.9 L479.88 347.9 L480.01 348.5 L480.13 347.9 L480.26 347.9 L480.38 347.1 L480.51 349.1 L480.63 351.6 L480.76 352.3 L480.88 353.8 L481.01 353.0 L481.13 354.4 L481.26 354.6 L481.38 353.5 L481.51 352.1 L481.63 352.4 L481.76 347.1 L481.88 347.0 L482.01 347.5 L482.13 347.8 L482.26 345.1 L482.38 344.6 L482.51 341.3 L482.63 341.6 L482.76 340.6 L482.88 341.2 L483.01 339.8 L483.13 341.7 L483.26 341.0 L483.38 337.8 L483.51 339.1 L483.63 339.1 L483.76 335.3 L483.88 334.5 L484.01 337.7 L484.13 335.4 L484.26 336.9 L484.38 335.6 L484.51 333.4 L484.63 334.9 L484.76 334.3 L484.88 334.7 L485.01 335.3 L485.13 334.2 L485.26 336.5 L485.38 337.6 L485.51 338.2 L485.63 339.8 L485.76 340.3 L485.88 338.0 L486.01 339.2 L486.13 338.7 L486.26 338.2 L486.38 339.7 L486.51 339.4 L486.63 340.8 L486.76 340.4 L486.88 339.3 L487.01 337.7 L487.13 339.3 L487.26 338.3 L487.38 334.1 L487.51 337.1 L487.63 335.4 L487.76 332.6 L487.88 332.6 L488.01 330.4 L488.13 329.8 L488.26 329.7 L488.38 330.0 L488.51 333.1 L488.63 333.2 L488.76 332.7 L488.88 335.9 L489.01 334.3 L489.13 330.9 L489.26 332.3 L489.38 334.2 L489.51 336.5 L489.63 337.0 L489.76 335.6 L489.88 335.1 L490.01 337.1 L490.13 336.0 L490.26 336.7 L490.38 336.2 L490.51 333.4 L490.63 336.6 L490.76 333.1 L490.88 333.9 L491.01 335.2 L491.13 331.1 L491.26 332.9 L491.38 331.9 L491.51 329.4 L491.63 329.4 L491.76 329.9 L491.88 327.8 L492.01 328.4 L492.13 328.3 L492.26 328.8 L492.38 328.5 L492.51 327.5 L492.63 329.8 L492.76 327.8 L492.88 329.6 L493.01 327.8 L493.13 328.8 L493.26 329.2 L493.38 329.9 L493.51 326.8 L493.63 327.8 L493.76 328.1 L493.88 327.0 L494.01 326.9 L494.13 328.4 L494.26 327.6 L494.38 327.1 L494.51 326.7 L494.63 327.2 L494.76 327.4 L494.88 325.9 L495.01 325.7 L495.13 326.0 L495.26 327.3 L495.38 326.3 L495.51 328.8 L495.63 328.0 L495.76 328.5 L495.88 328.3 L496.01 327.6 L496.13 326.0 L496.26 325.5 L496.38 326.5 L496.51 326.8 L496.63 326.8 L496.76 327.7 L496.88 326.1 L497.01 325.8 L497.13 324.9 L497.26 323.7 L497.38 325.1 L497.51 325.2 L497.63 327.3 L497.76 328.0 L497.88 326.6 L498.01 326.3 L498.13 325.8 L498.26 326.2 L498.38 326.7 L498.51 326.5 L498.63 324.5 L498.76 321.7 L498.88 321.1 L499.01 324.8 L499.13 325.4 L499.26 324.8 L499.38 323.7 L499.51 324.4 L499.63 324.0 L499.76 324.2 L499.88 323.4 L500.01 321.9 L500.13 324.2 L500.26 324.0 L500.38 321.4 L500.51 324.5 L500.63 322.8 L500.76 321.6 L500.88 325.2 L501.01 322.1 L501.13 324.7 L501.26 322.9 L501.38 324.8 L501.51 323.8 L501.63 324.9 L501.76 324.7 L501.88 324.3 L502.01 322.6 L502.13 323.1 L502.26 323.7 L502.38 323.0 L502.51 324.4 L502.63 324.9 L502.76 325.9 L502.88 325.2 L503.01 325.0 L503.13 323.7 L503.26 325.1 L503.38 326.5 L503.51 327.3 L503.63 325.8 L503.76 327.4 L503.88 325.5 L504.01 327.8 L504.13 328.0 L504.26 326.4 L504.38 329.0 L504.51 328.8 L504.63 328.2 L504.76 328.4 L504.88 328.7 L505.01 329.1 L505.13 330.0 L505.26 331.0 L505.38 329.7 L505.51 328.0 L505.63 323.2 L505.76 325.1 L505.88 326.8 L506.01 328.8 L506.13 326.4 L506.26 327.4 L506.38 325.9 L506.51 327.1 L506.63 325.6 L506.76 328.6 L506.88 330.1 L507.01 334.3 L507.13 335.4 L507.26 337.9 L507.38 339.0 L507.51 341.3 L507.63 344.6 L507.76 343.4 L507.88 348.1 L508.01 349.7 L508.13 350.3 L508.26 348.2 L508.38 345.6 L508.51 345.7 L508.63 345.7 L508.76 344.5 L508.88 342.4 L509.01 345.1 L509.13 342.5 L509.26 341.4 L509.38 343.3 L509.51 343.1 L509.63 344.6 L509.76 344.3 L509.88 346.7 L510.01 345.6 L510.13 347.6 L510.26 348.5 L510.38 347.4 L510.51 347.8 L510.63 348.4 L510.76 348.0 L510.88 348.6 L511.01 345.6 L511.13 344.5 L511.26 343.4 L511.38 341.0 L511.51 344.8 L511.63 338.6 L511.76 338.3 L511.88 333.4 L512.01 335.3 L512.13 336.5 L512.26 335.0 L512.38 333.2 L512.51 333.0 L512.63 331.7 L512.76 334.3 L512.88 332.1 L513.01 332.6 L513.13 329.9 L513.26 332.5 L513.38 327.2 L513.51 331.4 L513.63 329.9 L513.76 326.4 L513.88 326.9 L514.01 328.2 L514.13 329.8 L514.26 327.5 L514.38 327.6 L514.51 327.8 L514.63 327.0 L514.76 326.6 L514.88 325.6 L515.01 326.5 L515.13 323.6 L515.26 326.1 L515.38 327.4 L515.51 329.1 L515.63 325.6 L515.76 323.7 L515.88 326.5 L516.01 328.9 L516.13 330.7 L516.26 330.4 L516.38 329.7 L516.51 328.7 L516.63 329.5 L516.76 333.6 L516.88 331.8 L517.01 331.9 L517.13 333.3 L517.26 335.5 L517.38 329.5 L517.51 330.7 L517.63 335.0 L517.76 334.3 L517.88 333.1 L518.01 333.8 L518.13 336.8 L518.26 335.5 L518.38 335.0 L518.51 337.9 L518.63 339.9 L518.76 340.2 L518.88 340.4 L519.01 343.8 L519.13 344.0 L519.26 340.7 L519.38 343.9 L519.51 339.8 L519.63 342.9 L519.76 342.6 L519.88 347.3 L520.01 346.5 L520.13 347.0 L520.26 348.2 L520.38 349.9 L520.51 348.0 L520.63 350.8 L520.76 351.9 L520.88 355.2 L521.01 356.1 L521.13 353.6 L521.26 352.0 L521.38 353.9 L521.51 354.4 L521.63 356.8 L521.76 356.2 L521.88 357.0 L522.01 357.2 L522.13 356.5 L522.26 355.8 L522.38 352.9 L522.51 352.9 L522.63 350.2 L522.76 352.1 L522.88 348.2 L523.01 347.5 L523.13 348.6 L523.26 348.9 L523.38 346.2 L523.51 346.3 L523.63 346.8 L523.76 343.9 L523.88 342.1 L524.01 346.6 L524.13 345.7 L524.26 341.1 L524.38 342.9 L524.51 338.4 L524.63 338.6 L524.76 341.5 L524.88 338.6 L525.01 338.2 L525.13 338.2 L525.26 337.8 L525.38 335.9 L525.51 335.3 L525.63 336.6 L525.76 337.3 L525.88 336.3 L526.01 335.4 L526.13 332.4 L526.26 331.6 L526.38 330.9 L526.51 331.0 L526.63 327.5 L526.76 327.5 L526.88 331.8 L527.01 331.0 L527.13 330.0 L527.26 330.4 L527.38 330.1 L527.51 329.7 L527.63 331.0 L527.76 331.3 L527.88 331.2 L528.01 328.3 L528.13 330.4 L528.26 329.9 L528.38 331.0 L528.51 327.5 L528.63 328.6 L528.76 330.6 L528.88 329.5 L529.01 331.3 L529.13 330.3 L529.26 328.9 L529.38 328.0 L529.51 329.8 L529.63 329.4 L529.76 331.1 L529.88 327.2 L530.01 328.3 L530.13 332.0 L530.26 330.8 L530.38 330.0 L530.51 330.1 L530.63 329.9 L530.76 330.9 L530.88 329.3 L531.01 330.3 L531.13 331.6 L531.26 330.4 L531.38 329.3 L531.51 328.5 L531.63 329.3 L531.76 327.1 L531.88 326.5 L532.01 325.0 L532.13 324.3 L532.26 325.3 L532.38 324.6 L532.51 325.3 L532.63 325.9 L532.76 327.2 L532.88 327.7 L533.01 328.9 L533.13 329.8 L533.26 330.9 L533.38 332.6 L533.51 333.5 L533.63 336.1 L533.76 335.6 L533.88 335.0 L534.01 333.8 L534.13 331.9 L534.26 331.9 L534.38 329.9 L534.51 326.1 L534.63 326.3 L534.76 324.0 L534.88 324.6 L535.01 321.4 L535.13 320.4 L535.26 319.5 L535.38 319.0 L535.51 318.9 L535.63 319.3 L535.76 319.8 L535.88 321.8 L536.01 320.7 L536.13 318.7 L536.26 319.6 L536.38 319.3 L536.51 316.6 L536.63 317.3 L536.76 317.2 L536.88 317.0 L537.01 317.0 L537.13 317.0 L537.26 317.3 L537.38 315.3 L537.51 314.2 L537.63 314.2 L537.76 315.7 L537.88 315.2 L538.01 313.3 L538.13 312.8 L538.26 314.3 L538.38 316.3 L538.51 315.1 L538.63 314.7 L538.76 314.7 L538.88 315.5 L539.01 317.6 L539.13 314.6 L539.26 314.1 L539.38 314.9 L539.51 315.6 L539.63 315.3 L539.76 315.9 L539.88 315.1 L540.01 315.8 L540.13 315.0 L540.26 317.3 L540.38 317.9 L540.51 313.6 L540.63 317.8 L540.76 316.6 L540.88 319.1 L541.01 316.8 L541.13 317.6 L541.26 319.1 L541.38 318.7 L541.51 319.2 L541.63 319.0 L541.76 319.0 L541.88 318.1 L542.01 317.7 L542.13 316.6 L542.26 319.0 L542.38 320.7 L542.51 318.1 L542.63 316.7 L542.76 317.5 L542.88 316.1 L543.01 316.1 L543.13 316.2 L543.26 316.5 L543.38 316.1 L543.51 317.0 L543.63 318.6 L543.76 318.7 L543.88 319.0 L544.01 319.6 L544.13 318.6 L544.26 321.2 L544.38 323.2 L544.51 321.1 L544.63 323.9 L544.76 323.7 L544.88 323.3 L545.01 323.4 L545.13 322.0 L545.26 320.2 L545.38 320.7 L545.51 316.5 L545.63 316.1 L545.76 312.2 L545.88 312.9 L546.01 311.1 L546.13 308.8 L546.26 307.1 L546.38 306.3 L546.51 306.6 L546.63 306.1 L546.76 307.9 L546.88 306.4 L547.01 306.0 L547.13 303.4 L547.26 304.5 L547.38 301.6 L547.51 302.4 L547.63 303.7 L547.76 302.9 L547.88 306.4 L548.01 304.6 L548.13 303.6 L548.26 304.4 L548.38 302.3 L548.51 303.8 L548.63 302.9 L548.76 302.2 L548.88 301.9 L549.01 301.5 L549.13 301.2 L549.26 301.7 L549.38 301.6 L549.51 301.9 L549.63 299.3 L549.76 299.3 L549.88 300.0 L550.01 298.3 L550.13 298.7 L550.26 299.6 L550.38 299.2 L550.51 297.3 L550.63 300.5 L550.76 299.6 L550.88 297.8 L551.01 298.4 L551.13 299.3 L551.26 299.4 L551.38 298.2 L551.51 298.0 L551.63 297.8 L551.76 297.8 L551.88 296.4 L552.01 297.4 L552.13 297.0 L552.26 294.1 L552.38 297.0 L552.51 297.9 L552.63 294.6 L552.76 293.9 L552.88 292.3 L553.01 292.4 L553.13 289.8 L553.26 288.6 L553.38 293.2 L553.51 290.3 L553.63 289.7 L553.76 291.1 L553.88 290.6 L554.01 289.9 L554.13 288.3 L554.26 288.3 L554.38 288.9 L554.51 287.3 L554.63 286.8 L554.76 287.1 L554.88 289.3 L555.01 290.0 L555.13 291.0 L555.26 290.7 L555.38 291.0 L555.51 291.8 L555.63 293.8 L555.76 294.1 L555.88 292.6 L556.01 291.3 L556.13 293.7 L556.26 292.5 L556.38 292.3 L556.51 291.7 L556.63 291.8 L556.76 292.2 L556.88 292.2 L557.01 291.7 L557.13 293.9 L557.26 293.2 L557.38 293.0 L557.51 292.5 L557.63 289.9 L557.76 291.3 L557.88 290.6 L558.01 289.7 L558.13 290.8 L558.26 290.6 L558.38 289.0 L558.51 289.4 L558.63 287.3 L558.76 288.0 L558.88 289.8 L559.01 289.8 L559.13 288.7 L559.26 288.1 L559.38 288.2 L559.51 288.1 L559.63 288.3 L559.76 288.3 L559.88 287.0 L560.01 287.8 L560.13 286.9 L560.26 285.2 L560.38 286.3 L560.51 288.7 L560.63 284.1 L560.76 284.4 L560.88 284.1 L561.01 284.1 L561.13 286.2 L561.26 284.2 L561.38 287.4 L561.51 283.6 L561.63 283.0 L561.76 283.6 L561.88 286.1 L562.01 285.0 L562.13 284.4 L562.26 281.6 L562.38 282.7 L562.51 282.6 L562.63 282.9 L562.76 284.2 L562.88 282.8 L563.01 285.9 L563.13 282.9 L563.26 283.9 L563.38 282.8 L563.51 285.7 L563.63 284.6 L563.76 283.6 L563.88 282.7 L564.01 282.5 L564.13 284.2 L564.26 284.6 L564.38 284.8 L564.51 285.0 L564.63 284.7 L564.76 283.3 L564.88 283.3 L565.01 282.5 L565.13 282.4 L565.26 279.6 L565.38 280.2 L565.51 282.2 L565.63 282.2 L565.76 282.5 L565.88 280.3 L566.01 283.3 L566.13 279.5 L566.26 278.4 L566.38 280.4 L566.51 280.3 L566.63 278.8 L566.76 278.6 L566.88 277.4 L567.01 278.4 L567.13 277.6 L567.26 278.6 L567.38 276.9 L567.51 277.3 L567.63 278.6 L567.76 278.4 L567.88 277.3 L568.01 278.4 L568.13 280.5 L568.26 278.8 L568.38 279.0 L568.51 278.1 L568.63 279.3 L568.76 280.3 L568.88 280.5 L569.01 280.7 L569.13 280.9 L569.26 280.8 L569.38 279.4 L569.51 278.1 L569.63 278.2 L569.76 279.2 L569.88 276.2 L570.01 277.4 L570.13 277.4 L570.26 276.7 L570.38 274.6 L570.51 272.9 L570.63 273.8 L570.76 275.3 L570.88 272.4 L571.01 270.5 L571.13 271.7 L571.26 269.9 L571.38 270.8 L571.51 271.6 L571.63 270.7 L571.76 270.4 L571.88 268.9 L572.01 266.8 L572.13 267.8 L572.26 268.4 L572.38 269.0 L572.51 269.5 L572.63 267.5 L572.76 267.2 L572.88 266.7 L573.01 269.6 L573.13 266.9 L573.26 266.3 L573.38 265.2 L573.51 266.1 L573.63 265.1 L573.76 266.5 L573.88 266.8 L574.01 264.5 L574.13 265.4 L574.26 263.3 L574.38 263.7 L574.51 266.4 L574.63 265.2 L574.76 264.6 L574.88 264.2 L575.01 265.8 L575.13 265.4 L575.26 266.6 L575.38 264.4 L575.51 262.5 L575.63 264.0 L575.76 261.9 L575.88 262.8 L576.01 261.7 L576.13 262.1 L576.26 261.2 L576.38 261.7 L576.51 263.5 L576.63 262.2 L576.76 261.7 L576.88 259.9 L577.01 261.7 L577.13 260.2 L577.26 261.2 L577.38 257.7 L577.51 257.8 L577.63 257.5 L577.76 258.4 L577.88 258.4 L578.01 256.9 L578.13 255.3 L578.26 255.2 L578.38 253.1 L578.51 253.3 L578.63 253.7 L578.76 252.9 L578.88 252.9 L579.01 253.3 L579.13 253.0 L579.26 252.2 L579.38 248.7 L579.51 251.8 L579.63 246.2 L579.76 246.3 L579.88 244.3 L580.01 244.7 L580.13 244.9 L580.26 246.1 L580.38 246.8 L580.51 242.9 L580.63 245.8 L580.76 243.1 L580.88 242.2 L581.01 241.6 L581.13 241.4 L581.26 242.8 L581.38 241.4 L581.51 242.1 L581.63 237.9 L581.76 237.7 L581.88 237.2 L582.01 233.3 L582.13 232.5 L582.26 231.5 L582.38 231.3 L582.51 229.8 L582.63 230.5 L582.76 234.4 L582.88 237.4 L583.01 239.2 L583.13 243.9 L583.26 248.2 L583.38 249.2 L583.51 249.1 L583.63 255.7 L583.76 259.9 L583.88 260.9 L584.01 259.7 L584.13 258.8 L584.26 254.1 L584.38 248.0 L584.51 246.1 L584.63 247.1 L584.76 248.2 L584.88 244.6 L585.01 242.4 L585.13 242.0 L585.26 240.2 L585.38 241.1 L585.51 240.0 L585.63 240.4 L585.76 239.5 L585.88 242.8 L586.01 244.2 L586.13 244.8 L586.26 247.0 L586.38 250.9 L586.51 247.3 L586.63 249.2 L586.76 252.8 L586.88 258.0 L587.01 256.2 L587.13 255.6 L587.26 255.6 L587.38 258.2 L587.51 259.8 L587.63 256.9 L587.76 258.6 L587.88 259.2 L588.01 257.6 L588.13 256.9 L588.26 258.1 L588.38 256.6 L588.51 253.5 L588.63 253.8 L588.76 254.4 L588.88 256.9 L589.01 251.7 L589.13 252.5 L589.26 250.5 L589.38 249.8 L589.51 249.4 L589.63 252.2 L589.76 249.7 L589.88 251.0 L590.01 247.8 L590.13 248.9 L590.26 250.1 L590.38 248.6 L590.51 248.3 L590.63 247.4 L590.76 246.2 L590.88 245.6 L591.01 246.3 L591.13 249.2 L591.26 250.2 L591.38 250.6 L591.51 246.6 L591.63 244.5 L591.76 243.1 L591.88 243.1 L592.01 242.9 L592.13 242.5 L592.26 241.6 L592.38 242.5 L592.51 242.4 L592.63 242.2 L592.76 241.9 L592.88 240.6 L593.01 243.3 L593.13 242.8 L593.26 240.3 L593.38 238.8 L593.51 236.2 L593.63 234.9 L593.76 239.4 L593.88 240.8 L594.01 241.5 L594.13 240.4 L594.26 237.2 L594.38 238.8 L594.51 235.5 L594.63 235.3 L594.76 235.2 L594.88 236.8 L595.01 236.6 L595.13 237.9 L595.26 235.2 L595.38 235.0 L595.51 231.9 L595.63 233.3 L595.76 235.7 L595.88 237.1 L596.01 234.8 L596.13 233.6 L596.26 237.0 L596.38 232.6 L596.51 231.7 L596.63 234.7 L596.76 231.3 L596.88 233.1 L597.01 231.6 L597.13 233.9 L597.26 231.0 L597.38 230.6 L597.51 229.3 L597.63 230.9 L597.76 228.6 L597.88 228.8 L598.01 229.1 L598.13 227.8 L598.26 228.4 L598.38 228.1 L598.51 228.2 L598.63 226.9 L598.76 228.0 L598.88 228.4 L599.01 229.7 L599.13 223.1 L599.26 223.4 L599.38 224.1 L599.51 224.5 L599.63 225.8 L599.76 223.1 L599.88 227.3 L600.01 227.4 L600.13 229.1 L600.26 224.7 L600.38 221.7 L600.51 221.9 L600.63 225.6 L600.76 222.4 L600.88 222.3 L601.01 222.3 L601.13 221.6 L601.26 220.8 L601.38 220.5 L601.51 223.6 L601.63 225.3 L601.76 221.7 L601.88 222.9 L602.01 222.3 L602.13 221.0 L602.26 221.5 L602.38 218.2 L602.51 218.4 L602.63 219.7 L602.76 220.0 L602.88 222.9 L603.01 220.6 L603.13 219.5 L603.26 219.3 L603.38 220.7 L603.51 221.1 L603.63 221.6 L603.76 223.1 L603.88 223.2 L604.01 225.7 L604.13 226.3 L604.26 226.6 L604.38 224.8 L604.51 224.6 L604.63 231.5 L604.76 232.3 L604.88 231.6 L605.01 233.0 L605.13 236.2 L605.26 233.8 L605.38 237.5 L605.51 232.3 L605.63 234.7 L605.76 236.4 L605.88 233.9 L606.01 243.7 L606.13 239.7 L606.26 241.2 L606.38 241.3 L606.51 244.4 L606.63 243.5 L606.76 247.5 L606.88 245.0 L607.01 246.0 L607.13 247.0 L607.26 247.0 L607.38 245.4 L607.51 248.2 L607.63 252.1 L607.76 253.8 L607.88 254.5 L608.01 250.7 L608.13 252.5 L608.26 252.2 L608.38 258.4 L608.51 250.8 L608.63 252.2 L608.76 254.1 L608.88 253.0 L609.01 254.6 L609.13 256.5 L609.26 259.9 L609.38 263.3 L609.51 263.9 L609.63 266.4 L609.76 271.9 L609.88 271.2 L610.01 273.9 L610.13 270.4 L610.26 274.9 L610.38 278.1 L610.51 281.0 L610.63 283.0 L610.76 283.5 L610.88 285.2 L611.01 282.4 L611.13 279.3 L611.26 279.5 L611.38 275.7 L611.51 273.5 L611.63 268.0 L611.76 265.0 L611.88 267.1 L612.01 271.6 L612.13 262.2 L612.26 261.2 L612.38 261.3 L612.51 258.8 L612.63 257.6 L612.76 253.3 L612.88 251.8 L613.01 253.4 L613.13 252.5 L613.26 252.3 L613.38 246.5 L613.51 255.1 L613.63 250.3 L613.76 251.1 L613.88 250.5 L614.01 248.5 L614.13 248.1 L614.26 247.0 L614.38 246.1 L614.51 245.3 L614.63 243.2 L614.76 241.5 L614.88 240.8 L615.01 240.3 L615.13 241.1 L615.26 235.8 L615.38 239.8 L615.51 236.2 L615.63 238.5 L615.76 233.4 L615.88 234.1 L616.01 231.6 L616.13 231.1 L616.26 232.0 L616.38 230.3 L616.51 232.1 L616.63 230.1 L616.76 230.8 L616.88 232.7 L617.01 229.0 L617.13 228.2 L617.26 231.0 L617.38 229.8 L617.51 233.3 L617.63 232.3 L617.76 231.2 L617.88 230.5 L618.01 229.6 L618.13 226.2 L618.26 226.8 L618.38 225.4 L618.51 226.1 L618.63 226.6 L618.76 225.7 L618.88 225.4 L619.01 220.9 L619.13 221.3 L619.26 222.8 L619.38 221.5 L619.51 222.6 L619.63 222.8 L619.76 220.5 L619.88 220.2 L620.01 220.7 L620.13 219.3 L620.26 219.1 L620.38 217.6 L620.51 218.2 L620.63 218.6 L620.76 216.9 L620.88 218.8 L621.01 215.7 L621.13 216.6 L621.26 215.7 L621.38 216.8 L621.51 219.2 L621.63 218.6 L621.76 217.2 L621.88 216.4 L622.01 216.8 L622.13 218.0 L622.26 220.4 L622.38 218.9 L622.51 222.1 L622.63 223.0 L622.76 220.3 L622.88 222.3 L623.01 225.6 L623.13 225.4 L623.26 226.6 L623.38 225.6 L623.51 225.0 L623.63 225.9 L623.76 225.9 L623.88 226.0 L624.01 229.2 L624.13 230.4 L624.26 229.2 L624.38 227.9 L624.51 224.7 L624.63 228.2 L624.76 224.8 L624.88 225.1 L625.01 227.5 L625.13 222.6 L625.26 220.7 L625.38 222.5 L625.51 221.3 L625.63 218.6 L625.76 216.8 L625.88 216.8 L626.01 216.9 L626.13 213.7 L626.26 213.6 L626.38 214.5 L626.51 214.0 L626.63 211.4 L626.76 212.2 L626.88 212.8 L627.01 210.5 L627.13 210.0 L627.26 211.0 L627.38 208.8 L627.51 210.2 L627.63 209.5 L627.76 209.1 L627.88 208.5 L628.01 209.7 L628.13 208.3 L628.26 207.8 L628.38 205.7 L628.51 207.9 L628.63 207.5 L628.76 208.2 L628.88 210.8 L629.01 211.0 L629.13 213.5 L629.26 214.8 L629.38 217.1 L629.51 216.2 L629.63 219.9 L629.76 217.5 L629.88 218.3 L630.01 220.4 L630.13 222.8 L630.26 223.8 L630.38 224.9 L630.51 223.3 L630.63 223.7 L630.76 223.7 L630.88 222.8 L631.01 220.3 L631.13 220.6 L631.26 221.8 L631.38 221.5 L631.51 221.0 L631.63 217.5 L631.76 214.2 L631.88 216.9 L632.01 215.3 L632.13 215.1 L632.26 212.8 L632.38 213.3 L632.51 212.8 L632.63 212.7 L632.76 214.0 L632.88 214.1 L633.01 214.9 L633.13 214.5 L633.26 215.8 L633.38 215.2 L633.51 217.4 L633.63 213.6 L633.76 216.9 L633.88 218.0 L634.01 218.3 L634.13 217.3 L634.26 218.7 L634.38 219.7 L634.51 220.7 L634.63 221.1 L634.76 221.1 L634.88 219.6 L635.01 217.9 L635.13 216.2 L635.26 218.7 L635.38 211.4 L635.51 213.3 L635.63 210.9 L635.76 209.7 L635.88 211.1 L636.01 208.6 L636.13 208.3 L636.26 205.8 L636.38 206.7 L636.51 206.7 L636.63 204.0 L636.76 205.1 L636.88 204.1 L637.01 202.9 L637.13 200.7 L637.26 203.2 L637.38 201.8 L637.51 201.3 L637.63 200.1 L637.76 197.8 L637.88 196.8 L638.01 196.0 L638.13 196.7 L638.26 196.9 L638.38 195.9 L638.51 196.5 L638.63 194.6 L638.76 194.6 L638.88 193.7 L639.01 193.8 L639.13 193.7 L639.26 192.1 L639.38 191.3 L639.51 192.8 L639.63 193.0 L639.76 190.8 L639.88 188.6 L640.01 185.5 L640.13 183.0 L640.26 187.7 L640.38 186.2 L640.51 187.6 L640.63 184.0 L640.76 182.1 L640.88 184.8 L641.01 183.2 L641.13 180.5 L641.26 180.6 L641.38 180.8 L641.51 180.4 L641.63 178.8 L641.76 176.6 L641.88 176.7 L642.01 174.7 L642.13 174.9 L642.26 173.6 L642.38 176.2 L642.51 176.0 L642.63 176.1 L642.76 174.5 L642.88 173.6 L643.01 174.1 L643.13 174.4 L643.26 176.1 L643.38 171.0 L643.51 170.2 L643.63 169.8 L643.76 169.0 L643.88 171.6 L644.01 170.9 L644.13 170.4 L644.26 169.7 L644.38 169.2 L644.51 171.0 L644.63 164.4 L644.76 171.6 L644.88 171.7 L645.01 167.4 L645.13 166.3 L645.26 165.7 L645.38 167.0 L645.51 167.8 L645.63 170.4 L645.76 165.7 L645.88 167.1 L646.01 167.6 L646.13 165.1 L646.26 170.6 L646.38 171.8 L646.51 181.9 L646.63 187.3 L646.76 195.5 L646.88 197.6 L647.01 203.0 L647.13 210.1 L647.26 220.7 L647.38 222.2 L647.51 233.9 L647.63 242.1 L647.76 245.6 L647.88 261.4 L648.01 263.3 L648.13 270.0 L648.26 271.8 L648.38 280.4 L648.51 289.5 L648.63 297.8 L648.76 301.8 L648.88 304.6 L649.01 297.1 L649.13 290.1 L649.26 293.5 L649.38 288.6 L649.51 284.1 L649.63 281.1 L649.76 278.9 L649.88 282.1 L650.01 280.4 L650.13 277.1 L650.26 271.5 L650.38 271.6 L650.51 271.5 L650.63 264.4 L650.76 265.2 L650.88 262.0 L651.01 255.6 L651.13 258.1 L651.26 256.8 L651.38 254.5 L651.51 258.6 L651.63 260.8 L651.76 257.9 L651.88 257.6 L652.01 254.5 L652.13 253.7 L652.26 248.2 L652.38 247.6 L652.51 249.8 L652.63 243.6 L652.76 242.9 L652.88 240.5 L653.01 236.0 L653.13 229.0 L653.26 233.8 L653.38 224.9 L653.51 228.1 L653.63 227.7 L653.76 220.6 L653.88 217.8 L654.01 213.5 L654.13 213.7 L654.26 209.2 L654.38 203.7 L654.51 209.9 L654.63 209.8 L654.76 209.2 L654.88 200.7 L655.01 195.5 L655.13 196.6 L655.26 193.1 L655.38 187.7 L655.51 191.1 L655.63 185.4 L655.76 177.8 L655.88 179.3 L656.01 183.0 L656.13 181.8 L656.26 182.0 L656.38 184.6 L656.51 183.4 L656.63 177.7 L656.76 180.5 L656.88 186.3 L657.01 187.9 L657.13 186.1 L657.26 196.1 L657.38 193.4 L657.51 190.3 L657.63 185.6 L657.76 187.2 L657.88 182.8 L658.01 179.0 L658.13 186.4 L658.26 184.1 L658.38 185.0 L658.51 177.6 L658.63 180.6 L658.76 177.0 L658.88 179.2 L659.01 178.3 L659.13 176.5 L659.26 174.6 L659.38 172.9 L659.51 172.5 L659.63 167.1 L659.76 174.5 L659.88 169.0 L660.01 174.6 L660.13 170.2 L660.26 164.5 L660.38 167.0 L660.51 164.4 L660.63 159.1 L660.76 161.3 L660.88 160.7 L661.01 164.5 L661.13 160.3 L661.26 159.4 L661.38 159.2 L661.51 153.0 L661.63 153.9 L661.76 151.1 L661.88 149.4 L662.01 150.5 L662.13 144.4 L662.26 145.9 L662.38 144.0 L662.51 142.7 L662.63 140.0 L662.76 136.5 L662.88 137.4 L663.01 137.6 L663.13 137.7 L663.26 139.4 L663.38 142.0 L663.51 144.0 L663.63 146.0 L663.76 146.2 L663.88 146.4 L664.01 150.8 L664.13 157.2 L664.26 157.5 L664.38 159.3 L664.51 157.8 L664.63 160.5 L664.76 161.3 L664.88 161.1 L665.01 158.5 L665.13 161.6 L665.26 167.1 L665.38 162.9 L665.51 162.8 L665.63 157.4 L665.76 152.3 L665.88 150.6 L666.01 145.0 L666.13 140.5 L666.26 143.9 L666.38 142.0 L666.51 147.2 L666.63 149.3 L666.76 158.5 L666.88 159.0 L667.01 164.8 L667.13 160.9 L667.26 159.7 L667.38 153.7 L667.51 151.7 L667.63 152.1 L667.76 149.1 L667.88 152.8 L668.01 151.1 L668.13 148.7 L668.26 146.3 L668.38 144.2 L668.51 140.7 L668.63 136.6 L668.76 136.0 L668.88 136.5 L669.01 135.1 L669.13 135.2 L669.26 131.3 L669.38 133.7 L669.51 131.7 L669.63 128.9 L669.76 129.3 L669.88 123.5 L670.01 126.5 L670.13 124.4 L670.26 126.8 L670.38 124.3 L670.51 124.3 L670.63 123.5 L670.76 121.6 L670.88 121.9 L671.01 120.9 L671.13 120.0 L671.26 116.1 L671.38 120.8 L671.51 119.3 L671.63 114.5 L671.76 118.9 L671.88 112.6 L672.01 114.1 L672.13 109.1 L672.26 109.3 L672.38 103.7 L672.51 108.8 L672.63 106.6 L672.76 111.6 L672.88 110.1 L673.01 110.1 L673.13 110.2 L673.26 111.4 L673.38 111.4 L673.51 107.8 L673.63 106.7 L673.76 109.0 L673.88 103.9 L674.01 103.2 L674.13 100.3 L674.26 101.2 L674.38 105.7 L674.51 104.0 L674.63 99.8 L674.76 98.0 L674.88 98.3 L675.01 99.0 L675.13 99.5 L675.26 98.1 L675.38 96.4 L675.51 96.9 L675.63 95.4 L675.76 95.3 L675.88 94.6 L675.90 94.5"/>
<path stroke="#ff0000" d="M69.13 462.0 L69.26 461.9 L69.38 461.8 L69.51 461.7 L69.63 461.4 L69.76 460.6 L69.88 458.9 L70.01 460.8 L70.13 460.1 L70.26 460.5 L70.38 460.6 L70.51 460.0 L70.63 459.7 L70.76 460.2 L70.88 463.8 L71.01 463.8 L71.13 463.6 L71.26 463.2 L71.38 463.7 L71.51 464.4 L71.63 463.4 L71.76 463.8 L71.88 464.2 L72.01 466.1 L72.13 464.9 L72.26 465.1 L72.38 464.6 L72.51 464.5 L72.63 465.2 L72.76 464.1 L72.88 462.4 L73.01 465.8 L73.13 464.7 L73.26 467.0 L73.38 467.7 L73.51 469.3 L73.63 466.1 L73.76 467.1 L73.88 464.8 L74.01 465.2 L74.13 466.9 L74.26 465.1 L74.38 466.4 L74.51 466.5 L74.63 466.1 L74.76 466.4 L74.88 468.0 L75.01 466.1 L75.13 466.4 L75.26 468.4 L75.38 470.1 L75.51 467.7 L75.63 469.5 L75.76 469.4 L75.88 469.6 L76.01 471.3 L76.13 470.5 L76.26 470.3 L76.38 471.7 L76.51 473.3 L76.63 474.0 L76.76 474.2 L76.88 476.0 L77.01 479.1 L77.13 478.8 L77.26 479.6 L77.38 482.4 L77.51 481.0 L77.63 482.3 L77.76 481.2 L77.88 479.8 L78.01 477.6 L78.13 478.0 L78.26 479.3 L78.38 478.4 L78.51 477.9 L78.63 476.9 L78.76 478.3 L78.88 475.9 L79.01 476.5 L79.13 476.7 L79.26 476.5 L79.38 477.6 L79.51 475.5 L79.63 476.3 L79.76 475.8 L79.88 475.4 L80.01 473.8 L80.13 474.4 L80.26 476.5 L80.38 472.0 L80.51 474.4 L80.63 476.7 L80.76 474.5 L80.88 475.3 L81.01 471.9 L81.13 471.9 L81.26 470.7 L81.38 472.3 L81.51 471.2 L81.63 471.5 L81.76 469.9 L81.88 470.6 L82.01 470.8 L82.13 470.4 L82.26 468.6 L82.38 469.7 L82.51 467.9 L82.63 470.1 L82.76 469.3 L82.88 470.3 L83.01 468.8 L83.13 464.2 L83.26 463.9 L83.38 467.4 L83.51 468.2 L83.63 467.6 L83.76 466.6 L83.88 465.8 L84.01 466.0 L84.13 464.7 L84.26 464.4 L84.38 466.2 L84.51 464.1 L84.63 466.2 L84.76 466.1 L84.88 465.6 L85.01 464.2 L85.13 467.2 L85.26 461.6 L85.38 461.3 L85.51 463.8 L85.63 463.4 L85.76 463.0 L85.88 463.1 L86.01 461.6 L86.13 461.8 L86.26 461.8 L86.38 462.8 L86.51 463.1 L86.63 462.8 L86.76 462.3 L86.88 462.5 L87.01 462.4 L87.13 463.8 L87.26 463.7 L87.38 463.3 L87.51 464.9 L87.63 465.2 L87.76 464.2 L87.88 465.1 L88.01 464.6 L88.13 466.9 L88.26 465.4 L88.38 465.8 L88.51 466.9 L88.63 467.2 L88.76 467.4 L88.88 466.5 L89.01 468.6 L89.13 468.6 L89.26 467.8 L89.38 469.0 L89.51 469.8 L89.63 467.8 L89.76 468.8 L89.88 469.3 L90.01 469.8 L90.13 468.8 L90.26 469.6 L90.38 468.6 L90.51 468.0 L90.63 465.4 L90.76 467.1 L90.88 465.9 L91.01 464.6 L91.13 463.2 L91.26 464.1 L91.38 463.3 L91.51 463.1 L91.63 463.5 L91.76 463.3 L91.88 462.9 L92.01 462.0 L92.13 461.0 L92.26 461.4 L92.38 463.3 L92.51 463.8 L92.63 463.9 L92.76 461.3 L92.88 461.1 L93.01 462.6 L93.13 461.2 L93.26 460.9 L93.38 460.8 L93.51 460.2 L93.63 461.9 L93.76 461.3 L93.88 462.1 L94.01 459.9 L94.13 457.3 L94.26 460.1 L94.38 460.4 L94.51 458.0 L94.63 457.8 L94.76 456.5 L94.88 457.7 L95.01 457.8 L95.13 456.7 L95.26 456.5 L95.38 458.1 L95.51 459.0 L95.63 459.0 L95.76 459.7 L95.88 457.8 L96.01 457.0 L96.13 461.5 L96.26 460.3 L96.38 461.1 L96.51 460.7 L96.63 459.4 L96.76 459.3 L96.88 460.3 L97.01 459.9 L97.13 461.1 L97.26 461.0 L97.38 459.7 L97.51 460.5 L97.63 460.7 L97.76 460.2 L97.88 461.3 L98.01 461.6 L98.13 462.7 L98.26 461.9 L98.38 464.7 L98.51 462.7 L98.63 462.7 L98.76 462.8 L98.88 462.4 L99.01 465.8 L99.13 464.3 L99.26 464.0 L99.38 464.5 L99.51 467.5 L99.63 466.7 L99.76 466.7 L99.88 468.2 L100.01 469.3 L100.13 467.8 L100.26 467.8 L100.38 466.9 L100.51 470.1 L100.63 470.2 L100.76 469.3 L100.88 472.3 L101.01 473.3 L101.13 471.6 L101.26 469.7 L101.38 471.3 L101.51 471.4 L101.63 471.7 L101.76 473.2 L101.88 473.9 L102.01 474.8 L102.13 475.3 L102.26 476.1 L102.38 478.4 L102.51 479.6 L102.63 478.7 L102.76 476.9 L102.88 479.7 L103.01 481.5 L103.13 480.9 L103.26 483.0 L103.38 484.7 L103.51 485.4 L103.63 483.1 L103.76 486.2 L103.88 486.0 L104.01 484.3 L104.13 480.0 L104.26 479.9 L104.38 480.3 L104.51 479.1 L104.63 478.9 L104.76 479.0 L104.88 478.8 L105.01 479.5 L105.13 480.3 L105.26 477.7 L105.38 480.3 L105.51 478.1 L105.63 477.5 L105.76 478.3 L105.88 478.8 L106.01 477.2 L106.13 476.0 L106.26 478.8 L106.38 477.2 L106.51 477.3 L106.63 480.3 L106.76 480.1 L106.88 479.3 L107.01 479.9 L107.13 481.5 L107.26 481.5 L107.38 482.7 L107.51 484.1 L107.63 483.5 L107.76 482.6 L107.88 482.6 L108.01 482.3 L108.13 482.4 L108.26 485.0 L108.38 485.2 L108.51 486.3 L108.63 486.0 L108.76 488.7 L108.88 489.5 L109.01 487.6 L109.13 489.1 L109.26 488.1 L109.38 491.2 L109.51 491.8 L109.63 491.8 L109.76 492.9 L109.88 492.6 L110.01 491.7 L110.13 491.4 L110.26 488.4 L110.38 488.3 L110.51 488.3 L110.63 484.4 L110.76 488.0 L110.88 485.3 L111.01 486.1 L111.13 483.8 L111.26 483.8 L111.38 483.3 L111.51 482.2 L111.63 480.9 L111.76 481.1 L111.88 480.8 L112.01 480.6 L112.13 477.9 L112.26 481.4 L112.38 477.2 L112.51 478.6 L112.63 476.6 L112.76 478.4 L112.88 478.9 L113.01 477.8 L113.13 478.8 L113.26 478.4 L113.38 479.1 L113.51 477.2 L113.63 477.5 L113.76 477.4 L113.88 478.3 L114.01 477.4 L114.13 477.7 L114.26 478.6 L114.38 477.8 L114.51 480.1 L114.63 479.9 L114.76 481.6 L114.88 478.3 L115.01 478.1 L115.13 481.1 L115.26 483.0 L115.38 479.9 L115.51 481.8 L115.63 481.8 L115.76 482.7 L115.88 482.0 L116.01 482.3 L116.13 480.4 L116.26 480.8 L116.38 481.1 L116.51 480.9 L116.63 480.8 L116.76 478.6 L116.88 482.0 L117.01 484.8 L117.13 478.6 L117.26 480.9 L117.38 479.9 L117.51 480.3 L117.63 479.2 L117.76 479.4 L117.88 479.9 L118.01 480.2 L118.13 480.5 L118.26 480.4 L118.38 481.3 L118.51 481.2 L118.63 481.2 L118.76 482.3 L118.88 482.4 L119.01 481.3 L119.13 481.2 L119.26 480.2 L119.38 484.7 L119.51 485.1 L119.63 482.2 L119.76 482.7 L119.88 482.7 L120.01 484.7 L120.13 484.7 L120.26 484.8 L120.38 485.1 L120.51 484.8 L120.63 485.1 L120.76 485.0 L120.88 486.0 L121.01 485.3 L121.13 485.5 L121.26 485.6 L121.38 487.1 L121.51 488.8 L121.63 486.9 L121.76 485.1 L121.88 487.6 L122.01 488.7 L122.13 486.7 L122.26 486.2 L122.38 487.2 L122.51 488.7 L122.63 487.0 L122.76 487.9 L122.88 486.5 L123.01 486.0 L123.13 487.6 L123.26 485.1 L123.38 487.1 L123.51 486.0 L123.63 485.9 L123.76 484.6 L123.88 482.8 L124.01 481.7 L124.13 482.5 L124.26 483.8 L124.38 484.4 L124.51 483.4 L124.63 483.2 L124.76 482.8 L124.88 482.5 L125.01 481.7 L125.13 483.0 L125.26 482.1 L125.38 481.0 L125.51 481.9 L125.63 483.2 L125.76 484.0 L125.88 479.2 L126.01 479.9 L126.13 480.7 L126.26 481.1 L126.38 479.6 L126.51 477.8 L126.63 476.9 L126.76 478.3 L126.88 476.4 L127.01 478.3 L127.13 476.9 L127.26 476.0 L127.38 477.1 L127.51 475.9 L127.63 476.4 L127.76 476.9 L127.88 475.2 L128.01 474.9 L128.13 474.8 L128.26 475.3 L128.38 474.3 L128.51 473.1 L128.63 473.0 L128.76 475.3 L128.88 471.3 L129.01 472.1 L129.13 469.7 L129.26 468.7 L129.38 471.0 L129.51 470.6 L129.63 468.7 L129.76 469.0 L129.88 468.6 L130.01 468.8 L130.13 468.3 L130.26 469.5 L130.38 467.4 L130.51 470.2 L130.63 469.7 L130.76 471.4 L130.88 469.4 L131.01 469.4 L131.13 469.3 L131.26 468.7 L131.38 470.8 L131.51 467.9 L131.63 468.1 L131.76 467.6 L131.88 467.8 L132.01 467.4 L132.13 468.1 L132.26 468.2 L132.38 466.9 L132.51 467.3 L132.63 466.7 L132.76 469.2 L132.88 468.4 L133.01 468.3 L133.13 467.7 L133.26 465.3 L133.38 466.3 L133.51 466.7 L133.63 465.2 L133.76 464.9 L133.88 465.2 L134.01 464.2 L134.13 466.4 L134.26 464.9 L134.38 465.2 L134.51 465.9 L134.63 465.4 L134.76 466.5 L134.88 465.0 L135.01 464.6 L135.13 464.1 L135.26 462.4 L135.38 462.8 L135.51 464.5 L135.63 463.7 L135.76 464.5 L135.88 464.7 L136.01 464.0 L136.13 464.3 L136.26 463.4 L136.38 463.3 L136.51 462.6 L136.63 462.8 L136.76 459.8 L136.88 461.1 L137.01 460.8 L137.13 460.5 L137.26 460.0 L137.38 460.3 L137.51 459.7 L137.63 459.8 L137.76 459.8 L137.88 457.6 L138.01 458.0 L138.13 457.8 L138.26 457.6 L138.38 458.2 L138.51 457.0 L138.63 458.8 L138.76 457.1 L138.88 457.6 L139.01 457.7 L139.13 458.7 L139.26 459.0 L139.38 455.6 L139.51 454.5 L139.63 456.1 L139.76 456.2 L139.88 457.7 L140.01 456.7 L140.13 457.2 L140.26 456.4 L140.38 456.3 L140.51 456.0 L140.63 457.1 L140.76 456.1 L140.88 456.6 L141.01 456.4 L141.13 455.8 L141.26 454.1 L141.38 454.7 L141.51 454.9 L141.63 453.9 L141.76 455.4 L141.88 454.3 L142.01 454.0 L142.13 453.4 L142.26 453.9 L142.38 452.2 L142.51 452.7 L142.63 452.2 L142.76 453.8 L142.88 453.6 L143.01 453.5 L143.13 452.2 L143.26 451.6 L143.38 451.9 L143.51 451.3 L143.63 451.4 L143.76 451.1 L143.88 451.7 L144.01 452.5 L144.13 451.8 L144.26 452.0 L144.38 450.3 L144.51 452.0 L144.63 451.0 L144.76 451.9 L144.88 451.7 L145.01 451.2 L145.13 450.6 L145.26 451.5 L145.38 451.2 L145.51 450.5 L145.63 449.1 L145.76 449.6 L145.88 450.3 L146.01 449.3 L146.13 449.4 L146.26 447.1 L146.38 447.7 L146.51 448.8 L146.63 447.7 L146.76 447.8 L146.88 446.7 L147.01 447.4 L147.13 446.3 L147.26 448.6 L147.38 446.7 L147.51 444.8 L147.63 445.8 L147.76 446.7 L147.88 446.1 L148.01 445.5 L148.13 445.0 L148.26 444.6 L148.38 444.8 L148.51 443.8 L148.63 445.1 L148.76 442.6 L148.88 442.0 L149.01 444.9 L149.13 444.4 L149.26 443.3 L149.38 444.3 L149.51 442.0 L149.63 440.5 L149.76 441.0 L149.88 442.1 L150.01 440.4 L150.13 440.9 L150.26 440.0 L150.38 441.0 L150.51 443.7 L150.63 441.8 L150.76 441.9 L150.88 444.5 L151.01 443.0 L151.13 441.4 L151.26 442.8 L151.38 442.5 L151.51 443.9 L151.63 444.1 L151.76 445.7 L151.88 445.6 L152.01 445.0 L152.13 444.4 L152.26 445.1 L152.38 444.1 L152.51 445.3 L152.63 443.4 L152.76 445.9 L152.88 443.5 L153.01 442.5 L153.13 442.1 L153.26 443.8 L153.38 446.4 L153.51 444.5 L153.63 442.9 L153.76 444.3 L153.88 444.7 L154.01 444.0 L154.13 443.6 L154.26 443.5 L154.38 444.0 L154.51 443.2 L154.63 444.1 L154.76 441.6 L154.88 443.1 L155.01 441.5 L155.13 442.5 L155.26 441.9 L155.38 440.7 L155.51 439.4 L155.63 439.9 L155.76 440.1 L155.88 438.9 L156.01 439.2 L156.13 438.0 L156.26 440.0 L156.38 439.9 L156.51 440.8 L156.63 442.0 L156.76 440.3 L156.88 441.6 L157.01 443.3 L157.13 444.9 L157.26 443.5 L157.38 443.6 L157.51 444.1 L157.63 443.8 L157.76 445.9 L157.88 445.2 L158.01 445.5 L158.13 445.0 L158.26 445.5 L158.38 445.2 L158.51 447.6 L158.63 449.1 L158.76 449.0 L158.88 451.3 L159.01 451.4 L159.13 450.5 L159.26 450.7 L159.38 450.8 L159.51 451.1 L159.63 450.7 L159.76 449.4 L159.88 448.3 L160.01 448.3 L160.13 446.9 L160.26 445.3 L160.38 447.0 L160.51 446.0 L160.63 446.3 L160.76 445.6 L160.88 444.6 L161.01 444.7 L161.13 446.9 L161.26 446.6 L161.38 445.2 L161.51 445.4 L161.63 446.6 L161.76 444.8 L161.88 443.7 L162.01 445.5 L162.13 445.4 L162.26 444.8 L162.38 444.8 L162.51 444.1 L162.63 443.5 L162.76 444.4 L162.88 443.5 L163.01 445.4 L163.13 445.2 L163.26 446.2 L163.38 446.2 L163.51 446.2 L163.63 445.9 L163.76 446.8 L163.88 447.0 L164.01 447.7 L164.13 448.5 L164.26 449.1 L164.38 449.8 L164.51 449.3 L164.63 449.0 L164.76 449.7 L164.88 451.6 L165.01 451.7 L165.13 450.2 L165.26 450.7 L165.38 451.4 L165.51 452.3 L165.63 453.3 L165.76 454.1 L165.88 451.2 L166.01 452.3 L166.13 454.3 L166.26 453.1 L166.38 453.4 L166.51 453.7 L166.63 453.5 L166.76 453.3 L166.88 452.7 L167.01 450.7 L167.13 452.2 L167.26 451.8 L167.38 451.1 L167.51 452.6 L167.63 451.0 L167.76 450.0 L167.88 450.1 L168.01 448.3 L168.13 450.3 L168.26 448.1 L168.38 446.6 L168.51 447.0 L168.63 447.8 L168.76 447.5 L168.88 446.9 L169.01 446.6 L169.13 446.2 L169.26 445.1 L169.38 445.4 L169.51 445.7 L169.63 447.1 L169.76 446.9 L169.88 445.2 L170.01 443.2 L170.13 446.5 L170.26 445.4 L170.38 444.4 L170.51 445.2 L170.63 445.3 L170.76 443.9 L170.88 443.1 L171.01 443.7 L171.13 444.2 L171.26 443.5 L171.38 443.2 L171.51 442.6 L171.63 443.2 L171.76 442.8 L171.88 442.4 L172.01 442.3 L172.13 441.6 L172.26 441.9 L172.38 444.3 L172.51 442.2 L172.63 441.7 L172.76 440.4 L172.88 440.8 L173.01 442.3 L173.13 441.9 L173.26 441.0 L173.38 440.3 L173.51 440.4 L173.63 440.3 L173.76 439.9 L173.88 440.1 L174.01 439.3 L174.13 439.3 L174.26 436.5 L174.38 438.4 L174.51 436.5 L174.63 436.1 L174.76 436.8 L174.88 435.7 L175.01 435.9 L175.13 437.1 L175.26 435.0 L175.38 434.5 L175.51 433.7 L175.63 433.3 L175.76 433.1 L175.88 433.7 L176.01 434.1 L176.13 433.8 L176.26 432.9 L176.38 433.2 L176.51 432.1 L176.63 430.7 L176.76 433.8 L176.88 433.7 L177.01 432.2 L177.13 429.4 L177.26 430.9 L177.38 431.7 L177.51 432.3 L177.63 432.7 L177.76 431.5 L177.88 431.5 L178.01 431.1 L178.13 431.4 L178.26 431.2 L178.38 431.4 L178.51 430.8 L178.63 431.9 L178.76 434.5 L178.88 432.2 L179.01 433.6 L179.13 434.0 L179.26 434.0 L179.38 434.1 L179.51 435.4 L179.63 435.6 L179.76 435.6 L179.88 435.6 L180.01 435.6 L180.13 435.5 L180.26 435.1 L180.38 435.9 L180.51 436.4 L180.63 435.4 L180.76 434.6 L180.88 432.8 L181.01 434.2 L181.13 434.7 L181.26 432.6 L181.38 434.1 L181.51 433.6 L181.63 432.4 L181.76 433.1 L181.88 433.4 L182.01 433.5 L182.13 432.6 L182.26 433.2 L182.38 433.0 L182.51 432.9 L182.63 432.9 L182.76 432.4 L182.88 432.2 L183.01 432.2 L183.13 434.6 L183.26 435.0 L183.38 435.0 L183.51 434.9 L183.63 432.9 L183.76 433.7 L183.88 433.3 L184.01 434.3 L184.13 434.5 L184.26 434.5 L184.38 433.9 L184.51 434.7 L184.63 434.5 L184.76 434.2 L184.88 435.0 L185.01 435.7 L185.13 435.8 L185.26 436.4 L185.38 436.8 L185.51 438.4 L185.63 438.1 L185.76 438.2 L185.88 437.4 L186.01 436.5 L186.13 437.6 L186.26 438.5 L186.38 438.2 L186.51 438.6 L186.63 438.5 L186.76 438.3 L186.88 439.5 L187.01 441.0 L187.13 438.4 L187.26 441.6 L187.38 443.1 L187.51 438.8 L187.63 437.9 L187.76 440.2 L187.88 441.2 L188.01 441.9 L188.13 442.1 L188.26 441.4 L188.38 442.0 L188.51 443.1 L188.63 442.6 L188.76 442.8 L188.88 443.5 L189.01 442.0 L189.13 440.6 L189.26 443.5 L189.38 442.2 L189.51 440.7 L189.63 438.8 L189.76 440.9 L189.88 438.7 L190.01 438.8 L190.13 438.2 L190.26 438.6 L190.38 437.4 L190.51 436.6 L190.63 436.8 L190.76 437.3 L190.88 436.9 L191.01 436.7 L191.13 436.0 L191.26 434.9 L191.38 436.1 L191.51 434.7 L191.63 436.8 L191.76 436.6 L191.88 434.2 L192.01 435.2 L192.13 433.5 L192.26 432.4 L192.38 432.8 L192.51 433.4 L192.63 434.7 L192.76 434.7 L192.88 432.5 L193.01 431.8 L193.13 432.4 L193.26 432.4 L193.38 430.7 L193.51 431.3 L193.63 430.7 L193.76 431.1 L193.88 430.5 L194.01 429.2 L194.13 429.3 L194.26 429.7 L194.38 428.3 L194.51 427.2 L194.63 429.0 L194.76 425.6 L194.88 425.5 L195.01 426.2 L195.13 424.6 L195.26 424.3 L195.38 426.0 L195.51 425.3 L195.63 425.6 L195.76 425.8 L195.88 424.0 L196.01 424.8 L196.13 425.5 L196.26 425.4 L196.38 424.4 L196.51 424.8 L196.63 425.1 L196.76 426.2 L196.88 426.4 L197.01 424.8 L197.13 424.4 L197.26 425.5 L197.38 426.8 L197.51 427.2 L197.63 424.2 L197.76 425.1 L197.88 422.6 L198.01 426.3 L198.13 425.8 L198.26 426.2 L198.38 427.0 L198.51 428.3 L198.63 426.3 L198.76 427.1 L198.88 427.6 L199.01 427.5 L199.13 427.4 L199.26 427.3 L199.38 425.6 L199.51 426.7 L199.63 426.5 L199.76 426.1 L199.88 426.9 L200.01 427.9 L200.13 426.4 L200.26 426.8 L200.38 426.2 L200.51 425.2 L200.63 427.0 L200.76 425.9 L200.88 425.2 L201.01 426.0 L201.13 426.6 L201.26 426.6 L201.38 428.7 L201.51 428.5 L201.63 428.3 L201.76 427.3 L201.88 429.0 L202.01 429.7 L202.13 430.6 L202.26 428.9 L202.38 429.7 L202.51 431.3 L202.63 431.9 L202.76 432.5 L202.88 432.1 L203.01 432.8 L203.13 433.5 L203.26 433.7 L203.38 433.1 L203.51 432.4 L203.63 432.4 L203.76 432.4 L203.88 431.7 L204.01 431.1 L204.13 431.7 L204.26 431.6 L204.38 427.8 L204.51 427.9 L204.63 428.2 L204.76 427.1 L204.88 428.3 L205.01 429.5 L205.13 429.5 L205.26 428.3 L205.38 428.0 L205.51 428.7 L205.63 428.5 L205.76 428.1 L205.88 426.9 L206.01 427.2 L206.13 426.3 L206.26 426.9 L206.38 423.1 L206.51 424.0 L206.63 424.4 L206.76 424.8 L206.88 423.5 L207.01 425.9 L207.13 423.4 L207.26 424.8 L207.38 424.2 L207.51 423.5 L207.63 422.9 L207.76 424.6 L207.88 424.1 L208.01 421.6 L208.13 423.0 L208.26 422.6 L208.38 419.6 L208.51 421.9 L208.63 421.2 L208.76 422.3 L208.88 421.6 L209.01 419.1 L209.13 420.7 L209.26 420.0 L209.38 422.0 L209.51 419.8 L209.63 420.6 L209.76 422.5 L209.88 421.5 L210.01 420.3 L210.13 419.6 L210.26 420.2 L210.38 420.0 L210.51 420.0 L210.63 418.9 L210.76 418.6 L210.88 419.0 L211.01 418.6 L211.13 419.0 L211.26 416.5 L211.38 417.7 L211.51 415.7 L211.63 416.8 L211.76 417.0 L211.88 415.4 L212.01 415.5 L212.13 414.6 L212.26 414.8 L212.38 414.7 L212.51 415.0 L212.63 415.5 L212.76 413.4 L212.88 413.8 L213.01 413.9 L213.13 414.8 L213.26 415.9 L213.38 415.5 L213.51 415.3 L213.63 414.4 L213.76 413.2 L213.88 413.6 L214.01 414.4 L214.13 414.4 L214.26 413.6 L214.38 415.1 L214.51 413.7 L214.63 412.9 L214.76 413.6 L214.88 413.5 L215.01 412.8 L215.13 412.4 L215.26 412.4 L215.38 412.6 L215.51 411.6 L215.63 412.1 L215.76 412.2 L215.88 411.1 L216.01 411.2 L216.13 411.9 L216.26 409.0 L216.38 408.7 L216.51 408.7 L216.63 410.0 L216.76 409.2 L216.88 407.0 L217.01 408.3 L217.13 408.4 L217.26 407.4 L217.38 408.2 L217.51 408.4 L217.63 408.5 L217.76 407.7 L217.88 407.8 L218.01 407.1 L218.13 406.7 L218.26 408.4 L218.38 405.3 L218.51 406.4 L218.63 408.8 L218.76 405.9 L218.88 404.6 L219.01 406.6 L219.13 404.2 L219.26 404.5 L219.38 404.8 L219.51 405.0 L219.63 404.9 L219.76 406.1 L219.88 407.3 L220.01 408.4 L220.13 406.9 L220.26 407.2 L220.38 407.7 L220.51 406.1 L220.63 406.5 L220.76 408.1 L220.88 409.2 L221.01 410.2 L221.13 409.9 L221.26 411.1 L221.38 411.1 L221.51 411.7 L221.63 413.7 L221.76 413.3 L221.88 414.9 L222.01 415.7 L222.13 414.8 L222.26 413.7 L222.38 418.4 L222.51 417.6 L222.63 415.4 L222.76 417.0 L222.88 418.1 L223.01 418.3 L223.13 419.5 L223.26 420.4 L223.38 420.9 L223.51 421.0 L223.63 421.4 L223.76 421.5 L223.88 422.8 L224.01 423.4 L224.13 423.4 L224.26 422.6 L224.38 423.5 L224.51 420.9 L224.63 422.3 L224.76 419.2 L224.88 419.4 L225.01 419.9 L225.13 419.8 L225.26 419.9 L225.38 417.4 L225.51 416.8 L225.63 417.3 L225.76 418.4 L225.88 417.7 L226.01 417.7 L226.13 417.6 L226.26 419.3 L226.38 420.3 L226.51 421.5 L226.63 418.1 L226.76 418.6 L226.88 419.5 L227.01 419.2 L227.13 420.2 L227.26 419.4 L227.38 420.7 L227.51 422.1 L227.63 422.4 L227.76 421.8 L227.88 422.2 L228.01 421.6 L228.13 422.1 L228.26 421.0 L228.38 420.0 L228.51 420.3 L228.63 421.9 L228.76 419.3 L228.88 418.5 L229.01 418.9 L229.13 419.2 L229.26 420.3 L229.38 419.7 L229.51 418.2 L229.63 417.7 L229.76 417.3 L229.88 416.5 L230.01 417.8 L230.13 417.8 L230.26 418.3 L230.38 417.3 L230.51 416.3 L230.63 417.1 L230.76 415.2 L230.88 415.9 L231.01 415.8 L231.13 414.9 L231.26 412.9 L231.38 414.8 L231.51 414.0 L231.63 413.6 L231.76 414.1 L231.88 414.0 L232.01 414.8 L232.13 412.5 L232.26 413.0 L232.38 411.6 L232.51 411.4 L232.63 410.5 L232.76 412.5 L232.88 412.2 L233.01 411.8 L233.13 411.2 L233.26 411.6 L233.38 411.2 L233.51 411.6 L233.63 410.7 L233.76 408.6 L233.88 408.3 L234.01 408.3 L234.13 411.8 L234.26 409.5 L234.38 409.3 L234.51 407.6 L234.63 405.1 L234.76 406.5 L234.88 407.1 L235.01 408.3 L235.13 406.4 L235.26 404.9 L235.38 406.5 L235.51 404.8 L235.63 406.3 L235.76 405.9 L235.88 405.4 L236.01 404.5 L236.13 402.8 L236.26 405.2 L236.38 404.7 L236.51 404.6 L236.63 403.6 L236.76 403.5 L236.88 401.2 L237.01 400.5 L237.13 401.1 L237.26 402.0 L237.38 404.0 L237.51 401.8 L237.63 401.3 L237.76 402.7 L237.88 403.2 L238.01 400.7 L238.13 401.4 L238.26 400.5 L238.38 400.5 L238.51 401.2 L238.63 401.1 L238.76 401.4 L238.88 401.5 L239.01 400.3 L239.13 400.1 L239.26 400.6 L239.38 402.3 L239.51 401.2 L239.63 400.9 L239.76 399.0 L239.88 398.8 L240.01 397.5 L240.13 399.6 L240.26 401.7 L240.38 401.9 L240.51 400.0 L240.63 401.8 L240.76 401.8 L240.88 401.5 L241.01 401.8 L241.13 402.5 L241.26 402.1 L241.38 401.6 L241.51 400.6 L241.63 400.5 L241.76 400.8 L241.88 400.6 L242.01 402.0 L242.13 400.2 L242.26 401.1 L242.38 402.9 L242.51 402.0 L242.63 401.8 L242.76 401.1 L242.88 400.1 L243.01 401.7 L243.13 399.9 L243.26 399.6 L243.38 399.0 L243.51 398.6 L243.63 398.4 L243.76 398.7 L243.88 397.7 L244.01 394.4 L244.13 396.0 L244.26 397.2 L244.38 397.4 L244.51 396.3 L244.63 395.9 L244.76 396.2 L244.88 395.0 L245.01 395.2 L245.13 396.7 L245.26 397.8 L245.38 397.0 L245.51 400.7 L245.63 399.7 L245.76 402.0 L245.88 401.6 L246.01 403.1 L246.13 405.6 L246.26 404.4 L246.38 403.7 L246.51 403.5 L246.63 403.2 L246.76 403.1 L246.88 401.4 L247.01 403.3 L247.13 401.8 L247.26 403.3 L247.38 400.7 L247.51 400.0 L247.63 399.9 L247.76 398.0 L247.88 398.4 L248.01 399.2 L248.13 397.9 L248.26 397.2 L248.38 396.6 L248.51 397.5 L248.63 396.6 L248.76 396.2 L248.88 394.8 L249.01 395.2 L249.13 395.8 L249.26 393.5 L249.38 395.8 L249.51 396.2 L249.63 393.1 L249.76 393.9 L249.88 393.5 L250.01 392.9 L250.13 393.9 L250.26 393.1 L250.38 393.8 L250.51 395.0 L250.63 393.0 L250.76 393.6 L250.88 395.4 L251.01 393.3 L251.13 393.4 L251.26 392.0 L251.38 392.4 L251.51 393.0 L251.63 394.0 L251.76 392.8 L251.88 394.1 L252.01 393.4 L252.13 393.4 L252.26 392.9 L252.38 391.4 L252.51 391.7 L252.63 391.3 L252.76 391.9 L252.88 392.5 L253.01 393.0 L253.13 391.7 L253.26 390.0 L253.38 390.5 L253.51 389.8 L253.63 390.4 L253.76 389.4 L253.88 389.5 L254.01 388.8 L254.13 390.2 L254.26 389.2 L254.38 387.3 L254.51 389.3 L254.63 389.4 L254.76 386.9 L254.88 389.5 L255.01 389.1 L255.13 389.5 L255.26 387.3 L255.38 391.0 L255.51 389.9 L255.63 387.2 L255.76 390.4 L255.88 389.9 L256.01 391.0 L256.13 390.2 L256.26 387.2 L256.38 390.7 L256.51 388.6 L256.63 389.5 L256.76 390.6 L256.88 389.8 L257.01 390.1 L257.13 390.8 L257.26 393.1 L257.38 393.6 L257.51 391.3 L257.63 393.6 L257.76 394.6 L257.88 396.3 L258.01 398.5 L258.13 397.4 L258.26 399.3 L258.38 399.8 L258.51 401.8 L258.63 404.8 L258.76 401.5 L258.88 404.5 L259.01 405.5 L259.13 405.7 L259.26 402.7 L259.38 401.1 L259.51 404.7 L259.63 399.8 L259.76 403.5 L259.88 405.0 L260.01 403.0 L260.13 403.2 L260.26 402.2 L260.38 402.4 L260.51 401.1 L260.63 400.5 L260.76 403.4 L260.88 402.9 L261.01 401.3 L261.13 400.9 L261.26 398.0 L261.38 399.0 L261.51 400.0 L261.63 399.3 L261.76 398.8 L261.88 397.2 L262.01 398.3 L262.13 400.0 L262.26 400.6 L262.38 399.3 L262.51 396.8 L262.63 397.1 L262.76 393.1 L262.88 394.5 L263.01 392.7 L263.13 391.4 L263.26 395.3 L263.38 392.5 L263.51 391.3 L263.63 390.5 L263.76 391.4 L263.88 390.7 L264.01 388.7 L264.13 392.0 L264.26 390.6 L264.38 389.2 L264.51 387.9 L264.63 389.8 L264.76 391.4 L264.88 395.3 L265.01 391.5 L265.13 394.1 L265.26 392.2 L265.38 391.9 L265.51 393.0 L265.63 392.6 L265.76 391.0 L265.88 392.3 L266.01 394.8 L266.13 395.7 L266.26 394.8 L266.38 398.7 L266.51 397.0 L266.63 397.1 L266.76 397.7 L266.88 398.8 L267.01 397.4 L267.13 399.1 L267.26 399.4 L267.38 401.0 L267.51 401.3 L267.63 401.1 L267.76 399.9 L267.88 398.7 L268.01 401.6 L268.13 401.5 L268.26 406.0 L268.38 404.0 L268.51 405.6 L268.63 405.5 L268.76 405.8 L268.88 404.9 L269.01 405.1 L269.13 403.0 L269.26 402.3 L269.38 402.1 L269.51 404.7 L269.63 403.9 L269.76 402.4 L269.88 402.7 L270.01 400.9 L270.13 400.5 L270.26 400.1 L270.38 399.9 L270.51 400.9 L270.63 402.7 L270.76 403.9 L270.88 402.7 L271.01 403.0 L271.13 404.8 L271.26 407.6 L271.38 406.2 L271.51 409.3 L271.63 408.3 L271.76 411.4 L271.88 412.3 L272.01 408.8 L272.13 412.1 L272.26 411.7 L272.38 412.8 L272.51 413.9 L272.63 415.6 L272.76 415.8 L272.88 413.8 L273.01 413.9 L273.13 415.8 L273.26 416.8 L273.38 416.7 L273.51 416.9 L273.63 415.5 L273.76 416.1 L273.88 414.5 L274.01 415.0 L274.13 414.3 L274.26 414.2 L274.38 410.4 L274.51 411.3 L274.63 411.0 L274.76 414.7 L274.88 412.9 L275.01 413.1 L275.13 413.4 L275.26 414.8 L275.38 413.7 L275.51 418.7 L275.63 418.1 L275.76 418.0 L275.88 416.6 L276.01 418.5 L276.13 420.5 L276.26 421.1 L276.38 421.0 L276.51 420.5 L276.63 424.1 L276.76 423.5 L276.88 426.3 L277.01 422.7 L277.13 424.5 L277.26 424.2 L277.38 424.0 L277.51 421.6 L277.63 421.7 L277.76 423.3 L277.88 422.5 L278.01 420.1 L278.13 419.0 L278.26 417.8 L278.38 419.1 L278.51 417.1 L278.63 415.4 L278.76 416.1 L278.88 414.2 L279.01 414.4 L279.13 412.7 L279.26 413.8 L279.38 413.2 L279.51 413.3 L279.63 412.5 L279.76 411.8 L279.88 412.0 L280.01 416.0 L280.13 411.8 L280.26 415.0 L280.38 410.9 L280.51 412.3 L280.63 412.7 L280.76 412.1 L280.88 412.3 L281.01 412.1 L281.13 411.1 L281.26 411.3 L281.38 410.3 L281.51 411.2 L281.63 412.2 L281.76 410.0 L281.88 407.8 L282.01 407.3 L282.13 408.8 L282.26 406.6 L282.38 410.6 L282.51 409.8 L282.63 408.7 L282.76 408.1 L282.88 409.4 L283.01 408.4 L283.13 409.1 L283.26 408.0 L283.38 406.2 L283.51 406.3 L283.63 405.2 L283.76 406.0 L283.88 407.2 L284.01 405.6 L284.13 406.6 L284.26 407.0 L284.38 406.8 L284.51 405.0 L284.63 403.7 L284.76 403.3 L284.88 404.3 L285.01 406.9 L285.13 409.4 L285.26 408.7 L285.38 408.9 L285.51 410.0 L285.63 408.7 L285.76 409.9 L285.88 411.6 L286.01 413.1 L286.13 413.2 L286.26 414.2 L286.38 416.5 L286.51 418.9 L286.63 416.9 L286.76 415.6 L286.88 415.9 L287.01 415.8 L287.13 419.5 L287.26 419.1 L287.38 419.9 L287.51 421.3 L287.63 421.6 L287.76 420.6 L287.88 422.1 L288.01 421.2 L288.13 419.8 L288.26 415.3 L288.38 415.7 L288.51 413.2 L288.63 413.5 L288.76 414.1 L288.88 415.2 L289.01 411.0 L289.13 412.6 L289.26 411.1 L289.38 412.4 L289.51 411.0 L289.63 411.9 L289.76 409.0 L289.88 407.6 L290.01 408.6 L290.13 406.5 L290.26 408.7 L290.38 407.5 L290.51 407.3 L290.63 406.2 L290.76 405.7 L290.88 404.0 L291.01 410.4 L291.13 406.1 L291.26 406.8 L291.38 407.5 L291.51 409.4 L291.63 406.9 L291.76 407.3 L291.88 407.0 L292.01 407.2 L292.13 406.3 L292.26 407.6 L292.38 410.3 L292.51 412.7 L292.63 410.8 L292.76 407.4 L292.88 408.9 L293.01 408.5 L293.13 407.4 L293.26 406.7 L293.38 405.9 L293.51 408.6 L293.63 406.8 L293.76 410.2 L293.88 412.7 L294.01 414.3 L294.13 410.5 L294.26 411.7 L294.38 415.9 L294.51 419.9 L294.63 420.1 L294.76 424.5 L294.88 428.8 L295.01 427.0 L295.13 427.7 L295.26 432.8 L295.38 434.8 L295.51 438.6 L295.63 439.9 L295.76 437.3 L295.88 434.8 L296.01 440.8 L296.13 442.0 L296.26 443.2 L296.38 445.7 L296.51 446.4 L296.63 447.9 L296.76 449.2 L296.88 450.0 L297.01 449.8 L297.13 452.9 L297.26 453.5 L297.38 456.3 L297.51 454.0 L297.63 455.3 L297.76 457.1 L297.88 458.5 L298.01 455.9 L298.13 455.3 L298.26 459.0 L298.38 462.2 L298.51 461.9 L298.63 464.1 L298.76 464.7 L298.88 469.9 L299.01 472.2 L299.13 472.1 L299.26 477.4 L299.38 475.8 L299.51 474.1 L299.63 472.7 L299.76 466.1 L299.88 465.5 L300.01 464.7 L300.13 466.0 L300.26 457.9 L300.38 458.8 L300.51 457.8 L300.63 455.8 L300.76 457.9 L300.88 455.0 L301.01 458.3 L301.13 454.8 L301.26 452.9 L301.38 457.4 L301.51 453.4 L301.63 452.3 L301.76 451.3 L301.88 451.2 L302.01 453.6 L302.13 452.5 L302.26 451.8 L302.38 451.1 L302.51 455.2 L302.63 454.3 L302.76 452.5 L302.88 457.2 L303.01 455.4 L303.13 456.9 L303.26 457.0 L303.38 459.6 L303.51 462.1 L303.63 464.8 L303.76 462.4 L303.88 464.0 L304.01 463.9 L304.13 464.1 L304.26 462.8 L304.38 460.8 L304.51 460.7 L304.63 460.8 L304.76 459.5 L304.88 458.6 L305.01 461.2 L305.13 460.9 L305.26 460.9 L305.38 461.4 L305.51 462.7 L305.63 463.6 L305.76 464.3 L305.88 463.8 L306.01 465.6 L306.13 469.3 L306.26 470.2 L306.38 468.1 L306.51 472.6 L306.63 471.9 L306.76 473.3 L306.88 474.4 L307.01 474.3 L307.13 473.1 L307.26 475.3 L307.38 475.4 L307.51 477.7 L307.63 478.6 L307.76 480.3 L307.88 482.5 L308.01 482.0 L308.13 480.7 L308.26 478.9 L308.38 479.5 L308.51 478.5 L308.63 471.9 L308.76 473.1 L308.88 468.3 L309.01 468.6 L309.13 468.7 L309.26 467.0 L309.38 466.2 L309.51 467.5 L309.63 466.0 L309.76 463.1 L309.88 462.6 L310.01 461.1 L310.13 463.3 L310.26 462.6 L310.38 463.8 L310.51 459.7 L310.63 460.7 L310.76 462.0 L310.88 462.4 L311.01 460.1 L311.13 456.7 L311.26 456.7 L311.38 456.6 L311.51 456.4 L311.63 454.4 L311.76 454.6 L311.88 454.0 L312.01 456.4 L312.13 458.5 L312.26 453.8 L312.38 452.5 L312.51 450.0 L312.63 452.2 L312.76 450.4 L312.88 449.4 L313.01 446.5 L313.13 452.8 L313.26 449.7 L313.38 447.7 L313.51 448.5 L313.63 449.9 L313.76 449.5 L313.88 448.5 L314.01 447.1 L314.13 447.4 L314.26 448.8 L314.38 446.4 L314.51 450.4 L314.63 451.1 L314.76 450.3 L314.88 445.7 L315.01 445.5 L315.13 446.0 L315.26 447.5 L315.38 448.9 L315.51 445.8 L315.63 449.2 L315.76 446.4 L315.88 446.9 L316.01 447.6 L316.13 447.1 L316.26 450.6 L316.38 449.9 L316.51 452.9 L316.63 446.7 L316.76 449.5 L316.88 448.7 L317.01 452.6 L317.13 451.3 L317.26 452.5 L317.38 452.4 L317.51 453.4 L317.63 452.2 L317.76 449.9 L317.88 453.7 L318.01 454.1 L318.13 452.5 L318.26 450.8 L318.38 449.5 L318.51 450.9 L318.63 446.7 L318.76 444.6 L318.88 444.5 L319.01 445.5 L319.13 444.1 L319.26 444.4 L319.38 444.4 L319.51 442.3 L319.63 444.7 L319.76 443.6 L319.88 443.9 L320.01 441.2 L320.13 437.6 L320.26 436.5 L320.38 438.3 L320.51 442.5 L320.63 439.9 L320.76 437.3 L320.88 438.0 L321.01 438.1 L321.13 437.4 L321.26 437.5 L321.38 437.7 L321.51 436.6 L321.63 437.3 L321.76 439.4 L321.88 439.9 L322.01 437.1 L322.13 440.8 L322.26 440.2 L322.38 439.4 L322.51 440.9 L322.63 439.1 L322.76 439.9 L322.88 440.7 L323.01 441.1 L323.13 440.9 L323.26 441.5 L323.38 439.5 L323.51 438.2 L323.63 440.2 L323.76 435.8 L323.88 435.9 L324.01 433.8 L324.13 431.1 L324.26 431.5 L324.38 431.7 L324.51 430.8 L324.63 429.9 L324.76 429.7 L324.88 429.7 L325.01 430.1 L325.13 429.3 L325.26 429.3 L325.38 429.7 L325.51 427.9 L325.63 429.6 L325.76 425.5 L325.88 427.4 L326.01 428.9 L326.13 425.0 L326.26 429.6 L326.38 427.1 L326.51 427.5 L326.63 427.3 L326.76 425.6 L326.88 427.7 L327.01 427.2 L327.13 428.3 L327.26 428.6 L327.38 429.0 L327.51 433.5 L327.63 433.0 L327.76 433.1 L327.88 434.5 L328.01 434.5 L328.13 436.3 L328.26 437.3 L328.38 439.6 L328.51 439.9 L328.63 438.2 L328.76 438.1 L328.88 438.6 L329.01 437.2 L329.13 434.5 L329.26 436.3 L329.38 435.5 L329.51 434.6 L329.63 434.7 L329.76 431.8 L329.88 431.2 L330.01 432.2 L330.13 431.5 L330.26 431.4 L330.38 431.4 L330.51 430.2 L330.63 430.7 L330.76 428.8 L330.88 431.7 L331.01 429.4 L331.13 431.2 L331.26 430.4 L331.38 431.4 L331.51 428.6 L331.63 425.8 L331.76 427.3 L331.88 428.0 L332.01 427.0 L332.13 428.1 L332.26 428.1 L332.38 427.3 L332.51 427.7 L332.63 426.0 L332.76 425.1 L332.88 423.3 L333.01 426.7 L333.13 425.1 L333.26 423.5 L333.38 422.8 L333.51 423.0 L333.63 423.8 L333.76 424.4 L333.88 424.9 L334.01 427.1 L334.13 424.4 L334.26 424.0 L334.38 423.9 L334.51 425.2 L334.63 425.0 L334.76 427.3 L334.88 426.2 L335.01 423.2 L335.13 427.6 L335.26 428.5 L335.38 426.9 L335.51 428.0 L335.63 429.1 L335.76 427.8 L335.88 429.6 L336.01 430.8 L336.13 432.0 L336.26 432.5 L336.38 433.7 L336.51 433.3 L336.63 432.8 L336.76 431.0 L336.88 434.0 L337.01 433.8 L337.13 431.3 L337.26 430.1 L337.38 430.0 L337.51 426.4 L337.63 426.7 L337.76 424.5 L337.88 425.8 L338.01 426.6 L338.13 425.8 L338.26 426.2 L338.38 424.3 L338.51 423.3 L338.63 422.7 L338.76 423.5 L338.88 422.6 L339.01 422.2 L339.13 420.8 L339.26 419.6 L339.38 416.7 L339.51 417.5 L339.63 418.3 L339.76 416.1 L339.88 415.1 L340.01 413.3 L340.13 414.3 L340.26 411.3 L340.38 412.4 L340.51 412.5 L340.63 411.6 L340.76 409.6 L340.88 410.9 L341.01 410.8 L341.13 406.9 L341.26 410.0 L341.38 409.3 L341.51 410.7 L341.63 408.9 L341.76 408.3 L341.88 406.2 L342.01 407.6 L342.13 407.4 L342.26 405.6 L342.38 404.6 L342.51 403.0 L342.63 403.7 L342.76 403.0 L342.88 403.6 L343.01 406.4 L343.13 406.3 L343.26 406.7 L343.38 409.3 L343.51 408.1 L343.63 410.0 L343.76 411.7 L343.88 412.0 L344.01 411.2 L344.13 414.0 L344.26 413.7 L344.38 414.1 L344.51 415.4 L344.63 415.8 L344.76 416.9 L344.88 415.4 L345.01 416.0 L345.13 420.0 L345.26 418.6 L345.38 418.5 L345.51 418.0 L345.63 416.7 L345.76 418.8 L345.88 422.7 L346.01 423.1 L346.13 421.3 L346.26 421.9 L346.38 422.8 L346.51 421.9 L346.63 423.6 L346.76 426.6 L346.88 426.8 L347.01 424.7 L347.13 427.7 L347.26 427.0 L347.38 426.2 L347.51 426.4 L347.63 427.3 L347.76 428.4 L347.88 432.2 L348.01 429.7 L348.13 428.7 L348.26 431.1 L348.38 430.8 L348.51 430.1 L348.63 431.1 L348.76 431.1 L348.88 431.0 L349.01 430.8 L349.13 430.2 L349.26 429.1 L349.38 427.5 L349.51 428.3 L349.63 426.6 L349.76 427.8 L349.88 426.1 L350.01 423.1 L350.13 425.9 L350.26 425.8 L350.38 421.5 L350.51 420.9 L350.63 420.8 L350.76 421.1 L350.88 420.4 L351.01 420.8 L351.13 421.1 L351.26 422.3 L351.38 424.3 L351.51 422.1 L351.63 425.0 L351.76 424.9 L351.88 423.9 L352.01 423.7 L352.13 427.5 L352.26 426.9 L352.38 428.1 L352.51 429.0 L352.63 428.2 L352.76 430.6 L352.88 429.4 L353.01 429.7 L353.13 429.2 L353.26 428.2 L353.38 425.1 L353.51 427.8 L353.63 426.9 L353.76 423.7 L353.88 422.6 L354.01 425.2 L354.13 425.6 L354.26 425.5 L354.38 423.4 L354.51 424.7 L354.63 423.9 L354.76 419.2 L354.88 419.7 L355.01 420.4 L355.13 418.7 L355.26 418.9 L355.38 418.3 L355.51 418.1 L355.63 418.3 L355.76 416.6 L355.88 417.0 L356.01 415.5 L356.13 415.3 L356.26 413.9 L356.38 413.3 L356.51 413.8 L356.63 413.1 L356.76 412.9 L356.88 416.8 L357.01 415.7 L357.13 412.8 L357.26 413.1 L357.38 414.0 L357.51 410.9 L357.63 409.4 L357.76 409.7 L357.88 410.9 L358.01 409.9 L358.13 409.1 L358.26 409.1 L358.38 409.5 L358.51 407.8 L358.63 408.1 L358.76 410.1 L358.88 409.2 L359.01 407.5 L359.13 406.6 L359.26 407.6 L359.38 403.9 L359.51 407.6 L359.63 405.2 L359.76 402.5 L359.88 404.0 L360.01 403.8 L360.13 403.5 L360.26 402.9 L360.38 404.6 L360.51 402.3 L360.63 402.2 L360.76 401.3 L360.88 404.1 L361.01 403.6 L361.13 402.5 L361.26 399.8 L361.38 401.4 L361.51 403.0 L361.63 397.5 L361.76 396.6 L361.88 396.2 L362.01 397.9 L362.13 397.1 L362.26 395.8 L362.38 394.4 L362.51 394.2 L362.63 396.0 L362.76 395.3 L362.88 394.4 L363.01 394.7 L363.13 394.7 L363.26 393.2 L363.38 393.6 L363.51 392.9 L363.63 394.2 L363.76 392.0 L363.88 391.2 L364.01 390.7 L364.13 390.4 L364.26 392.5 L364.38 388.0 L364.51 390.9 L364.63 392.9 L364.76 390.7 L364.88 392.6 L365.01 392.8 L365.13 389.8 L365.26 389.2 L365.38 388.4 L365.51 389.2 L365.63 388.6 L365.76 387.7 L365.88 387.8 L366.01 386.9 L366.13 388.7 L366.26 390.0 L366.38 386.8 L366.51 385.8 L366.63 387.0 L366.76 386.3 L366.88 387.1 L367.01 385.0 L367.13 386.6 L367.26 385.4 L367.38 385.6 L367.51 384.5 L367.63 385.0 L367.76 386.8 L367.88 388.4 L368.01 386.6 L368.13 383.6 L368.26 386.6 L368.38 386.5 L368.51 386.8 L368.63 385.5 L368.76 387.0 L368.88 389.0 L369.01 384.9 L369.13 386.2 L369.26 387.4 L369.38 387.3 L369.51 386.7 L369.63 388.4 L369.76 388.2 L369.88 387.9 L370.01 387.7 L370.13 386.1 L370.26 383.9 L370.38 382.3 L370.51 384.6 L370.63 382.7 L370.76 383.0 L370.88 384.2 L371.01 382.9 L371.13 381.4 L371.26 380.8 L371.38 380.7 L371.51 382.1 L371.63 380.4 L371.76 379.7 L371.88 379.6 L372.01 379.8 L372.13 382.2 L372.26 380.0 L372.38 379.3 L372.51 377.5 L372.63 378.5 L372.76 378.1 L372.88 377.4 L373.01 378.2 L373.13 380.1 L373.26 379.0 L373.38 377.6 L373.51 379.2 L373.63 377.1 L373.76 378.2 L373.88 377.5 L374.01 378.3 L374.13 377.4 L374.26 379.9 L374.38 380.8 L374.51 379.8 L374.63 381.1 L374.76 379.9 L374.88 378.5 L375.01 381.5 L375.13 379.5 L375.26 380.3 L375.38 380.3 L375.51 381.6 L375.63 380.9 L375.76 379.5 L375.88 378.9 L376.01 380.5 L376.13 380.0 L376.26 380.3 L376.38 380.8 L376.51 383.5 L376.63 383.0 L376.76 384.7 L376.88 388.4 L377.01 387.4 L377.13 388.2 L377.26 389.6 L377.38 386.8 L377.51 388.8 L377.63 389.8 L377.76 389.6 L377.88 391.7 L378.01 391.6 L378.13 392.4 L378.26 392.4 L378.38 390.8 L378.51 389.1 L378.63 388.8 L378.76 389.6 L378.88 388.7 L379.01 388.4 L379.13 386.6 L379.26 383.3 L379.38 382.1 L379.51 381.7 L379.63 379.4 L379.76 379.3 L379.88 379.8 L380.01 379.3 L380.13 378.7 L380.26 380.1 L380.38 380.6 L380.51 380.1 L380.63 387.0 L380.76 386.9 L380.88 389.6 L381.01 386.5 L381.13 389.1 L381.26 390.3 L381.38 392.5 L381.51 390.0 L381.63 391.2 L381.76 391.2 L381.88 392.5 L382.01 393.1 L382.13 400.4 L382.26 401.1 L382.38 403.1 L382.51 405.7 L382.63 405.8 L382.76 411.7 L382.88 412.2 L383.01 414.6 L383.13 417.4 L383.26 416.8 L383.38 417.2 L383.51 417.4 L383.63 415.3 L383.76 416.3 L383.88 414.9 L384.01 411.0 L384.13 411.5 L384.26 405.3 L384.38 411.4 L384.51 408.8 L384.63 407.7 L384.76 408.0 L384.88 405.7 L385.01 404.9 L385.13 406.2 L385.26 408.3 L385.38 408.0 L385.51 409.0 L385.63 413.3 L385.76 411.1 L385.88 416.0 L386.01 415.2 L386.13 413.2 L386.26 418.4 L386.38 418.4 L386.51 418.8 L386.63 418.6 L386.76 420.2 L386.88 423.3 L387.01 423.0 L387.13 424.6 L387.26 427.3 L387.38 426.5 L387.51 424.6 L387.63 423.8 L387.76 420.1 L387.88 415.5 L388.01 414.4 L388.13 414.6 L388.26 411.6 L388.38 407.0 L388.51 408.9 L388.63 408.2 L388.76 405.5 L388.88 402.3 L389.01 401.2 L389.13 401.7 L389.26 399.3 L389.38 400.0 L389.51 398.5 L389.63 401.5 L389.76 400.7 L389.88 404.2 L390.01 401.2 L390.13 405.3 L390.26 407.1 L390.38 408.4 L390.51 409.1 L390.63 407.8 L390.76 408.4 L390.88 407.4 L391.01 410.0 L391.13 409.8 L391.26 409.3 L391.38 411.5 L391.51 411.7 L391.63 412.0 L391.76 413.4 L391.88 410.9 L392.01 408.6 L392.13 404.6 L392.26 402.6 L392.38 405.3 L392.51 406.3 L392.63 404.6 L392.76 404.1 L392.88 404.2 L393.01 404.0 L393.13 402.0 L393.26 401.0 L393.38 400.3 L393.51 400.9 L393.63 399.6 L393.76 398.8 L393.88 395.1 L394.01 395.1 L394.13 400.1 L394.26 398.3 L394.38 397.8 L394.51 396.3 L394.63 397.6 L394.76 396.6 L394.88 395.1 L395.01 391.7 L395.13 394.6 L395.26 392.7 L395.38 394.6 L395.51 396.0 L395.63 394.6 L395.76 392.3 L395.88 391.6 L396.01 391.2 L396.13 391.5 L396.26 391.4 L396.38 390.6 L396.51 390.2 L396.63 388.0 L396.76 386.8 L396.88 389.8 L397.01 389.1 L397.13 391.3 L397.26 386.0 L397.38 385.0 L397.51 384.6 L397.63 385.8 L397.76 385.6 L397.88 384.1 L398.01 383.8 L398.13 382.7 L398.26 382.1 L398.38 381.5 L398.51 381.5 L398.63 382.8 L398.76 383.0 L398.88 385.2 L399.01 382.0 L399.13 383.3 L399.26 384.2 L399.38 384.9 L399.51 385.8 L399.63 382.7 L399.76 385.8 L399.88 384.4 L400.01 385.0 L400.13 385.5 L400.26 385.4 L400.38 385.9 L400.51 385.3 L400.63 386.0 L400.76 386.1 L400.88 386.2 L401.01 385.7 L401.13 383.9 L401.26 384.5 L401.38 385.0 L401.51 380.0 L401.63 382.4 L401.76 384.8 L401.88 380.6 L402.01 382.7 L402.13 380.5 L402.26 380.5 L402.38 379.4 L402.51 379.2 L402.63 379.2 L402.76 379.5 L402.88 380.1 L403.01 380.1 L403.13 383.3 L403.26 381.3 L403.38 380.2 L403.51 380.5 L403.63 382.5 L403.76 381.7 L403.88 384.4 L404.01 384.9 L404.13 385.8 L404.26 384.5 L404.38 385.5 L404.51 386.4 L404.63 386.0 L404.76 387.6 L404.88 387.8 L405.01 388.8 L405.13 387.9 L405.26 389.7 L405.38 391.1 L405.51 392.4 L405.63 390.6 L405.76 391.6 L405.88 392.9 L406.01 392.2 L406.13 391.7 L406.26 391.1 L406.38 393.4 L406.51 392.5 L406.63 394.6 L406.76 396.4 L406.88 397.0 L407.01 396.3 L407.13 395.8 L407.26 397.1 L407.38 397.1 L407.51 397.9 L407.63 397.9 L407.76 398.8 L407.88 396.9 L408.01 397.1 L408.13 398.0 L408.26 396.3 L408.38 396.1 L408.51 396.6 L408.63 395.8 L408.76 396.6 L408.88 396.1 L409.01 396.8 L409.13 392.9 L409.26 392.3 L409.38 393.4 L409.51 391.2 L409.63 391.5 L409.76 390.0 L409.88 390.5 L410.01 389.0 L410.13 388.0 L410.26 388.8 L410.38 389.6 L410.51 390.3 L410.63 389.0 L410.76 387.5 L410.88 387.9 L411.01 388.2 L411.13 386.3 L411.26 386.1 L411.38 385.4 L411.51 384.7 L411.63 385.1 L411.76 384.9 L411.88 384.4 L412.01 385.8 L412.13 384.5 L412.26 385.6 L412.38 386.2 L412.51 390.0 L412.63 387.5 L412.76 388.2 L412.88 387.4 L413.01 388.2 L413.13 386.9 L413.26 387.7 L413.38 389.1 L413.51 389.0 L413.63 388.9 L413.76 389.1 L413.88 388.3 L414.01 387.0 L414.13 386.2 L414.26 387.7 L414.38 385.3 L414.51 386.8 L414.63 386.9 L414.76 385.5 L414.88 384.9 L415.01 385.0 L415.13 383.4 L415.26 382.2 L415.38 381.5 L415.51 378.8 L415.63 381.4 L415.76 379.9 L415.88 377.8 L416.01 378.8 L416.13 378.0 L416.26 377.0 L416.38 377.5 L416.51 376.5 L416.63 376.5 L416.76 378.1 L416.88 375.4 L417.01 378.1 L417.13 375.0 L417.26 375.2 L417.38 376.6 L417.51 374.5 L417.63 374.7 L417.76 373.5 L417.88 374.5 L418.01 373.7 L418.13 374.3 L418.26 374.8 L418.38 373.9 L418.51 373.2 L418.63 375.7 L418.76 375.0 L418.88 379.2 L419.01 377.9 L419.13 377.9 L419.26 375.9 L419.38 378.7 L419.51 379.4 L419.63 380.0 L419.76 380.7 L419.88 380.6 L420.01 383.1 L420.13 381.9 L420.26 380.7 L420.38 383.8 L420.51 380.6 L420.63 382.0 L420.76 386.3 L420.88 387.1 L421.01 387.6 L421.13 386.3 L421.26 388.1 L421.38 389.5 L421.51 390.0 L421.63 390.2 L421.76 390.8 L421.88 390.9 L422.01 390.4 L422.13 389.9 L422.26 389.0 L422.38 386.8 L422.51 384.4 L422.63 384.9 L422.76 385.0 L422.88 383.3 L423.01 381.8 L423.13 383.4 L423.26 381.8 L423.38 381.0 L423.51 379.9 L423.63 378.0 L423.76 377.6 L423.88 377.7 L424.01 377.9 L424.13 379.0 L424.26 376.4 L424.38 375.5 L424.51 374.2 L424.63 375.5 L424.76 375.0 L424.88 375.2 L425.01 376.6 L425.13 375.0 L425.26 373.2 L425.38 374.8 L425.51 373.9 L425.63 371.8 L425.76 372.7 L425.88 372.0 L426.01 371.3 L426.13 371.0 L426.26 370.2 L426.38 369.4 L426.51 370.5 L426.63 367.9 L426.76 367.7 L426.88 367.3 L427.01 366.6 L427.13 365.8 L427.26 366.7 L427.38 366.4 L427.51 366.9 L427.63 367.3 L427.76 367.2 L427.88 366.2 L428.01 364.6 L428.13 364.4 L428.26 363.2 L428.38 364.0 L428.51 362.9 L428.63 361.5 L428.76 362.2 L428.88 364.4 L429.01 362.5 L429.13 363.3 L429.26 362.3 L429.38 359.1 L429.51 360.4 L429.63 360.6 L429.76 358.7 L429.88 360.6 L430.01 360.7 L430.13 359.8 L430.26 358.6 L430.38 358.4 L430.51 358.0 L430.63 359.0 L430.76 358.3 L430.88 356.6 L431.01 357.6 L431.13 359.9 L431.26 356.5 L431.38 357.2 L431.51 356.2 L431.63 354.2 L431.76 355.9 L431.88 355.6 L432.01 356.5 L432.13 354.3 L432.26 353.2 L432.38 353.3 L432.51 354.2 L432.63 355.9 L432.76 356.8 L432.88 356.2 L433.01 356.9 L433.13 357.2 L433.26 358.0 L433.38 357.9 L433.51 357.5 L433.63 357.1 L433.76 357.4 L433.88 358.4 L434.01 360.1 L434.13 360.5 L434.26 361.6 L434.38 362.2 L434.51 361.3 L434.63 360.2 L434.76 358.5 L434.88 359.7 L435.01 358.3 L435.13 357.9 L435.26 357.5 L435.38 354.8 L435.51 354.2 L435.63 355.2 L435.76 354.6 L435.88 353.8 L436.01 352.0 L436.13 352.5 L436.26 353.0 L436.38 352.5 L436.51 352.4 L436.63 350.9 L436.76 350.0 L436.88 348.7 L437.01 348.3 L437.13 347.7 L437.26 348.0 L437.38 350.0 L437.51 349.0 L437.63 347.5 L437.76 348.1 L437.88 345.3 L438.01 346.0 L438.13 343.4 L438.26 346.5 L438.38 344.3 L438.51 344.2 L438.63 344.4 L438.76 343.9 L438.88 344.5 L439.01 344.4 L439.13 344.8 L439.26 346.0 L439.38 347.5 L439.51 348.8 L439.63 347.1 L439.76 350.5 L439.88 350.1 L440.01 350.5 L440.13 352.3 L440.26 350.5 L440.38 351.5 L440.51 351.0 L440.63 348.8 L440.76 347.5 L440.88 349.4 L441.01 348.3 L441.13 349.2 L441.26 349.1 L441.38 345.4 L441.51 345.5 L441.63 346.6 L441.76 343.4 L441.88 344.0 L442.01 343.1 L442.13 341.5 L442.26 340.7 L442.38 340.6 L442.51 340.2 L442.63 339.0 L442.76 339.8 L442.88 338.2 L443.01 338.0 L443.13 333.6 L443.26 336.3 L443.38 337.0 L443.51 337.3 L443.63 333.3 L443.76 333.9 L443.88 332.8 L444.01 332.0 L444.13 332.0 L444.26 334.0 L444.38 333.8 L444.51 333.6 L444.63 334.5 L444.76 334.7 L444.88 334.8 L445.01 336.7 L445.13 335.3 L445.26 337.0 L445.38 335.8 L445.51 337.3 L445.63 338.5 L445.76 337.6 L445.88 336.9 L446.01 337.9 L446.13 338.4 L446.26 338.3 L446.38 338.0 L446.51 336.8 L446.63 338.4 L446.76 335.7 L446.88 336.1 L447.01 333.9 L447.13 333.8 L447.26 335.7 L447.38 331.2 L447.51 334.3 L447.63 331.0 L447.76 330.2 L447.88 330.1 L448.01 329.7 L448.13 332.2 L448.26 331.1 L448.38 325.3 L448.51 324.6 L448.63 327.6 L448.76 325.9 L448.88 324.2 L449.01 324.9 L449.13 325.9 L449.26 323.5 L449.38 324.3 L449.51 322.3 L449.63 323.4 L449.76 323.6 L449.88 321.6 L450.01 320.2 L450.13 319.4 L450.26 319.4 L450.38 320.1 L450.51 321.6 L450.63 319.2 L450.76 317.6 L450.88 319.0 L451.01 319.4 L451.13 318.3 L451.26 317.3 L451.38 317.0 L451.51 316.5 L451.63 316.6 L451.76 316.9 L451.88 316.6 L452.01 317.0 L452.13 315.0 L452.26 317.4 L452.38 318.1 L452.51 319.8 L452.63 318.3 L452.76 317.1 L452.88 318.0 L453.01 318.7 L453.13 317.6 L453.26 318.6 L453.38 318.3 L453.51 319.4 L453.63 320.0 L453.76 317.9 L453.88 319.6 L454.01 317.1 L454.13 315.3 L454.26 316.8 L454.38 316.6 L454.51 315.3 L454.63 314.7 L454.76 313.0 L454.88 312.6 L455.01 311.9 L455.13 311.0 L455.26 310.5 L455.38 312.4 L455.51 311.9 L455.63 311.2 L455.76 311.1 L455.88 312.3 L456.01 311.5 L456.13 307.7 L456.26 308.5 L456.38 309.2 L456.51 309.3 L456.63 308.7 L456.76 308.5 L456.88 308.4 L457.01 306.9 L457.13 306.6 L457.26 306.4 L457.38 306.2 L457.51 305.8 L457.63 302.9 L457.76 304.5 L457.88 302.2 L458.01 303.6 L458.13 302.4 L458.26 302.6 L458.38 302.5 L458.51 303.6 L458.63 302.7 L458.76 304.9 L458.88 305.7 L459.01 307.6 L459.13 310.2 L459.26 307.8 L459.38 309.3 L459.51 309.7 L459.63 312.3 L459.76 317.0 L459.88 318.3 L460.01 318.2 L460.13 316.3 L460.26 314.3 L460.38 312.9 L460.51 311.3 L460.63 310.7 L460.76 307.7 L460.88 305.7 L461.01 304.9 L461.13 302.4 L461.26 300.8 L461.38 300.1 L461.51 302.7 L461.63 300.6 L461.76 300.6 L461.88 297.8 L462.01 297.8 L462.13 297.9 L462.26 297.8 L462.38 298.4 L462.51 299.1 L462.63 298.7 L462.76 299.2 L462.88 299.3 L463.01 298.1 L463.13 300.7 L463.26 301.8 L463.38 299.3 L463.51 297.9 L463.63 300.2 L463.76 303.3 L463.88 299.9 L464.01 300.0 L464.13 302.9 L464.26 302.8 L464.38 302.0 L464.51 303.5 L464.63 304.2 L464.76 304.1 L464.88 304.0 L465.01 306.5 L465.13 304.8 L465.26 308.6 L465.38 308.6 L465.51 308.7 L465.63 310.0 L465.76 309.5 L465.88 309.4 L466.01 310.4 L466.13 313.1 L466.26 313.5 L466.38 313.4 L466.51 313.6 L466.63 313.1 L466.76 314.4 L466.88 314.6 L467.01 314.6 L467.13 315.6 L467.26 317.5 L467.38 317.2 L467.51 317.2 L467.63 316.0 L467.76 318.9 L467.88 317.2 L468.01 316.8 L468.13 318.5 L468.26 317.7 L468.38 317.8 L468.51 317.0 L468.63 316.8 L468.76 316.0 L468.88 315.8 L469.01 313.1 L469.13 313.2 L469.26 311.8 L469.38 309.8 L469.51 311.2 L469.63 309.5 L469.76 308.3 L469.88 306.3 L470.01 308.7 L470.13 307.5 L470.26 307.5 L470.38 307.1 L470.51 306.0 L470.63 304.0 L470.76 304.8 L470.88 303.4 L471.01 301.9 L471.13 302.2 L471.26 301.6 L471.38 301.2 L471.51 301.2 L471.63 299.2 L471.76 299.5 L471.88 299.7 L472.01 299.8 L472.13 297.3 L472.26 296.7 L472.38 299.3 L472.51 297.3 L472.63 295.9 L472.76 296.4 L472.88 301.7 L473.01 299.6 L473.13 302.8 L473.26 302.8 L473.38 305.2 L473.51 304.4 L473.63 307.1 L473.76 307.7 L473.88 309.8 L474.01 308.6 L474.13 310.3 L474.26 310.1 L474.38 314.3 L474.51 312.9 L474.63 311.8 L474.76 312.2 L474.88 311.0 L475.01 313.5 L475.13 313.3 L475.26 312.1 L475.38 313.3 L475.51 313.8 L475.63 311.8 L475.76 312.0 L475.88 310.4 L476.01 311.3 L476.13 310.3 L476.26 309.9 L476.38 309.4 L476.51 309.2 L476.63 307.5 L476.76 305.2 L476.88 303.1 L477.01 301.4 L477.13 303.0 L477.26 304.0 L477.38 302.5 L477.51 302.3 L477.63 300.6 L477.76 302.8 L477.88 305.0 L478.01 305.3 L478.13 306.5 L478.26 305.9 L478.38 307.1 L478.51 308.3 L478.63 310.4 L478.76 308.6 L478.88 309.8 L479.01 311.9 L479.13 312.4 L479.26 311.9 L479.38 312.5 L479.51 314.1 L479.63 315.6 L479.76 316.8 L479.88 318.3 L480.01 318.5 L480.13 318.6 L480.26 319.4 L480.38 317.8 L480.51 322.3 L480.63 322.6 L480.76 324.3 L480.88 326.4 L481.01 326.3 L481.13 325.0 L481.26 322.7 L481.38 322.3 L481.51 321.5 L481.63 323.2 L481.76 314.7 L481.88 312.6 L482.01 312.2 L482.13 312.0 L482.26 311.5 L482.38 310.1 L482.51 308.3 L482.63 307.1 L482.76 305.5 L482.88 307.3 L483.01 306.1 L483.13 307.7 L483.26 305.8 L483.38 302.4 L483.51 303.5 L483.63 304.3 L483.76 299.0 L483.88 298.9 L484.01 300.9 L484.13 300.7 L484.26 300.0 L484.38 299.4 L484.51 297.1 L484.63 299.4 L484.76 300.2 L484.88 301.4 L485.01 302.4 L485.13 302.3 L485.26 302.3 L485.38 303.8 L485.51 305.3 L485.63 306.1 L485.76 306.2 L485.88 305.2 L486.01 307.4 L486.13 306.5 L486.26 305.8 L486.38 306.0 L486.51 303.7 L486.63 302.3 L486.76 300.8 L486.88 297.2 L487.01 298.7 L487.13 296.3 L487.26 295.8 L487.38 293.3 L487.51 295.3 L487.63 293.1 L487.76 292.7 L487.88 293.3 L488.01 292.1 L488.13 292.8 L488.26 292.0 L488.38 292.4 L488.51 296.8 L488.63 300.1 L488.76 298.5 L488.88 300.9 L489.01 300.8 L489.13 300.4 L489.26 299.6 L489.38 300.5 L489.51 302.0 L489.63 303.3 L489.76 301.8 L489.88 299.5 L490.01 303.0 L490.13 299.3 L490.26 300.8 L490.38 298.4 L490.51 295.9 L490.63 298.5 L490.76 299.1 L490.88 300.4 L491.01 295.6 L491.13 293.9 L491.26 294.6 L491.38 294.3 L491.51 293.1 L491.63 292.9 L491.76 293.8 L491.88 290.9 L492.01 291.5 L492.13 291.2 L492.26 292.1 L492.38 290.0 L492.51 288.8 L492.63 290.2 L492.76 291.0 L492.88 290.7 L493.01 289.6 L493.13 288.1 L493.26 287.8 L493.38 288.5 L493.51 286.0 L493.63 286.1 L493.76 286.3 L493.88 284.9 L494.01 284.2 L494.13 288.8 L494.26 284.2 L494.38 283.2 L494.51 280.3 L494.63 282.4 L494.76 283.6 L494.88 283.6 L495.01 282.8 L495.13 282.4 L495.26 282.5 L495.38 282.2 L495.51 283.5 L495.63 283.6 L495.76 281.4 L495.88 282.4 L496.01 279.8 L496.13 279.1 L496.26 278.3 L496.38 278.8 L496.51 280.9 L496.63 281.1 L496.76 280.7 L496.88 282.1 L497.01 281.4 L497.13 281.4 L497.26 279.1 L497.38 283.2 L497.51 285.7 L497.63 287.3 L497.76 289.4 L497.88 287.4 L498.01 289.8 L498.13 289.8 L498.26 290.2 L498.38 290.0 L498.51 289.2 L498.63 289.0 L498.76 285.6 L498.88 284.0 L499.01 285.5 L499.13 288.1 L499.26 288.0 L499.38 284.2 L499.51 284.4 L499.63 283.9 L499.76 284.3 L499.88 282.8 L500.01 281.3 L500.13 282.2 L500.26 280.1 L500.38 280.8 L500.51 281.2 L500.63 280.5 L500.76 276.7 L500.88 279.4 L501.01 277.9 L501.13 277.1 L501.26 277.8 L501.38 281.2 L501.51 278.2 L501.63 278.1 L501.76 277.3 L501.88 276.9 L502.01 273.5 L502.13 273.3 L502.26 273.3 L502.38 273.5 L502.51 274.4 L502.63 274.7 L502.76 275.3 L502.88 274.2 L503.01 276.7 L503.13 276.5 L503.26 276.0 L503.38 277.5 L503.51 279.5 L503.63 277.3 L503.76 277.3 L503.88 277.6 L504.01 278.7 L504.13 279.8 L504.26 278.2 L504.38 281.1 L504.51 280.6 L504.63 282.0 L504.76 280.6 L504.88 282.3 L505.01 283.4 L505.13 284.9 L505.26 285.0 L505.38 285.5 L505.51 283.8 L505.63 282.9 L505.76 282.0 L505.88 285.4 L506.01 287.2 L506.13 287.2 L506.26 288.0 L506.38 289.8 L506.51 290.4 L506.63 294.0 L506.76 297.7 L506.88 296.5 L507.01 300.3 L507.13 302.4 L507.26 299.9 L507.38 305.1 L507.51 303.9 L507.63 304.5 L507.76 306.0 L507.88 310.8 L508.01 311.1 L508.13 313.3 L508.26 310.0 L508.38 309.8 L508.51 306.7 L508.63 307.5 L508.76 305.5 L508.88 303.9 L509.01 307.3 L509.13 303.1 L509.26 303.4 L509.38 303.4 L509.51 301.4 L509.63 299.8 L509.76 301.1 L509.88 303.8 L510.01 305.1 L510.13 309.7 L510.26 307.0 L510.38 308.4 L510.51 308.5 L510.63 311.7 L510.76 313.9 L510.88 316.8 L511.01 314.6 L511.13 314.0 L511.26 312.8 L511.38 312.3 L511.51 313.4 L511.63 309.9 L511.76 304.5 L511.88 300.9 L512.01 303.9 L512.13 304.1 L512.26 300.0 L512.38 297.2 L512.51 299.2 L512.63 300.1 L512.76 299.0 L512.88 297.4 L513.01 296.3 L513.13 296.6 L513.26 296.9 L513.38 292.7 L513.51 296.2 L513.63 296.0 L513.76 295.8 L513.88 292.4 L514.01 295.1 L514.13 294.5 L514.26 296.1 L514.38 292.6 L514.51 294.8 L514.63 293.5 L514.76 294.7 L514.88 294.2 L515.01 291.5 L515.13 292.6 L515.26 291.7 L515.38 292.9 L515.51 292.3 L515.63 294.5 L515.76 290.6 L515.88 291.7 L516.01 295.0 L516.13 301.0 L516.26 296.6 L516.38 297.1 L516.51 296.4 L516.63 297.8 L516.76 304.4 L516.88 300.9 L517.01 300.1 L517.13 301.9 L517.26 303.9 L517.38 302.5 L517.51 304.0 L517.63 307.7 L517.76 305.1 L517.88 301.3 L518.01 304.4 L518.13 308.5 L518.26 307.7 L518.38 307.5 L518.51 308.6 L518.63 309.2 L518.76 310.8 L518.88 310.1 L519.01 313.2 L519.13 314.0 L519.26 312.5 L519.38 316.0 L519.51 312.4 L519.63 313.9 L519.76 320.0 L519.88 324.9 L520.01 324.0 L520.13 324.9 L520.26 326.1 L520.38 327.4 L520.51 329.4 L520.63 334.2 L520.76 335.2 L520.88 340.1 L521.01 342.5 L521.13 339.4 L521.26 341.8 L521.38 344.1 L521.51 344.9 L521.63 343.6 L521.76 340.6 L521.88 339.7 L522.01 341.0 L522.13 339.8 L522.26 334.9 L522.38 332.7 L522.51 328.4 L522.63 328.7 L522.76 327.7 L522.88 325.3 L523.01 324.0 L523.13 323.2 L523.26 323.9 L523.38 321.5 L523.51 322.7 L523.63 323.7 L523.76 320.1 L523.88 322.8 L524.01 323.7 L524.13 321.4 L524.26 319.1 L524.38 319.2 L524.51 316.5 L524.63 316.1 L524.76 318.3 L524.88 315.0 L525.01 313.6 L525.13 314.8 L525.26 313.9 L525.38 311.1 L525.51 311.9 L525.63 313.5 L525.76 313.9 L525.88 314.6 L526.01 312.1 L526.13 311.2 L526.26 309.6 L526.38 313.1 L526.51 312.7 L526.63 305.5 L526.76 308.4 L526.88 309.0 L527.01 310.6 L527.13 306.9 L527.26 306.5 L527.38 307.3 L527.51 305.6 L527.63 305.9 L527.76 304.5 L527.88 304.2 L528.01 301.3 L528.13 301.5 L528.26 300.1 L528.38 300.6 L528.51 301.9 L528.63 301.1 L528.76 302.0 L528.88 305.2 L529.01 306.1 L529.13 304.3 L529.26 302.8 L529.38 300.3 L529.51 302.2 L529.63 302.4 L529.76 305.6 L529.88 305.1 L530.01 306.1 L530.13 306.9 L530.26 305.8 L530.38 305.4 L530.51 305.5 L530.63 303.3 L530.76 302.8 L530.88 300.3 L531.01 300.0 L531.13 302.5 L531.26 298.5 L531.38 297.8 L531.51 295.9 L531.63 296.5 L531.76 295.3 L531.88 294.0 L532.01 292.8 L532.13 292.7 L532.26 294.3 L532.38 295.7 L532.51 296.5 L532.63 299.3 L532.76 300.5 L532.88 299.6 L533.01 302.7 L533.13 306.0 L533.26 307.2 L533.38 308.4 L533.51 309.4 L533.63 310.5 L533.76 310.9 L533.88 309.0 L534.01 307.7 L534.13 305.6 L534.26 304.6 L534.38 302.2 L534.51 301.5 L534.63 300.1 L534.76 294.8 L534.88 296.2 L535.01 293.3 L535.13 290.9 L535.26 288.8 L535.38 288.1 L535.51 286.8 L535.63 286.9 L535.76 286.9 L535.88 286.9 L536.01 286.3 L536.13 284.0 L536.26 286.4 L536.38 286.3 L536.51 281.9 L536.63 281.5 L536.76 282.6 L536.88 283.0 L537.01 284.2 L537.13 282.3 L537.26 281.8 L537.38 279.7 L537.51 278.9 L537.63 280.3 L537.76 280.1 L537.88 279.7 L538.01 278.8 L538.13 278.9 L538.26 279.2 L538.38 278.6 L538.51 278.4 L538.63 277.4 L538.76 278.9 L538.88 277.7 L539.01 280.1 L539.13 276.4 L539.26 279.2 L539.38 277.2 L539.51 279.0 L539.63 278.3 L539.76 278.3 L539.88 277.2 L540.01 277.4 L540.13 276.0 L540.26 277.2 L540.38 277.2 L540.51 274.5 L540.63 275.9 L540.76 274.9 L540.88 276.1 L541.01 275.7 L541.13 276.6 L541.26 277.8 L541.38 277.4 L541.51 279.8 L541.63 277.3 L541.76 279.1 L541.88 278.8 L542.01 278.9 L542.13 279.7 L542.26 279.2 L542.38 283.0 L542.51 282.3 L542.63 281.2 L542.76 281.7 L542.88 281.9 L543.01 283.6 L543.13 283.5 L543.26 283.7 L543.38 285.0 L543.51 286.1 L543.63 288.0 L543.76 287.2 L543.88 289.4 L544.01 290.1 L544.13 290.8 L544.26 291.4 L544.38 295.8 L544.51 293.6 L544.63 295.5 L544.76 296.8 L544.88 295.8 L545.01 291.4 L545.13 288.6 L545.26 285.4 L545.38 282.7 L545.51 279.7 L545.63 275.1 L545.76 271.3 L545.88 268.4 L546.01 266.9 L546.13 267.2 L546.26 265.7 L546.38 261.9 L546.51 263.7 L546.63 262.1 L546.76 260.9 L546.88 256.9 L547.01 254.7 L547.13 253.9 L547.26 252.1 L547.38 249.5 L547.51 248.8 L547.63 248.3 L547.76 248.3 L547.88 249.1 L548.01 247.1 L548.13 246.9 L548.26 248.7 L548.38 247.4 L548.51 248.7 L548.63 247.6 L548.76 248.6 L548.88 247.2 L549.01 248.2 L549.13 247.7 L549.26 246.8 L549.38 247.9 L549.51 247.9 L549.63 246.8 L549.76 246.5 L549.88 246.4 L550.01 246.5 L550.13 246.7 L550.26 247.2 L550.38 247.0 L550.51 247.4 L550.63 248.3 L550.76 249.5 L550.88 250.5 L551.01 248.7 L551.13 251.8 L551.26 251.5 L551.38 247.8 L551.51 252.4 L551.63 249.4 L551.76 252.2 L551.88 252.2 L552.01 253.0 L552.13 253.0 L552.26 253.1 L552.38 253.6 L552.51 254.1 L552.63 251.6 L552.76 252.5 L552.88 251.3 L553.01 250.5 L553.13 248.0 L553.26 247.1 L553.38 250.2 L553.51 247.8 L553.63 246.0 L553.76 246.9 L553.88 245.4 L554.01 244.4 L554.13 242.8 L554.26 242.2 L554.38 243.5 L554.51 241.8 L554.63 242.2 L554.76 242.8 L554.88 245.8 L555.01 246.8 L555.13 248.3 L555.26 246.6 L555.38 248.6 L555.51 249.3 L555.63 252.3 L555.76 250.2 L555.88 251.0 L556.01 250.5 L556.13 253.0 L556.26 252.4 L556.38 252.8 L556.51 251.7 L556.63 250.8 L556.76 249.7 L556.88 248.2 L557.01 247.1 L557.13 249.9 L557.26 248.1 L557.38 247.9 L557.51 245.3 L557.63 242.2 L557.76 243.3 L557.88 242.5 L558.01 241.5 L558.13 243.3 L558.26 241.8 L558.38 241.4 L558.51 242.2 L558.63 241.7 L558.76 242.8 L558.88 244.1 L559.01 245.2 L559.13 246.2 L559.26 245.6 L559.38 248.0 L559.51 248.3 L559.63 246.7 L559.76 248.9 L559.88 247.3 L560.01 247.3 L560.13 245.1 L560.26 246.2 L560.38 249.0 L560.51 250.5 L560.63 249.4 L560.76 249.5 L560.88 250.0 L561.01 250.5 L561.13 250.4 L561.26 248.8 L561.38 250.3 L561.51 246.8 L561.63 244.6 L561.76 245.9 L561.88 248.2 L562.01 245.0 L562.13 247.1 L562.26 241.7 L562.38 244.3 L562.51 241.2 L562.63 241.3 L562.76 242.0 L562.88 239.2 L563.01 240.0 L563.13 238.6 L563.26 238.3 L563.38 237.5 L563.51 237.7 L563.63 237.8 L563.76 237.0 L563.88 236.4 L564.01 236.1 L564.13 237.9 L564.26 238.2 L564.38 239.4 L564.51 241.0 L564.63 243.3 L564.76 239.7 L564.88 239.8 L565.01 241.3 L565.13 240.9 L565.26 239.4 L565.38 241.1 L565.51 240.5 L565.63 240.9 L565.76 239.5 L565.88 238.1 L566.01 240.0 L566.13 238.6 L566.26 237.6 L566.38 236.8 L566.51 236.5 L566.63 236.4 L566.76 234.4 L566.88 233.2 L567.01 233.5 L567.13 232.8 L567.26 232.1 L567.38 231.3 L567.51 231.9 L567.63 232.7 L567.76 232.9 L567.88 233.3 L568.01 233.7 L568.13 238.5 L568.26 238.5 L568.38 239.3 L568.51 238.6 L568.63 239.2 L568.76 242.8 L568.88 242.3 L569.01 244.6 L569.13 245.9 L569.26 247.1 L569.38 248.5 L569.51 247.9 L569.63 246.8 L569.76 246.6 L569.88 243.6 L570.01 245.7 L570.13 243.6 L570.26 242.1 L570.38 239.7 L570.51 237.8 L570.63 237.5 L570.76 239.3 L570.88 236.6 L571.01 232.9 L571.13 235.5 L571.26 231.6 L571.38 231.3 L571.51 230.4 L571.63 230.1 L571.76 229.3 L571.88 228.3 L572.01 224.5 L572.13 225.3 L572.26 225.1 L572.38 224.5 L572.51 224.8 L572.63 224.5 L572.76 223.2 L572.88 221.1 L573.01 222.4 L573.13 220.1 L573.26 218.6 L573.38 216.3 L573.51 216.0 L573.63 214.8 L573.76 216.7 L573.88 216.8 L574.01 216.6 L574.13 218.7 L574.26 216.3 L574.38 215.7 L574.51 218.1 L574.63 216.3 L574.76 219.7 L574.88 218.3 L575.01 222.1 L575.13 220.6 L575.26 221.0 L575.38 221.3 L575.51 220.0 L575.63 219.3 L575.76 219.7 L575.88 221.7 L576.01 220.7 L576.13 219.3 L576.26 217.9 L576.38 218.4 L576.51 219.2 L576.63 219.3 L576.76 214.7 L576.88 214.9 L577.01 215.9 L577.13 210.7 L577.26 213.3 L577.38 212.1 L577.51 210.0 L577.63 210.6 L577.76 210.8 L577.88 209.7 L578.01 209.6 L578.13 207.6 L578.26 209.7 L578.38 206.2 L578.51 205.5 L578.63 206.1 L578.76 207.9 L578.88 205.8 L579.01 205.2 L579.13 208.0 L579.26 206.0 L579.38 204.7 L579.51 211.1 L579.63 206.8 L579.76 203.9 L579.88 204.0 L580.01 206.4 L580.13 205.5 L580.26 206.3 L580.38 204.6 L580.51 203.6 L580.63 203.6 L580.76 200.7 L580.88 198.1 L581.01 200.3 L581.13 198.9 L581.26 202.0 L581.38 203.1 L581.51 202.8 L581.63 197.7 L581.76 199.4 L581.88 197.7 L582.01 194.5 L582.13 196.9 L582.26 193.3 L582.38 193.0 L582.51 196.3 L582.63 196.9 L582.76 200.0 L582.88 203.3 L583.01 200.3 L583.13 204.1 L583.26 207.2 L583.38 204.7 L583.51 202.9 L583.63 209.5 L583.76 212.0 L583.88 219.1 L584.01 216.3 L584.13 216.9 L584.26 218.5 L584.38 218.9 L584.51 217.9 L584.63 215.8 L584.76 215.0 L584.88 213.6 L585.01 212.6 L585.13 211.4 L585.26 209.4 L585.38 207.4 L585.51 203.3 L585.63 204.4 L585.76 198.4 L585.88 198.7 L586.01 198.2 L586.13 193.3 L586.26 195.1 L586.38 198.6 L586.51 198.2 L586.63 198.2 L586.76 198.5 L586.88 204.5 L587.01 208.3 L587.13 204.5 L587.26 204.8 L587.38 205.9 L587.51 210.1 L587.63 207.3 L587.76 210.9 L587.88 215.5 L588.01 214.9 L588.13 215.7 L588.26 214.3 L588.38 214.4 L588.51 211.9 L588.63 212.6 L588.76 210.5 L588.88 209.4 L589.01 206.4 L589.13 209.2 L589.26 204.9 L589.38 202.6 L589.51 198.4 L589.63 201.9 L589.76 200.3 L589.88 200.9 L590.01 198.1 L590.13 196.7 L590.26 199.7 L590.38 196.3 L590.51 195.3 L590.63 195.4 L590.76 194.5 L590.88 191.4 L591.01 192.4 L591.13 194.5 L591.26 193.0 L591.38 193.4 L591.51 190.8 L591.63 188.0 L591.76 187.8 L591.88 187.6 L592.01 186.4 L592.13 186.0 L592.26 184.0 L592.38 183.4 L592.51 182.3 L592.63 187.2 L592.76 180.5 L592.88 179.9 L593.01 181.3 L593.13 180.6 L593.26 178.8 L593.38 179.5 L593.51 173.2 L593.63 174.3 L593.76 173.2 L593.88 176.4 L594.01 175.7 L594.13 173.3 L594.26 171.4 L594.38 171.3 L594.51 170.7 L594.63 173.2 L594.76 172.3 L594.88 175.0 L595.01 176.6 L595.13 178.4 L595.26 178.5 L595.38 179.4 L595.51 172.4 L595.63 174.2 L595.76 180.4 L595.88 180.5 L596.01 178.9 L596.13 180.0 L596.26 180.1 L596.38 181.4 L596.51 180.8 L596.63 181.8 L596.76 179.9 L596.88 180.7 L597.01 179.3 L597.13 180.4 L597.26 175.0 L597.38 173.3 L597.51 176.4 L597.63 175.8 L597.76 170.7 L597.88 168.8 L598.01 168.9 L598.13 169.6 L598.26 171.1 L598.38 169.2 L598.51 169.5 L598.63 168.5 L598.76 169.5 L598.88 169.9 L599.01 169.9 L599.13 165.3 L599.26 163.8 L599.38 163.9 L599.51 165.3 L599.63 165.1 L599.76 166.3 L599.88 164.8 L600.01 164.9 L600.13 166.3 L600.26 162.8 L600.38 160.4 L600.51 158.9 L600.63 164.7 L600.76 162.8 L600.88 162.0 L601.01 161.1 L601.13 160.9 L601.26 162.1 L601.38 162.2 L601.51 166.9 L601.63 168.7 L601.76 166.3 L601.88 164.1 L602.01 164.2 L602.13 163.6 L602.26 167.8 L602.38 164.6 L602.51 166.2 L602.63 165.3 L602.76 168.4 L602.88 170.5 L603.01 170.9 L603.13 171.6 L603.26 172.8 L603.38 177.0 L603.51 174.1 L603.63 176.0 L603.76 176.5 L603.88 178.6 L604.01 181.0 L604.13 180.7 L604.26 183.0 L604.38 184.6 L604.51 183.3 L604.63 186.9 L604.76 186.4 L604.88 187.6 L605.01 186.8 L605.13 189.3 L605.26 188.4 L605.38 197.4 L605.51 190.3 L605.63 191.8 L605.76 194.7 L605.88 194.5 L606.01 197.7 L606.13 196.8 L606.26 200.9 L606.38 200.4 L606.51 200.4 L606.63 201.0 L606.76 208.5 L606.88 202.8 L607.01 204.3 L607.13 206.4 L607.26 205.6 L607.38 206.6 L607.51 208.1 L607.63 208.5 L607.76 211.0 L607.88 211.9 L608.01 213.0 L608.13 219.2 L608.26 212.8 L608.38 212.7 L608.51 213.2 L608.63 215.0 L608.76 217.8 L608.88 219.8 L609.01 220.2 L609.13 222.7 L609.26 226.7 L609.38 228.8 L609.51 231.6 L609.63 235.2 L609.76 238.3 L609.88 238.4 L610.01 244.9 L610.13 240.9 L610.26 246.1 L610.38 249.9 L610.51 254.2 L610.63 256.1 L610.76 255.3 L610.88 260.0 L611.01 263.7 L611.13 264.5 L611.26 264.4 L611.38 260.6 L611.51 257.4 L611.63 247.6 L611.76 244.7 L611.88 246.2 L612.01 245.0 L612.13 235.7 L612.26 236.1 L612.38 233.2 L612.51 231.2 L612.63 223.9 L612.76 222.6 L612.88 219.0 L613.01 221.2 L613.13 219.0 L613.26 219.1 L613.38 212.8 L613.51 214.9 L613.63 210.8 L613.76 210.4 L613.88 212.6 L614.01 210.9 L614.13 206.3 L614.26 205.7 L614.38 204.7 L614.51 203.2 L614.63 201.5 L614.76 198.6 L614.88 197.5 L615.01 200.3 L615.13 200.4 L615.26 197.9 L615.38 200.4 L615.51 197.1 L615.63 197.3 L615.76 194.4 L615.88 194.7 L616.01 193.5 L616.13 194.5 L616.26 195.2 L616.38 193.5 L616.51 196.7 L616.63 197.8 L616.76 201.1 L616.88 201.4 L617.01 196.8 L617.13 198.3 L617.26 201.6 L617.38 203.5 L617.51 206.5 L617.63 205.8 L617.76 205.6 L617.88 203.5 L618.01 206.0 L618.13 204.7 L618.26 203.5 L618.38 199.6 L618.51 201.4 L618.63 201.5 L618.76 199.3 L618.88 200.3 L619.01 195.8 L619.13 196.4 L619.26 195.1 L619.38 196.2 L619.51 198.3 L619.63 195.5 L619.76 194.7 L619.88 193.6 L620.01 193.2 L620.13 192.9 L620.26 190.8 L620.38 190.4 L620.51 191.8 L620.63 191.2 L620.76 189.1 L620.88 190.8 L621.01 186.7 L621.13 188.5 L621.26 186.3 L621.38 189.2 L621.51 188.5 L621.63 187.7 L621.76 187.5 L621.88 187.2 L622.01 189.7 L622.13 193.8 L622.26 196.3 L622.38 195.6 L622.51 200.8 L622.63 204.9 L622.76 200.6 L622.88 199.7 L623.01 205.9 L623.13 207.1 L623.26 211.9 L623.38 212.8 L623.51 215.4 L623.63 216.0 L623.76 217.0 L623.88 215.8 L624.01 215.8 L624.13 216.0 L624.26 212.3 L624.38 212.1 L624.51 206.2 L624.63 211.2 L624.76 205.2 L624.88 207.9 L625.01 210.0 L625.13 203.3 L625.26 202.9 L625.38 202.8 L625.51 201.8 L625.63 199.9 L625.76 196.6 L625.88 196.9 L626.01 197.0 L626.13 195.9 L626.26 195.6 L626.38 197.2 L626.51 196.0 L626.63 195.2 L626.76 193.5 L626.88 196.1 L627.01 197.7 L627.13 194.8 L627.26 194.2 L627.38 191.6 L627.51 195.2 L627.63 194.4 L627.76 193.2 L627.88 192.4 L628.01 191.7 L628.13 191.6 L628.26 192.2 L628.38 191.4 L628.51 193.4 L628.63 193.1 L628.76 194.7 L628.88 197.2 L629.01 196.3 L629.13 197.5 L629.26 194.9 L629.38 200.6 L629.51 200.1 L629.63 204.2 L629.76 201.8 L629.88 202.4 L630.01 202.7 L630.13 204.5 L630.26 205.2 L630.38 206.1 L630.51 204.6 L630.63 205.8 L630.76 203.3 L630.88 204.1 L631.01 200.9 L631.13 200.3 L631.26 201.2 L631.38 201.6 L631.51 201.0 L631.63 198.9 L631.76 195.8 L631.88 196.7 L632.01 197.0 L632.13 194.7 L632.26 191.4 L632.38 192.7 L632.51 192.6 L632.63 192.8 L632.76 195.2 L632.88 197.2 L633.01 197.3 L633.13 198.8 L633.26 199.9 L633.38 203.3 L633.51 203.9 L633.63 201.2 L633.76 202.1 L633.88 207.6 L634.01 205.5 L634.13 205.1 L634.26 210.1 L634.38 211.0 L634.51 213.5 L634.63 214.8 L634.76 213.6 L634.88 211.0 L635.01 205.1 L635.13 203.9 L635.26 204.7 L635.38 196.2 L635.51 199.8 L635.63 192.4 L635.76 189.9 L635.88 190.4 L636.01 187.1 L636.13 187.2 L636.26 185.4 L636.38 186.0 L636.51 186.5 L636.63 183.3 L636.76 186.0 L636.88 186.5 L637.01 185.7 L637.13 182.9 L637.26 185.0 L637.38 183.8 L637.51 183.5 L637.63 181.9 L637.76 183.7 L637.88 180.8 L638.01 182.6 L638.13 183.2 L638.26 182.8 L638.38 181.4 L638.51 181.3 L638.63 181.6 L638.76 181.0 L638.88 177.9 L639.01 178.0 L639.13 177.2 L639.26 176.8 L639.38 176.0 L639.51 176.6 L639.63 176.3 L639.76 176.1 L639.88 173.5 L640.01 172.6 L640.13 170.9 L640.26 174.7 L640.38 173.3 L640.51 173.1 L640.63 170.8 L640.76 170.4 L640.88 172.7 L641.01 171.3 L641.13 167.7 L641.26 169.3 L641.38 168.2 L641.51 166.1 L641.63 167.6 L641.76 164.0 L641.88 164.7 L642.01 163.4 L642.13 164.9 L642.26 165.0 L642.38 164.7 L642.51 164.8 L642.63 163.8 L642.76 165.0 L642.88 164.3 L643.01 163.4 L643.13 162.0 L643.26 162.8 L643.38 158.9 L643.51 158.2 L643.63 157.5 L643.76 161.0 L643.88 162.8 L644.01 162.4 L644.13 164.5 L644.26 163.6 L644.38 163.5 L644.51 164.3 L644.63 162.4 L644.76 163.0 L644.88 162.1 L645.01 159.5 L645.13 164.6 L645.26 160.1 L645.38 162.2 L645.51 163.1 L645.63 163.5 L645.76 156.8 L645.88 161.9 L646.01 159.2 L646.13 160.8 L646.26 161.9 L646.38 159.5 L646.51 162.9 L646.63 163.3 L646.76 165.2 L646.88 167.5 L647.01 176.3 L647.13 189.1 L647.26 206.7 L647.38 203.3 L647.51 220.8 L647.63 226.9 L647.76 238.6 L647.88 258.3 L648.01 263.4 L648.13 273.9 L648.26 281.0 L648.38 287.7 L648.51 297.1 L648.63 305.4 L648.76 312.8 L648.88 323.4 L649.01 318.1 L649.13 310.7 L649.26 310.0 L649.38 308.2 L649.51 305.4 L649.63 300.2 L649.76 295.4 L649.88 296.5 L650.01 299.0 L650.13 297.3 L650.26 296.8 L650.38 296.2 L650.51 293.5 L650.63 292.1 L650.76 290.6 L650.88 289.8 L651.01 279.6 L651.13 279.5 L651.26 274.9 L651.38 275.0 L651.51 276.3 L651.63 276.6 L651.76 279.0 L651.88 278.6 L652.01 281.5 L652.13 280.3 L652.26 269.6 L652.38 270.3 L652.51 268.2 L652.63 265.9 L652.76 266.7 L652.88 263.4 L653.01 262.2 L653.13 254.0 L653.26 253.5 L653.38 249.4 L653.51 256.8 L653.63 253.7 L653.76 253.4 L653.88 256.7 L654.01 254.0 L654.13 258.5 L654.26 254.1 L654.38 255.4 L654.51 255.5 L654.63 254.7 L654.76 250.9 L654.88 247.1 L655.01 241.0 L655.13 242.9 L655.26 242.1 L655.38 238.1 L655.51 240.2 L655.63 238.5 L655.76 231.9 L655.88 233.0 L656.01 236.0 L656.13 234.4 L656.26 235.5 L656.38 231.0 L656.51 226.2 L656.63 220.2 L656.76 220.4 L656.88 221.1 L657.01 218.3 L657.13 217.8 L657.26 220.4 L657.38 222.6 L657.51 211.5 L657.63 210.6 L657.76 213.1 L657.88 218.8 L658.01 210.3 L658.13 219.9 L658.26 218.4 L658.38 212.2 L658.51 204.2 L658.63 207.5 L658.76 203.5 L658.88 205.7 L659.01 207.7 L659.13 205.3 L659.26 206.6 L659.38 206.0 L659.51 206.0 L659.63 206.7 L659.76 206.1 L659.88 203.0 L660.01 204.4 L660.13 199.2 L660.26 194.3 L660.38 195.6 L660.51 194.1 L660.63 189.6 L660.76 186.3 L660.88 191.3 L661.01 190.1 L661.13 189.9 L661.26 188.5 L661.38 186.3 L661.51 185.0 L661.63 186.0 L661.76 186.7 L661.88 189.3 L662.01 191.0 L662.13 189.5 L662.26 191.5 L662.38 194.1 L662.51 201.3 L662.63 195.8 L662.76 196.0 L662.88 198.4 L663.01 199.9 L663.13 198.9 L663.26 199.0 L663.38 200.6 L663.51 201.2 L663.63 202.8 L663.76 206.9 L663.88 208.2 L664.01 209.0 L664.13 212.3 L664.26 210.6 L664.38 209.7 L664.51 209.2 L664.63 212.0 L664.76 213.5 L664.88 212.7 L665.01 209.7 L665.13 205.8 L665.26 204.1 L665.38 200.7 L665.51 196.8 L665.63 195.5 L665.76 196.8 L665.88 189.9 L666.01 188.2 L666.13 185.9 L666.26 186.8 L666.38 186.3 L666.51 186.2 L666.63 186.8 L666.76 191.3 L666.88 190.5 L667.01 186.8 L667.13 191.2 L667.26 194.9 L667.38 193.4 L667.51 187.2 L667.63 189.4 L667.76 185.8 L667.88 183.3 L668.01 182.8 L668.13 178.8 L668.26 175.3 L668.38 170.7 L668.51 164.7 L668.63 154.1 L668.76 152.2 L668.88 150.2 L669.01 149.2 L669.13 143.7 L669.26 141.1 L669.38 142.2 L669.51 138.6 L669.63 136.5 L669.76 137.8 L669.88 134.1 L670.01 130.2 L670.13 132.6 L670.26 132.8 L670.38 135.0 L670.51 126.7 L670.63 125.4 L670.76 123.7 L670.88 121.4 L671.01 119.2 L671.13 120.1 L671.26 114.4 L671.38 118.7 L671.51 112.7 L671.63 107.5 L671.76 111.1 L671.88 106.1 L672.01 107.4 L672.13 108.8 L672.26 110.6 L672.38 104.4 L672.51 104.4 L672.63 99.3 L672.76 101.7 L672.88 100.9 L673.01 98.6 L673.13 88.2 L673.26 92.2 L673.38 90.6 L673.51 87.6 L673.63 84.3 L673.76 83.7 L673.88 79.8 L674.01 76.7 L674.13 71.9 L674.26 70.9 L674.38 70.4 L674.51 67.1 L674.63 63.3 L674.76 62.2 L674.88 60.7 L675.01 59.2 L675.13 57.7 L675.26 55.5 L675.38 53.6 L675.40 53.3"/>
</g>
<circle cx="675.5" cy="148.4" r="2.9" fill="#0000ff" stroke="#000" stroke-width="1"/>
<circle cx="675.9" cy="94.5" r="2.9" fill="#000000" stroke="#000" stroke-width="1"/>
<circle cx="675.4" cy="53.3" r="2.9" fill="#ff0000" stroke="#000" stroke-width="1"/>
<rect x="39.5" y="28.5" width="669.0" height="489.0" fill="none" stroke="#262626" stroke-width="1"/>
<text transform="translate(373.4 21.7) scale(1 1.06)" font-size="20.05" text-anchor="middle" fill="#000">¿Empresas grandes, pequeñas o ambas?</text>
<text class="t" x="148.2" y="533" font-size="16" text-anchor="middle">2004</text>
<text class="t" x="271.6" y="533" font-size="16" text-anchor="middle">2008</text>
<text class="t" x="395.0" y="533" font-size="16" text-anchor="middle">2012</text>
<text class="t" x="518.4" y="533" font-size="16" text-anchor="middle">2016</text>
<text class="t" x="641.7" y="533" font-size="16" text-anchor="middle">2020</text>
<text class="t" x="35.5" y="469.9" font-size="16" text-anchor="end">1</text>
<text class="t" x="35.5" y="380.6" font-size="16" text-anchor="end">2</text>
<text class="t" x="35.5" y="291.3" font-size="16" text-anchor="end">3</text>
<text class="t" x="35.5" y="202.0" font-size="16" text-anchor="end">4</text>
<text class="t" x="35.5" y="112.7" font-size="16" text-anchor="end">5</text>
<text class="t" transform="translate(18.3 273.6) rotate(-90)" font-size="15.75" text-anchor="middle" fill="#000">Base 1 = Mayo 2001</text>
<line x1="52.3" x2="85.4" y1="49.20" y2="49.20" stroke="#0000ff" stroke-width="1.5"/>
<text class="t" x="98.4" y="54.70" font-size="16">S&amp;P 500</text>
<line x1="52.3" x2="85.4" y1="72.05" y2="72.05" stroke="#000000" stroke-width="1.5"/>
<text class="t" x="98.4" y="77.55" font-size="16">Total Market</text>
<line x1="52.3" x2="85.4" y1="94.90" y2="94.90" stroke="#ff0000" stroke-width="1.5"/>
<text class="t" x="98.4" y="100.40" font-size="16">Small Caps</text>
</svg></body></html>
